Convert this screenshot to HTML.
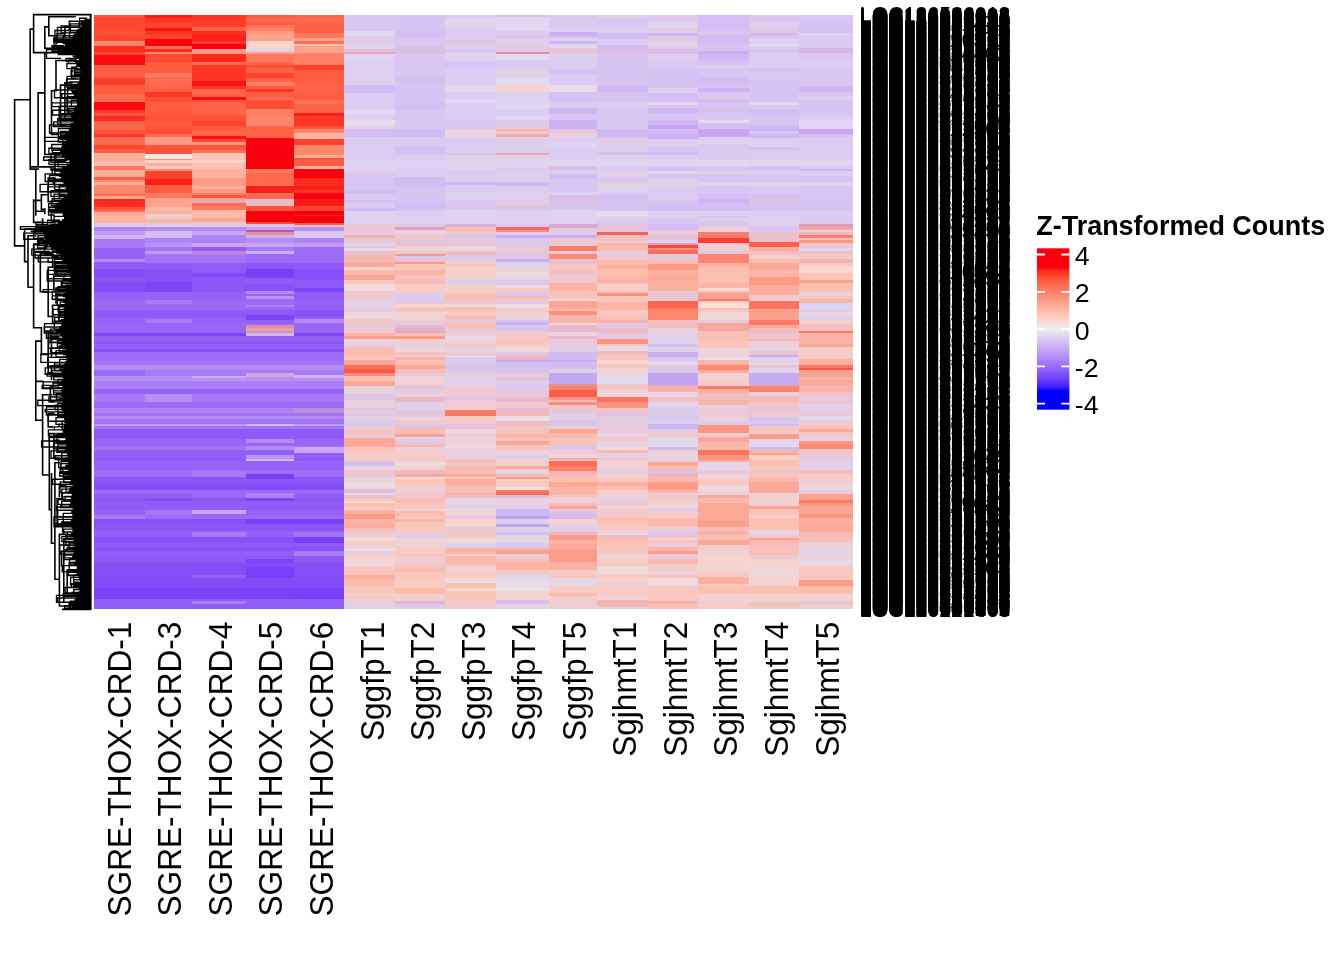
<!DOCTYPE html><html><head><meta charset="utf-8"><title>Heatmap</title><style>
html,body{margin:0;padding:0;background:#fff}
body{width:1344px;height:960px;position:relative;overflow:hidden;font-family:"Liberation Sans",sans-serif;color:#000}
svg{position:absolute;left:0;top:0;will-change:transform}
.rn{font-size:21.33px}
.cn{font-size:33px}
.lt{font-size:26.95px;font-weight:bold}
.ll{font-size:26.67px}

</style></head><body>
<svg width="1344" height="960" viewBox="0 0 1344 960">
<g shape-rendering="crispEdges">
<rect x="94.2" y="14.70" width="50.9" height="3.05" fill="#FF543B"/>
<rect x="94.2" y="17.45" width="50.9" height="13.55" fill="#FF4730"/>
<rect x="94.2" y="30.70" width="50.9" height="5.05" fill="#FF5037"/>
<rect x="94.2" y="35.45" width="50.9" height="5.80" fill="#FF4730"/>
<rect x="94.2" y="40.95" width="50.9" height="5.05" fill="#FF876C"/>
<rect x="94.2" y="45.70" width="50.9" height="7.05" fill="#FC2B1D"/>
<rect x="94.2" y="52.45" width="50.9" height="2.55" fill="#FF422C"/>
<rect x="94.2" y="54.70" width="50.9" height="10.30" fill="#FA0910"/>
<rect x="94.2" y="64.70" width="50.9" height="13.30" fill="#FF5C42"/>
<rect x="94.2" y="77.70" width="50.9" height="7.80" fill="#FE3D29"/>
<rect x="94.2" y="85.20" width="50.9" height="8.80" fill="#FF5C42"/>
<rect x="94.2" y="93.70" width="50.9" height="8.55" fill="#FF6B50"/>
<rect x="94.2" y="101.95" width="50.9" height="8.05" fill="#FA0910"/>
<rect x="94.2" y="109.70" width="50.9" height="3.80" fill="#FE3725"/>
<rect x="94.2" y="113.20" width="50.9" height="3.55" fill="#FF543B"/>
<rect x="94.2" y="116.45" width="50.9" height="4.80" fill="#FC2B1D"/>
<rect x="94.2" y="120.95" width="50.9" height="9.80" fill="#FF6449"/>
<rect x="94.2" y="130.45" width="50.9" height="4.05" fill="#FF543B"/>
<rect x="94.2" y="134.20" width="50.9" height="3.05" fill="#FE3725"/>
<rect x="94.2" y="136.95" width="50.9" height="8.05" fill="#FF6B50"/>
<rect x="94.2" y="144.70" width="50.9" height="4.80" fill="#FF422C"/>
<rect x="94.2" y="149.20" width="50.9" height="4.05" fill="#FF5C42"/>
<rect x="94.2" y="152.95" width="50.9" height="7.30" fill="#FFAE9A"/>
<rect x="94.2" y="159.95" width="50.9" height="2.30" fill="#FFB4A1"/>
<rect x="94.2" y="161.95" width="50.9" height="4.05" fill="#FFBFB0"/>
<rect x="94.2" y="165.70" width="50.9" height="5.05" fill="#FF795E"/>
<rect x="94.2" y="170.45" width="50.9" height="6.80" fill="#FFAE9A"/>
<rect x="94.2" y="176.95" width="50.9" height="3.05" fill="#FF5C42"/>
<rect x="94.2" y="179.70" width="50.9" height="2.30" fill="#FF8D73"/>
<rect x="94.2" y="181.70" width="50.9" height="4.05" fill="#FFAE9A"/>
<rect x="94.2" y="185.45" width="50.9" height="8.80" fill="#FF876C"/>
<rect x="94.2" y="193.95" width="50.9" height="2.05" fill="#FF6B50"/>
<rect x="94.2" y="195.70" width="50.9" height="3.30" fill="#FFA892"/>
<rect x="94.2" y="198.70" width="50.9" height="8.55" fill="#FC2B1D"/>
<rect x="94.2" y="206.95" width="50.9" height="3.30" fill="#FF543B"/>
<rect x="94.2" y="209.95" width="50.9" height="2.05" fill="#FF7257"/>
<rect x="94.2" y="211.70" width="50.9" height="5.05" fill="#FFA892"/>
<rect x="94.2" y="216.45" width="50.9" height="6.80" fill="#FFB4A1"/>
<rect x="94.2" y="222.95" width="50.9" height="4.05" fill="#DCC8E8"/>
<rect x="94.2" y="226.70" width="50.9" height="5.05" fill="#AE83F6"/>
<rect x="94.2" y="231.45" width="50.9" height="4.05" fill="#C09CF5"/>
<rect x="94.2" y="235.20" width="50.9" height="4.05" fill="#CFB6F3"/>
<rect x="94.2" y="238.95" width="50.9" height="9.80" fill="#A87BF6"/>
<rect x="94.2" y="248.45" width="50.9" height="10.55" fill="#9462F7"/>
<rect x="94.2" y="258.70" width="50.9" height="3.30" fill="#B48CF6"/>
<rect x="94.2" y="261.70" width="50.9" height="7.80" fill="#8F5CF7"/>
<rect x="94.2" y="269.20" width="50.9" height="7.80" fill="#804CF8"/>
<rect x="94.2" y="276.70" width="50.9" height="6.05" fill="#8A57F7"/>
<rect x="94.2" y="282.45" width="50.9" height="9.55" fill="#834EF8"/>
<rect x="94.2" y="291.70" width="50.9" height="8.80" fill="#9462F7"/>
<rect x="94.2" y="300.20" width="50.9" height="10.05" fill="#9B6AF7"/>
<rect x="94.2" y="309.95" width="50.9" height="7.05" fill="#8D5AF7"/>
<rect x="94.2" y="316.70" width="50.9" height="6.80" fill="#9462F7"/>
<rect x="94.2" y="323.20" width="50.9" height="9.80" fill="#9766F7"/>
<rect x="94.2" y="332.70" width="50.9" height="3.55" fill="#7B46F8"/>
<rect x="94.2" y="335.95" width="50.9" height="5.30" fill="#9462F7"/>
<rect x="94.2" y="340.95" width="50.9" height="3.30" fill="#8A57F7"/>
<rect x="94.2" y="343.95" width="50.9" height="5.05" fill="#9462F7"/>
<rect x="94.2" y="348.70" width="50.9" height="3.30" fill="#8551F8"/>
<rect x="94.2" y="351.70" width="50.9" height="9.30" fill="#9B6AF7"/>
<rect x="94.2" y="360.70" width="50.9" height="4.30" fill="#A577F7"/>
<rect x="94.2" y="364.70" width="50.9" height="5.80" fill="#B48CF6"/>
<rect x="94.2" y="370.20" width="50.9" height="6.05" fill="#9B6AF7"/>
<rect x="94.2" y="375.95" width="50.9" height="5.05" fill="#B790F5"/>
<rect x="94.2" y="380.70" width="50.9" height="8.55" fill="#AB7FF6"/>
<rect x="94.2" y="388.95" width="50.9" height="5.05" fill="#9462F7"/>
<rect x="94.2" y="393.70" width="50.9" height="8.80" fill="#A87BF6"/>
<rect x="94.2" y="402.20" width="50.9" height="6.05" fill="#9B6AF7"/>
<rect x="94.2" y="407.95" width="50.9" height="5.05" fill="#AE83F6"/>
<rect x="94.2" y="412.70" width="50.9" height="4.05" fill="#A173F7"/>
<rect x="94.2" y="416.45" width="50.9" height="3.05" fill="#B188F6"/>
<rect x="94.2" y="419.20" width="50.9" height="5.05" fill="#A173F7"/>
<rect x="94.2" y="423.95" width="50.9" height="2.55" fill="#C09CF5"/>
<rect x="94.2" y="426.20" width="50.9" height="3.55" fill="#A173F7"/>
<rect x="94.2" y="429.45" width="50.9" height="9.80" fill="#8D5AF7"/>
<rect x="94.2" y="438.95" width="50.9" height="7.80" fill="#9766F7"/>
<rect x="94.2" y="446.45" width="50.9" height="4.05" fill="#A173F7"/>
<rect x="94.2" y="450.20" width="50.9" height="8.80" fill="#915FF7"/>
<rect x="94.2" y="458.70" width="50.9" height="1.55" fill="#8551F8"/>
<rect x="94.2" y="459.95" width="50.9" height="10.80" fill="#9462F7"/>
<rect x="94.2" y="470.45" width="50.9" height="6.80" fill="#9E6EF7"/>
<rect x="94.2" y="476.95" width="50.9" height="7.80" fill="#8A57F7"/>
<rect x="94.2" y="484.45" width="50.9" height="5.55" fill="#834EF8"/>
<rect x="94.2" y="489.70" width="50.9" height="4.05" fill="#9B6AF7"/>
<rect x="94.2" y="493.45" width="50.9" height="4.55" fill="#915FF7"/>
<rect x="94.2" y="497.70" width="50.9" height="3.55" fill="#8A57F7"/>
<rect x="94.2" y="500.95" width="50.9" height="9.30" fill="#8F5CF7"/>
<rect x="94.2" y="509.95" width="50.9" height="5.05" fill="#9462F7"/>
<rect x="94.2" y="514.70" width="50.9" height="4.30" fill="#A87BF6"/>
<rect x="94.2" y="518.70" width="50.9" height="5.55" fill="#8551F8"/>
<rect x="94.2" y="523.95" width="50.9" height="7.80" fill="#8A57F7"/>
<rect x="94.2" y="531.45" width="50.9" height="6.30" fill="#9462F7"/>
<rect x="94.2" y="537.45" width="50.9" height="5.55" fill="#8551F8"/>
<rect x="94.2" y="542.70" width="50.9" height="5.05" fill="#8F5CF7"/>
<rect x="94.2" y="547.45" width="50.9" height="4.05" fill="#8551F8"/>
<rect x="94.2" y="551.20" width="50.9" height="5.05" fill="#915FF7"/>
<rect x="94.2" y="555.95" width="50.9" height="7.80" fill="#8D5AF7"/>
<rect x="94.2" y="563.45" width="50.9" height="17.30" fill="#834EF8"/>
<rect x="94.2" y="580.45" width="50.9" height="7.80" fill="#804CF8"/>
<rect x="94.2" y="587.95" width="50.9" height="11.55" fill="#7843F8"/>
<rect x="94.2" y="599.20" width="50.9" height="9.80" fill="#8F5CF7"/>
<rect x="94.2" y="608.70" width="50.9" height="0.40" fill="#8A57F7"/>
<rect x="144.8" y="14.70" width="47.4" height="4.05" fill="#FB1915"/>
<rect x="144.8" y="18.45" width="47.4" height="5.05" fill="#FE3725"/>
<rect x="144.8" y="23.20" width="47.4" height="5.05" fill="#FF422C"/>
<rect x="144.8" y="27.95" width="47.4" height="3.55" fill="#FB1313"/>
<rect x="144.8" y="31.20" width="47.4" height="4.55" fill="#FE3725"/>
<rect x="144.8" y="35.45" width="47.4" height="4.05" fill="#FF422C"/>
<rect x="144.8" y="39.20" width="47.4" height="6.80" fill="#FA000E"/>
<rect x="144.8" y="45.70" width="47.4" height="3.55" fill="#FF7257"/>
<rect x="144.8" y="48.95" width="47.4" height="3.05" fill="#FC2B1D"/>
<rect x="144.8" y="51.70" width="47.4" height="2.80" fill="#FF876C"/>
<rect x="144.8" y="54.20" width="47.4" height="7.80" fill="#FF4C33"/>
<rect x="144.8" y="61.70" width="47.4" height="11.55" fill="#FF5C42"/>
<rect x="144.8" y="72.95" width="47.4" height="4.05" fill="#FF795E"/>
<rect x="144.8" y="76.70" width="47.4" height="8.80" fill="#FF6B50"/>
<rect x="144.8" y="85.20" width="47.4" height="7.05" fill="#FF6449"/>
<rect x="144.8" y="91.95" width="47.4" height="5.30" fill="#FE3725"/>
<rect x="144.8" y="96.95" width="47.4" height="5.30" fill="#FF4C33"/>
<rect x="144.8" y="101.95" width="47.4" height="13.80" fill="#FF5C42"/>
<rect x="144.8" y="115.45" width="47.4" height="5.80" fill="#FF543B"/>
<rect x="144.8" y="120.95" width="47.4" height="5.05" fill="#FF5C42"/>
<rect x="144.8" y="125.70" width="47.4" height="4.05" fill="#FF543B"/>
<rect x="144.8" y="129.45" width="47.4" height="5.05" fill="#FF4C33"/>
<rect x="144.8" y="134.20" width="47.4" height="3.05" fill="#FF6B50"/>
<rect x="144.8" y="136.95" width="47.4" height="8.80" fill="#FF9B84"/>
<rect x="144.8" y="145.45" width="47.4" height="8.80" fill="#FF543B"/>
<rect x="144.8" y="153.95" width="47.4" height="5.05" fill="#F1E8E6"/>
<rect x="144.8" y="158.70" width="47.4" height="1.55" fill="#FF8D73"/>
<rect x="144.8" y="159.95" width="47.4" height="3.05" fill="#FBD1C7"/>
<rect x="144.8" y="162.70" width="47.4" height="3.30" fill="#FFAE9A"/>
<rect x="144.8" y="165.70" width="47.4" height="3.55" fill="#FDCBBF"/>
<rect x="144.8" y="168.95" width="47.4" height="2.30" fill="#FF8D73"/>
<rect x="144.8" y="170.95" width="47.4" height="8.05" fill="#FF422C"/>
<rect x="144.8" y="178.70" width="47.4" height="6.55" fill="#FB1F17"/>
<rect x="144.8" y="184.95" width="47.4" height="8.30" fill="#FF5C42"/>
<rect x="144.8" y="192.95" width="47.4" height="5.05" fill="#FF795E"/>
<rect x="144.8" y="197.70" width="47.4" height="9.55" fill="#FFA28B"/>
<rect x="144.8" y="206.95" width="47.4" height="4.05" fill="#FFBAA9"/>
<rect x="144.8" y="210.70" width="47.4" height="3.30" fill="#FFAE9A"/>
<rect x="144.8" y="213.70" width="47.4" height="5.30" fill="#ECD0D0"/>
<rect x="144.8" y="218.70" width="47.4" height="4.55" fill="#FFB4A1"/>
<rect x="144.8" y="222.95" width="47.4" height="4.05" fill="#E0CCE4"/>
<rect x="144.8" y="226.70" width="47.4" height="5.05" fill="#B48CF6"/>
<rect x="144.8" y="231.45" width="47.4" height="7.05" fill="#D3BBF3"/>
<rect x="144.8" y="238.20" width="47.4" height="4.80" fill="#AE83F6"/>
<rect x="144.8" y="242.70" width="47.4" height="5.05" fill="#BA94F5"/>
<rect x="144.8" y="247.45" width="47.4" height="4.05" fill="#A173F7"/>
<rect x="144.8" y="251.20" width="47.4" height="3.30" fill="#C09CF5"/>
<rect x="144.8" y="254.20" width="47.4" height="8.80" fill="#A173F7"/>
<rect x="144.8" y="262.70" width="47.4" height="6.80" fill="#8F5CF7"/>
<rect x="144.8" y="269.20" width="47.4" height="13.55" fill="#8551F8"/>
<rect x="144.8" y="282.45" width="47.4" height="9.55" fill="#7B46F8"/>
<rect x="144.8" y="291.70" width="47.4" height="8.80" fill="#9462F7"/>
<rect x="144.8" y="300.20" width="47.4" height="4.05" fill="#A87BF6"/>
<rect x="144.8" y="303.95" width="47.4" height="6.30" fill="#9B6AF7"/>
<rect x="144.8" y="309.95" width="47.4" height="7.05" fill="#8D5AF7"/>
<rect x="144.8" y="316.70" width="47.4" height="3.05" fill="#9462F7"/>
<rect x="144.8" y="319.45" width="47.4" height="3.55" fill="#A87BF6"/>
<rect x="144.8" y="322.70" width="47.4" height="0.80" fill="#9462F7"/>
<rect x="144.8" y="323.20" width="47.4" height="9.80" fill="#9766F7"/>
<rect x="144.8" y="332.70" width="47.4" height="3.55" fill="#7B46F8"/>
<rect x="144.8" y="335.95" width="47.4" height="5.30" fill="#9462F7"/>
<rect x="144.8" y="340.95" width="47.4" height="3.30" fill="#8A57F7"/>
<rect x="144.8" y="343.95" width="47.4" height="5.05" fill="#9462F7"/>
<rect x="144.8" y="348.70" width="47.4" height="3.30" fill="#8551F8"/>
<rect x="144.8" y="351.70" width="47.4" height="9.30" fill="#9B6AF7"/>
<rect x="144.8" y="360.70" width="47.4" height="4.30" fill="#A577F7"/>
<rect x="144.8" y="364.70" width="47.4" height="5.80" fill="#B48CF6"/>
<rect x="144.8" y="370.20" width="47.4" height="6.05" fill="#A87BF6"/>
<rect x="144.8" y="375.95" width="47.4" height="5.05" fill="#B790F5"/>
<rect x="144.8" y="380.70" width="47.4" height="8.55" fill="#AB7FF6"/>
<rect x="144.8" y="388.95" width="47.4" height="5.05" fill="#9462F7"/>
<rect x="144.8" y="393.70" width="47.4" height="8.80" fill="#B790F5"/>
<rect x="144.8" y="402.20" width="47.4" height="6.05" fill="#9B6AF7"/>
<rect x="144.8" y="407.95" width="47.4" height="5.05" fill="#AE83F6"/>
<rect x="144.8" y="412.70" width="47.4" height="4.05" fill="#A173F7"/>
<rect x="144.8" y="416.45" width="47.4" height="3.05" fill="#B188F6"/>
<rect x="144.8" y="419.20" width="47.4" height="5.05" fill="#A173F7"/>
<rect x="144.8" y="423.95" width="47.4" height="2.55" fill="#C09CF5"/>
<rect x="144.8" y="426.20" width="47.4" height="3.55" fill="#A173F7"/>
<rect x="144.8" y="429.45" width="47.4" height="9.80" fill="#8D5AF7"/>
<rect x="144.8" y="438.95" width="47.4" height="7.80" fill="#9766F7"/>
<rect x="144.8" y="446.45" width="47.4" height="4.05" fill="#A173F7"/>
<rect x="144.8" y="450.20" width="47.4" height="8.80" fill="#915FF7"/>
<rect x="144.8" y="458.70" width="47.4" height="1.55" fill="#8551F8"/>
<rect x="144.8" y="459.95" width="47.4" height="10.80" fill="#9462F7"/>
<rect x="144.8" y="470.45" width="47.4" height="6.80" fill="#9E6EF7"/>
<rect x="144.8" y="476.95" width="47.4" height="7.80" fill="#8A57F7"/>
<rect x="144.8" y="484.45" width="47.4" height="5.55" fill="#834EF8"/>
<rect x="144.8" y="489.70" width="47.4" height="4.05" fill="#9B6AF7"/>
<rect x="144.8" y="493.45" width="47.4" height="4.55" fill="#915FF7"/>
<rect x="144.8" y="497.70" width="47.4" height="3.55" fill="#804CF8"/>
<rect x="144.8" y="500.95" width="47.4" height="9.30" fill="#8F5CF7"/>
<rect x="144.8" y="509.95" width="47.4" height="5.05" fill="#A577F7"/>
<rect x="144.8" y="514.70" width="47.4" height="4.30" fill="#9B6AF7"/>
<rect x="144.8" y="518.70" width="47.4" height="5.55" fill="#8551F8"/>
<rect x="144.8" y="523.95" width="47.4" height="7.80" fill="#8A57F7"/>
<rect x="144.8" y="531.45" width="47.4" height="6.30" fill="#9462F7"/>
<rect x="144.8" y="537.45" width="47.4" height="5.55" fill="#8551F8"/>
<rect x="144.8" y="542.70" width="47.4" height="5.05" fill="#8F5CF7"/>
<rect x="144.8" y="547.45" width="47.4" height="4.05" fill="#8551F8"/>
<rect x="144.8" y="551.20" width="47.4" height="5.05" fill="#915FF7"/>
<rect x="144.8" y="555.95" width="47.4" height="7.80" fill="#8D5AF7"/>
<rect x="144.8" y="563.45" width="47.4" height="17.30" fill="#834EF8"/>
<rect x="144.8" y="580.45" width="47.4" height="7.80" fill="#804CF8"/>
<rect x="144.8" y="587.95" width="47.4" height="11.55" fill="#7843F8"/>
<rect x="144.8" y="599.20" width="47.4" height="9.80" fill="#8F5CF7"/>
<rect x="144.8" y="608.70" width="47.4" height="0.40" fill="#8A57F7"/>
<rect x="191.9" y="14.70" width="54.4" height="4.05" fill="#FE3725"/>
<rect x="191.9" y="18.45" width="54.4" height="8.80" fill="#FE3D29"/>
<rect x="191.9" y="26.95" width="54.4" height="4.55" fill="#FF6449"/>
<rect x="191.9" y="31.20" width="54.4" height="4.55" fill="#FC2B1D"/>
<rect x="191.9" y="35.45" width="54.4" height="5.80" fill="#FB1F17"/>
<rect x="191.9" y="40.95" width="54.4" height="3.30" fill="#FE3725"/>
<rect x="191.9" y="43.95" width="54.4" height="5.30" fill="#FA000E"/>
<rect x="191.9" y="48.95" width="54.4" height="5.55" fill="#FF9E87"/>
<rect x="191.9" y="54.20" width="54.4" height="7.80" fill="#FC2B1D"/>
<rect x="191.9" y="61.70" width="54.4" height="3.55" fill="#FF6B50"/>
<rect x="191.9" y="64.95" width="54.4" height="16.05" fill="#FE3725"/>
<rect x="191.9" y="80.70" width="54.4" height="5.80" fill="#FB1313"/>
<rect x="191.9" y="86.20" width="54.4" height="3.05" fill="#FE3725"/>
<rect x="191.9" y="88.95" width="54.4" height="8.30" fill="#FF6449"/>
<rect x="191.9" y="96.95" width="54.4" height="3.30" fill="#FA0910"/>
<rect x="191.9" y="99.95" width="54.4" height="2.55" fill="#FF543B"/>
<rect x="191.9" y="102.20" width="54.4" height="13.55" fill="#FF6449"/>
<rect x="191.9" y="115.45" width="54.4" height="5.80" fill="#FF543B"/>
<rect x="191.9" y="120.95" width="54.4" height="5.05" fill="#FF422C"/>
<rect x="191.9" y="125.70" width="54.4" height="5.05" fill="#FF5C42"/>
<rect x="191.9" y="130.45" width="54.4" height="6.30" fill="#FF6449"/>
<rect x="191.9" y="136.45" width="54.4" height="2.80" fill="#FB1313"/>
<rect x="191.9" y="138.95" width="54.4" height="3.05" fill="#FF4C33"/>
<rect x="191.9" y="141.70" width="54.4" height="3.80" fill="#FF9B84"/>
<rect x="191.9" y="145.20" width="54.4" height="5.30" fill="#FF543B"/>
<rect x="191.9" y="150.20" width="54.4" height="3.05" fill="#FF7257"/>
<rect x="191.9" y="152.95" width="54.4" height="7.30" fill="#FEC5B8"/>
<rect x="191.9" y="159.95" width="54.4" height="3.05" fill="#FBD1C7"/>
<rect x="191.9" y="162.70" width="54.4" height="6.55" fill="#FFBFB0"/>
<rect x="191.9" y="168.95" width="54.4" height="9.30" fill="#FFB4A1"/>
<rect x="191.9" y="177.95" width="54.4" height="8.80" fill="#FF9B84"/>
<rect x="191.9" y="186.45" width="54.4" height="3.05" fill="#FFAE9A"/>
<rect x="191.9" y="189.20" width="54.4" height="4.05" fill="#FF9B84"/>
<rect x="191.9" y="192.95" width="54.4" height="2.05" fill="#FF8065"/>
<rect x="191.9" y="194.70" width="54.4" height="3.30" fill="#FF543B"/>
<rect x="191.9" y="197.70" width="54.4" height="1.80" fill="#FF9B84"/>
<rect x="191.9" y="199.20" width="54.4" height="4.05" fill="#E8A8B8"/>
<rect x="191.9" y="202.95" width="54.4" height="3.55" fill="#FF6B50"/>
<rect x="191.9" y="206.20" width="54.4" height="4.55" fill="#FF795E"/>
<rect x="191.9" y="210.45" width="54.4" height="8.30" fill="#FFBAA9"/>
<rect x="191.9" y="218.45" width="54.4" height="4.05" fill="#FFA892"/>
<rect x="191.9" y="222.20" width="54.4" height="4.80" fill="#E4C8DC"/>
<rect x="191.9" y="226.70" width="54.4" height="5.05" fill="#B48CF6"/>
<rect x="191.9" y="231.45" width="54.4" height="4.05" fill="#C5A5F4"/>
<rect x="191.9" y="235.20" width="54.4" height="7.80" fill="#AE83F6"/>
<rect x="191.9" y="242.70" width="54.4" height="5.05" fill="#C5A5F4"/>
<rect x="191.9" y="247.45" width="54.4" height="3.55" fill="#8F5CF7"/>
<rect x="191.9" y="250.70" width="54.4" height="4.55" fill="#BE85D8"/>
<rect x="191.9" y="254.95" width="54.4" height="8.80" fill="#A173F7"/>
<rect x="191.9" y="263.45" width="54.4" height="9.80" fill="#8F5CF7"/>
<rect x="191.9" y="272.95" width="54.4" height="4.05" fill="#804CF8"/>
<rect x="191.9" y="276.70" width="54.4" height="15.30" fill="#8A57F7"/>
<rect x="191.9" y="291.70" width="54.4" height="8.80" fill="#9462F7"/>
<rect x="191.9" y="300.20" width="54.4" height="10.05" fill="#9B6AF7"/>
<rect x="191.9" y="309.95" width="54.4" height="7.05" fill="#8D5AF7"/>
<rect x="191.9" y="316.70" width="54.4" height="6.80" fill="#9462F7"/>
<rect x="191.9" y="323.20" width="54.4" height="9.80" fill="#9766F7"/>
<rect x="191.9" y="332.70" width="54.4" height="3.55" fill="#7B46F8"/>
<rect x="191.9" y="335.95" width="54.4" height="5.30" fill="#9462F7"/>
<rect x="191.9" y="340.95" width="54.4" height="3.30" fill="#8A57F7"/>
<rect x="191.9" y="343.95" width="54.4" height="5.05" fill="#9462F7"/>
<rect x="191.9" y="348.70" width="54.4" height="3.30" fill="#8551F8"/>
<rect x="191.9" y="351.70" width="54.4" height="9.30" fill="#9B6AF7"/>
<rect x="191.9" y="360.70" width="54.4" height="4.30" fill="#A577F7"/>
<rect x="191.9" y="364.70" width="54.4" height="5.80" fill="#B48CF6"/>
<rect x="191.9" y="370.20" width="54.4" height="6.05" fill="#A87BF6"/>
<rect x="191.9" y="375.95" width="54.4" height="2.55" fill="#CAADF4"/>
<rect x="191.9" y="378.20" width="54.4" height="2.80" fill="#B790F5"/>
<rect x="191.9" y="380.70" width="54.4" height="8.55" fill="#AB7FF6"/>
<rect x="191.9" y="388.95" width="54.4" height="5.05" fill="#9462F7"/>
<rect x="191.9" y="393.70" width="54.4" height="8.80" fill="#A87BF6"/>
<rect x="191.9" y="402.20" width="54.4" height="6.05" fill="#9B6AF7"/>
<rect x="191.9" y="407.95" width="54.4" height="5.05" fill="#AE83F6"/>
<rect x="191.9" y="412.70" width="54.4" height="4.05" fill="#A173F7"/>
<rect x="191.9" y="416.45" width="54.4" height="3.05" fill="#B188F6"/>
<rect x="191.9" y="419.20" width="54.4" height="5.05" fill="#A173F7"/>
<rect x="191.9" y="423.95" width="54.4" height="2.55" fill="#C09CF5"/>
<rect x="191.9" y="426.20" width="54.4" height="3.55" fill="#A173F7"/>
<rect x="191.9" y="429.45" width="54.4" height="9.80" fill="#8D5AF7"/>
<rect x="191.9" y="438.95" width="54.4" height="7.80" fill="#9766F7"/>
<rect x="191.9" y="446.45" width="54.4" height="4.05" fill="#A173F7"/>
<rect x="191.9" y="450.20" width="54.4" height="8.80" fill="#915FF7"/>
<rect x="191.9" y="458.70" width="54.4" height="1.55" fill="#8551F8"/>
<rect x="191.9" y="459.95" width="54.4" height="10.80" fill="#9462F7"/>
<rect x="191.9" y="470.45" width="54.4" height="1.05" fill="#9E6EF7"/>
<rect x="191.9" y="471.20" width="54.4" height="6.05" fill="#A87BF6"/>
<rect x="191.9" y="476.95" width="54.4" height="7.80" fill="#8A57F7"/>
<rect x="191.9" y="484.45" width="54.4" height="5.55" fill="#834EF8"/>
<rect x="191.9" y="489.70" width="54.4" height="8.30" fill="#9B6AF7"/>
<rect x="191.9" y="497.70" width="54.4" height="3.55" fill="#8A57F7"/>
<rect x="191.9" y="500.95" width="54.4" height="9.30" fill="#8F5CF7"/>
<rect x="191.9" y="509.95" width="54.4" height="0.80" fill="#9462F7"/>
<rect x="191.9" y="510.45" width="54.4" height="4.05" fill="#C5A5F4"/>
<rect x="191.9" y="514.20" width="54.4" height="0.80" fill="#9462F7"/>
<rect x="191.9" y="514.70" width="54.4" height="4.30" fill="#9B6AF7"/>
<rect x="191.9" y="518.70" width="54.4" height="5.55" fill="#8551F8"/>
<rect x="191.9" y="523.95" width="54.4" height="7.80" fill="#8A57F7"/>
<rect x="191.9" y="531.45" width="54.4" height="1.30" fill="#9462F7"/>
<rect x="191.9" y="532.45" width="54.4" height="5.05" fill="#A87BF6"/>
<rect x="191.9" y="537.20" width="54.4" height="0.55" fill="#9462F7"/>
<rect x="191.9" y="537.45" width="54.4" height="5.55" fill="#8551F8"/>
<rect x="191.9" y="542.70" width="54.4" height="5.05" fill="#8F5CF7"/>
<rect x="191.9" y="547.45" width="54.4" height="4.05" fill="#8551F8"/>
<rect x="191.9" y="551.20" width="54.4" height="5.05" fill="#915FF7"/>
<rect x="191.9" y="555.95" width="54.4" height="7.80" fill="#8D5AF7"/>
<rect x="191.9" y="563.45" width="54.4" height="11.55" fill="#834EF8"/>
<rect x="191.9" y="574.70" width="54.4" height="3.30" fill="#9462F7"/>
<rect x="191.9" y="577.70" width="54.4" height="3.05" fill="#834EF8"/>
<rect x="191.9" y="580.45" width="54.4" height="7.80" fill="#804CF8"/>
<rect x="191.9" y="587.95" width="54.4" height="11.55" fill="#7843F8"/>
<rect x="191.9" y="599.20" width="54.4" height="1.80" fill="#8F5CF7"/>
<rect x="191.9" y="600.70" width="54.4" height="3.55" fill="#A87BF6"/>
<rect x="191.9" y="603.95" width="54.4" height="5.05" fill="#8F5CF7"/>
<rect x="191.9" y="608.70" width="54.4" height="0.40" fill="#8A57F7"/>
<rect x="246.0" y="14.70" width="48.3" height="4.05" fill="#FF5C42"/>
<rect x="246.0" y="18.45" width="48.3" height="3.55" fill="#FF6B50"/>
<rect x="246.0" y="21.70" width="48.3" height="3.55" fill="#FF5C42"/>
<rect x="246.0" y="24.95" width="48.3" height="3.30" fill="#FF7257"/>
<rect x="246.0" y="27.95" width="48.3" height="3.55" fill="#FF8065"/>
<rect x="246.0" y="31.20" width="48.3" height="3.55" fill="#FF9B84"/>
<rect x="246.0" y="34.45" width="48.3" height="6.80" fill="#FFA28B"/>
<rect x="246.0" y="40.95" width="48.3" height="8.05" fill="#FAD4CB"/>
<rect x="246.0" y="48.70" width="48.3" height="3.30" fill="#DFD2F1"/>
<rect x="246.0" y="51.70" width="48.3" height="2.80" fill="#FFA28B"/>
<rect x="246.0" y="54.20" width="48.3" height="7.80" fill="#FF795E"/>
<rect x="246.0" y="61.70" width="48.3" height="3.30" fill="#FF6449"/>
<rect x="246.0" y="64.70" width="48.3" height="4.05" fill="#FF4C33"/>
<rect x="246.0" y="68.45" width="48.3" height="4.80" fill="#FF6449"/>
<rect x="246.0" y="72.95" width="48.3" height="5.05" fill="#FF422C"/>
<rect x="246.0" y="77.70" width="48.3" height="5.05" fill="#FF6449"/>
<rect x="246.0" y="82.45" width="48.3" height="4.05" fill="#FF8065"/>
<rect x="246.0" y="86.20" width="48.3" height="3.05" fill="#FF5C42"/>
<rect x="246.0" y="88.95" width="48.3" height="3.30" fill="#FE3725"/>
<rect x="246.0" y="91.95" width="48.3" height="5.30" fill="#FF5C42"/>
<rect x="246.0" y="96.95" width="48.3" height="3.30" fill="#FF6B50"/>
<rect x="246.0" y="99.95" width="48.3" height="9.05" fill="#FF4C33"/>
<rect x="246.0" y="108.70" width="48.3" height="8.80" fill="#FF8065"/>
<rect x="246.0" y="117.20" width="48.3" height="8.80" fill="#FF876C"/>
<rect x="246.0" y="125.70" width="48.3" height="12.55" fill="#FF6449"/>
<rect x="246.0" y="137.95" width="48.3" height="31.30" fill="#FA000E"/>
<rect x="246.0" y="168.95" width="48.3" height="4.55" fill="#FF795E"/>
<rect x="246.0" y="173.20" width="48.3" height="13.55" fill="#FF6B50"/>
<rect x="246.0" y="186.45" width="48.3" height="6.80" fill="#FB1F17"/>
<rect x="246.0" y="192.95" width="48.3" height="6.80" fill="#FF6B50"/>
<rect x="246.0" y="199.45" width="48.3" height="7.05" fill="#ECBCC8"/>
<rect x="246.0" y="206.20" width="48.3" height="4.80" fill="#FF543B"/>
<rect x="246.0" y="210.70" width="48.3" height="11.80" fill="#FA000E"/>
<rect x="246.0" y="222.20" width="48.3" height="2.05" fill="#FF4C33"/>
<rect x="246.0" y="223.95" width="48.3" height="3.05" fill="#E0C0E0"/>
<rect x="246.0" y="226.70" width="48.3" height="3.55" fill="#C5A5F4"/>
<rect x="246.0" y="229.95" width="48.3" height="2.30" fill="#B45AA8"/>
<rect x="246.0" y="231.95" width="48.3" height="3.30" fill="#E890A0"/>
<rect x="246.0" y="234.95" width="48.3" height="3.55" fill="#CFB6F3"/>
<rect x="246.0" y="238.20" width="48.3" height="4.80" fill="#B48CF6"/>
<rect x="246.0" y="242.70" width="48.3" height="5.05" fill="#C5A5F4"/>
<rect x="246.0" y="247.45" width="48.3" height="3.55" fill="#A87BF6"/>
<rect x="246.0" y="250.70" width="48.3" height="3.80" fill="#CAADF4"/>
<rect x="246.0" y="254.20" width="48.3" height="9.55" fill="#9B6AF7"/>
<rect x="246.0" y="263.45" width="48.3" height="6.05" fill="#8A57F7"/>
<rect x="246.0" y="269.20" width="48.3" height="8.80" fill="#7540F8"/>
<rect x="246.0" y="277.70" width="48.3" height="6.80" fill="#8F5CF7"/>
<rect x="246.0" y="284.20" width="48.3" height="6.80" fill="#8551F8"/>
<rect x="246.0" y="290.70" width="48.3" height="3.30" fill="#B48CF6"/>
<rect x="246.0" y="293.70" width="48.3" height="2.55" fill="#9462F7"/>
<rect x="246.0" y="295.95" width="48.3" height="3.55" fill="#BA94F5"/>
<rect x="246.0" y="299.20" width="48.3" height="6.05" fill="#9B6AF7"/>
<rect x="246.0" y="304.95" width="48.3" height="2.05" fill="#AE83F6"/>
<rect x="246.0" y="306.70" width="48.3" height="3.55" fill="#9B6AF7"/>
<rect x="246.0" y="309.95" width="48.3" height="5.05" fill="#8D5AF7"/>
<rect x="246.0" y="314.70" width="48.3" height="6.05" fill="#7B46F8"/>
<rect x="246.0" y="320.45" width="48.3" height="3.05" fill="#9462F7"/>
<rect x="246.0" y="323.20" width="48.3" height="2.05" fill="#9766F7"/>
<rect x="246.0" y="324.95" width="48.3" height="3.30" fill="#D890B0"/>
<rect x="246.0" y="327.95" width="48.3" height="3.55" fill="#F4A090"/>
<rect x="246.0" y="331.20" width="48.3" height="2.05" fill="#BA94F5"/>
<rect x="246.0" y="332.95" width="48.3" height="3.30" fill="#DCB8D8"/>
<rect x="246.0" y="335.95" width="48.3" height="5.30" fill="#9462F7"/>
<rect x="246.0" y="340.95" width="48.3" height="3.30" fill="#8A57F7"/>
<rect x="246.0" y="343.95" width="48.3" height="5.05" fill="#9462F7"/>
<rect x="246.0" y="348.70" width="48.3" height="3.30" fill="#8551F8"/>
<rect x="246.0" y="351.70" width="48.3" height="9.30" fill="#9B6AF7"/>
<rect x="246.0" y="360.70" width="48.3" height="4.30" fill="#A577F7"/>
<rect x="246.0" y="364.70" width="48.3" height="5.80" fill="#B48CF6"/>
<rect x="246.0" y="370.20" width="48.3" height="3.05" fill="#A87BF6"/>
<rect x="246.0" y="372.95" width="48.3" height="4.05" fill="#D0A8D8"/>
<rect x="246.0" y="376.70" width="48.3" height="4.30" fill="#B790F5"/>
<rect x="246.0" y="380.70" width="48.3" height="8.55" fill="#AB7FF6"/>
<rect x="246.0" y="388.95" width="48.3" height="5.05" fill="#9462F7"/>
<rect x="246.0" y="393.70" width="48.3" height="8.80" fill="#A87BF6"/>
<rect x="246.0" y="402.20" width="48.3" height="6.05" fill="#9B6AF7"/>
<rect x="246.0" y="407.95" width="48.3" height="5.05" fill="#AE83F6"/>
<rect x="246.0" y="412.70" width="48.3" height="4.05" fill="#A173F7"/>
<rect x="246.0" y="416.45" width="48.3" height="3.05" fill="#B188F6"/>
<rect x="246.0" y="419.20" width="48.3" height="5.05" fill="#A173F7"/>
<rect x="246.0" y="423.95" width="48.3" height="2.55" fill="#D3BBF3"/>
<rect x="246.0" y="426.20" width="48.3" height="3.55" fill="#A173F7"/>
<rect x="246.0" y="429.45" width="48.3" height="9.80" fill="#8D5AF7"/>
<rect x="246.0" y="438.95" width="48.3" height="4.05" fill="#B48CF6"/>
<rect x="246.0" y="442.70" width="48.3" height="4.05" fill="#9766F7"/>
<rect x="246.0" y="446.45" width="48.3" height="4.05" fill="#B48CF6"/>
<rect x="246.0" y="450.20" width="48.3" height="5.05" fill="#915FF7"/>
<rect x="246.0" y="454.95" width="48.3" height="4.05" fill="#BA94F5"/>
<rect x="246.0" y="458.70" width="48.3" height="1.55" fill="#CFB6F3"/>
<rect x="246.0" y="459.95" width="48.3" height="1.30" fill="#D3BBF3"/>
<rect x="246.0" y="460.95" width="48.3" height="9.80" fill="#9462F7"/>
<rect x="246.0" y="470.45" width="48.3" height="4.05" fill="#9E6EF7"/>
<rect x="246.0" y="474.20" width="48.3" height="4.80" fill="#7540F8"/>
<rect x="246.0" y="478.70" width="48.3" height="6.05" fill="#8A57F7"/>
<rect x="246.0" y="484.45" width="48.3" height="5.55" fill="#834EF8"/>
<rect x="246.0" y="489.70" width="48.3" height="4.05" fill="#9B6AF7"/>
<rect x="246.0" y="493.45" width="48.3" height="4.55" fill="#AE83F6"/>
<rect x="246.0" y="497.70" width="48.3" height="3.55" fill="#7B46F8"/>
<rect x="246.0" y="500.95" width="48.3" height="9.30" fill="#8F5CF7"/>
<rect x="246.0" y="509.95" width="48.3" height="5.05" fill="#9462F7"/>
<rect x="246.0" y="514.70" width="48.3" height="4.30" fill="#9B6AF7"/>
<rect x="246.0" y="518.70" width="48.3" height="5.55" fill="#7540F8"/>
<rect x="246.0" y="523.95" width="48.3" height="7.80" fill="#8A57F7"/>
<rect x="246.0" y="531.45" width="48.3" height="6.30" fill="#9462F7"/>
<rect x="246.0" y="537.45" width="48.3" height="5.55" fill="#8551F8"/>
<rect x="246.0" y="542.70" width="48.3" height="5.05" fill="#8F5CF7"/>
<rect x="246.0" y="547.45" width="48.3" height="4.05" fill="#8551F8"/>
<rect x="246.0" y="551.20" width="48.3" height="5.05" fill="#915FF7"/>
<rect x="246.0" y="555.95" width="48.3" height="3.05" fill="#8D5AF7"/>
<rect x="246.0" y="558.70" width="48.3" height="5.05" fill="#7B46F8"/>
<rect x="246.0" y="563.45" width="48.3" height="3.80" fill="#834EF8"/>
<rect x="246.0" y="566.95" width="48.3" height="11.05" fill="#7540F8"/>
<rect x="246.0" y="577.70" width="48.3" height="3.05" fill="#834EF8"/>
<rect x="246.0" y="580.45" width="48.3" height="7.80" fill="#804CF8"/>
<rect x="246.0" y="587.95" width="48.3" height="11.55" fill="#7843F8"/>
<rect x="246.0" y="599.20" width="48.3" height="9.80" fill="#8F5CF7"/>
<rect x="246.0" y="608.70" width="48.3" height="0.40" fill="#8A57F7"/>
<rect x="294.0" y="14.70" width="50.3" height="4.05" fill="#FF6449"/>
<rect x="294.0" y="18.45" width="50.3" height="5.05" fill="#FF6B50"/>
<rect x="294.0" y="23.20" width="50.3" height="9.80" fill="#FF6045"/>
<rect x="294.0" y="32.70" width="50.3" height="5.80" fill="#FF795E"/>
<rect x="294.0" y="38.20" width="50.3" height="3.05" fill="#FFA28B"/>
<rect x="294.0" y="40.95" width="50.3" height="3.30" fill="#FF7257"/>
<rect x="294.0" y="43.95" width="50.3" height="2.55" fill="#FFBFB0"/>
<rect x="294.0" y="46.20" width="50.3" height="7.30" fill="#FFA28B"/>
<rect x="294.0" y="53.20" width="50.3" height="11.80" fill="#FF8065"/>
<rect x="294.0" y="64.70" width="50.3" height="5.80" fill="#FF422C"/>
<rect x="294.0" y="70.20" width="50.3" height="13.55" fill="#FF5C42"/>
<rect x="294.0" y="83.45" width="50.3" height="9.55" fill="#FF6449"/>
<rect x="294.0" y="92.70" width="50.3" height="8.05" fill="#FF5C42"/>
<rect x="294.0" y="100.45" width="50.3" height="4.05" fill="#FF7257"/>
<rect x="294.0" y="104.20" width="50.3" height="8.80" fill="#FF6449"/>
<rect x="294.0" y="112.70" width="50.3" height="4.05" fill="#FB1F17"/>
<rect x="294.0" y="116.45" width="50.3" height="9.55" fill="#FE3725"/>
<rect x="294.0" y="125.70" width="50.3" height="4.05" fill="#FF543B"/>
<rect x="294.0" y="129.45" width="50.3" height="4.05" fill="#FF876C"/>
<rect x="294.0" y="133.20" width="50.3" height="6.05" fill="#FFB4A1"/>
<rect x="294.0" y="138.95" width="50.3" height="6.05" fill="#FF422C"/>
<rect x="294.0" y="144.70" width="50.3" height="10.55" fill="#FF876C"/>
<rect x="294.0" y="154.95" width="50.3" height="3.05" fill="#FFAE9A"/>
<rect x="294.0" y="157.70" width="50.3" height="2.55" fill="#FF543B"/>
<rect x="294.0" y="159.95" width="50.3" height="6.05" fill="#FF5C42"/>
<rect x="294.0" y="165.70" width="50.3" height="3.55" fill="#FFB4A1"/>
<rect x="294.0" y="168.95" width="50.3" height="9.30" fill="#FA000E"/>
<rect x="294.0" y="177.95" width="50.3" height="8.80" fill="#FC2B1D"/>
<rect x="294.0" y="186.45" width="50.3" height="4.05" fill="#FB1F17"/>
<rect x="294.0" y="190.20" width="50.3" height="3.05" fill="#FE3725"/>
<rect x="294.0" y="192.95" width="50.3" height="6.05" fill="#FA000E"/>
<rect x="294.0" y="198.70" width="50.3" height="7.80" fill="#FB1915"/>
<rect x="294.0" y="206.20" width="50.3" height="4.80" fill="#FF422C"/>
<rect x="294.0" y="210.70" width="50.3" height="4.30" fill="#FA000E"/>
<rect x="294.0" y="214.70" width="50.3" height="2.05" fill="#FC2B1D"/>
<rect x="294.0" y="216.45" width="50.3" height="6.80" fill="#FA000E"/>
<rect x="294.0" y="222.95" width="50.3" height="2.30" fill="#FF5C42"/>
<rect x="294.0" y="224.95" width="50.3" height="2.55" fill="#E8C0C8"/>
<rect x="294.0" y="227.20" width="50.3" height="4.55" fill="#B48CF6"/>
<rect x="294.0" y="231.45" width="50.3" height="7.05" fill="#D9C6F2"/>
<rect x="294.0" y="238.20" width="50.3" height="4.80" fill="#AE83F6"/>
<rect x="294.0" y="242.70" width="50.3" height="5.05" fill="#C09CF5"/>
<rect x="294.0" y="247.45" width="50.3" height="16.30" fill="#9B6AF7"/>
<rect x="294.0" y="263.45" width="50.3" height="6.05" fill="#8F5CF7"/>
<rect x="294.0" y="269.20" width="50.3" height="11.55" fill="#8551F8"/>
<rect x="294.0" y="280.45" width="50.3" height="7.80" fill="#8D5AF7"/>
<rect x="294.0" y="287.95" width="50.3" height="4.05" fill="#7B46F8"/>
<rect x="294.0" y="291.70" width="50.3" height="8.80" fill="#8F5CF7"/>
<rect x="294.0" y="300.20" width="50.3" height="10.05" fill="#9462F7"/>
<rect x="294.0" y="309.95" width="50.3" height="7.05" fill="#8551F8"/>
<rect x="294.0" y="316.70" width="50.3" height="3.05" fill="#9462F7"/>
<rect x="294.0" y="319.45" width="50.3" height="3.55" fill="#B48CF6"/>
<rect x="294.0" y="322.70" width="50.3" height="0.80" fill="#9462F7"/>
<rect x="294.0" y="323.20" width="50.3" height="9.80" fill="#9766F7"/>
<rect x="294.0" y="332.70" width="50.3" height="3.55" fill="#7B46F8"/>
<rect x="294.0" y="335.95" width="50.3" height="5.30" fill="#9462F7"/>
<rect x="294.0" y="340.95" width="50.3" height="3.30" fill="#8A57F7"/>
<rect x="294.0" y="343.95" width="50.3" height="5.05" fill="#9462F7"/>
<rect x="294.0" y="348.70" width="50.3" height="3.30" fill="#8551F8"/>
<rect x="294.0" y="351.70" width="50.3" height="9.30" fill="#9B6AF7"/>
<rect x="294.0" y="360.70" width="50.3" height="4.30" fill="#A577F7"/>
<rect x="294.0" y="364.70" width="50.3" height="5.80" fill="#B48CF6"/>
<rect x="294.0" y="370.20" width="50.3" height="5.05" fill="#A87BF6"/>
<rect x="294.0" y="374.95" width="50.3" height="3.05" fill="#CFB6F3"/>
<rect x="294.0" y="377.70" width="50.3" height="3.30" fill="#B790F5"/>
<rect x="294.0" y="380.70" width="50.3" height="8.55" fill="#AB7FF6"/>
<rect x="294.0" y="388.95" width="50.3" height="5.05" fill="#9462F7"/>
<rect x="294.0" y="393.70" width="50.3" height="8.80" fill="#A87BF6"/>
<rect x="294.0" y="402.20" width="50.3" height="6.05" fill="#9B6AF7"/>
<rect x="294.0" y="407.95" width="50.3" height="5.05" fill="#B890E0"/>
<rect x="294.0" y="412.70" width="50.3" height="4.05" fill="#A173F7"/>
<rect x="294.0" y="416.45" width="50.3" height="3.05" fill="#B188F6"/>
<rect x="294.0" y="419.20" width="50.3" height="5.05" fill="#A173F7"/>
<rect x="294.0" y="423.95" width="50.3" height="2.55" fill="#C09CF5"/>
<rect x="294.0" y="426.20" width="50.3" height="3.55" fill="#A173F7"/>
<rect x="294.0" y="429.45" width="50.3" height="9.80" fill="#8D5AF7"/>
<rect x="294.0" y="438.95" width="50.3" height="7.80" fill="#9766F7"/>
<rect x="294.0" y="446.45" width="50.3" height="1.30" fill="#A173F7"/>
<rect x="294.0" y="447.45" width="50.3" height="5.80" fill="#C5A5F4"/>
<rect x="294.0" y="452.95" width="50.3" height="6.05" fill="#915FF7"/>
<rect x="294.0" y="458.70" width="50.3" height="1.55" fill="#8551F8"/>
<rect x="294.0" y="459.95" width="50.3" height="10.80" fill="#9462F7"/>
<rect x="294.0" y="470.45" width="50.3" height="6.80" fill="#9E6EF7"/>
<rect x="294.0" y="476.95" width="50.3" height="7.80" fill="#8A57F7"/>
<rect x="294.0" y="484.45" width="50.3" height="5.55" fill="#834EF8"/>
<rect x="294.0" y="489.70" width="50.3" height="4.05" fill="#9B6AF7"/>
<rect x="294.0" y="493.45" width="50.3" height="4.55" fill="#915FF7"/>
<rect x="294.0" y="497.70" width="50.3" height="3.55" fill="#8A57F7"/>
<rect x="294.0" y="500.95" width="50.3" height="9.30" fill="#8F5CF7"/>
<rect x="294.0" y="509.95" width="50.3" height="5.05" fill="#9462F7"/>
<rect x="294.0" y="514.70" width="50.3" height="4.30" fill="#9B6AF7"/>
<rect x="294.0" y="518.70" width="50.3" height="5.55" fill="#7540F8"/>
<rect x="294.0" y="523.95" width="50.3" height="7.80" fill="#8A57F7"/>
<rect x="294.0" y="531.45" width="50.3" height="1.30" fill="#9462F7"/>
<rect x="294.0" y="532.45" width="50.3" height="5.30" fill="#A173F7"/>
<rect x="294.0" y="537.45" width="50.3" height="5.55" fill="#7540F8"/>
<rect x="294.0" y="542.70" width="50.3" height="5.05" fill="#8F5CF7"/>
<rect x="294.0" y="547.45" width="50.3" height="3.55" fill="#8551F8"/>
<rect x="294.0" y="550.70" width="50.3" height="5.30" fill="#A87BF6"/>
<rect x="294.0" y="555.70" width="50.3" height="0.55" fill="#915FF7"/>
<rect x="294.0" y="555.95" width="50.3" height="7.80" fill="#8D5AF7"/>
<rect x="294.0" y="563.45" width="50.3" height="17.30" fill="#834EF8"/>
<rect x="294.0" y="580.45" width="50.3" height="7.80" fill="#804CF8"/>
<rect x="294.0" y="587.95" width="50.3" height="11.55" fill="#7540F8"/>
<rect x="294.0" y="599.20" width="50.3" height="9.80" fill="#8F5CF7"/>
<rect x="294.0" y="608.70" width="50.3" height="0.40" fill="#8A57F7"/>
<rect x="344.0" y="14.70" width="51.3" height="16.55" fill="#D9C6F2"/>
<rect x="344.0" y="30.95" width="51.3" height="5.05" fill="#E3D9F0"/>
<rect x="344.0" y="35.70" width="51.3" height="5.05" fill="#DCCCF1"/>
<rect x="344.0" y="40.45" width="51.3" height="4.05" fill="#E4CCE0"/>
<rect x="344.0" y="44.20" width="51.3" height="5.05" fill="#DFD2F1"/>
<rect x="344.0" y="48.95" width="51.3" height="3.55" fill="#E4C0D8"/>
<rect x="344.0" y="52.20" width="51.3" height="2.30" fill="#E8A8B8"/>
<rect x="344.0" y="54.20" width="51.3" height="6.55" fill="#E1D4F1"/>
<rect x="344.0" y="60.45" width="51.3" height="25.05" fill="#DECFF1"/>
<rect x="344.0" y="85.20" width="51.3" height="8.05" fill="#D3BBF3"/>
<rect x="344.0" y="92.95" width="51.3" height="16.30" fill="#DCCCF1"/>
<rect x="344.0" y="108.95" width="51.3" height="5.05" fill="#E3D9F0"/>
<rect x="344.0" y="113.70" width="51.3" height="7.05" fill="#DECFF1"/>
<rect x="344.0" y="120.45" width="51.3" height="6.05" fill="#E5DCF0"/>
<rect x="344.0" y="126.20" width="51.3" height="3.05" fill="#E8D0DC"/>
<rect x="344.0" y="128.95" width="51.3" height="8.05" fill="#D3BBF3"/>
<rect x="344.0" y="136.70" width="51.3" height="23.80" fill="#DCCCF1"/>
<rect x="344.0" y="160.20" width="51.3" height="11.55" fill="#DFD2F1"/>
<rect x="344.0" y="171.45" width="51.3" height="3.05" fill="#DBC9F2"/>
<rect x="344.0" y="174.20" width="51.3" height="2.30" fill="#E0C8E0"/>
<rect x="344.0" y="176.20" width="51.3" height="1.30" fill="#DBC9F2"/>
<rect x="344.0" y="177.20" width="51.3" height="13.55" fill="#D7C4F2"/>
<rect x="344.0" y="190.45" width="51.3" height="4.05" fill="#D3BBF3"/>
<rect x="344.0" y="194.20" width="51.3" height="6.05" fill="#DBC9F2"/>
<rect x="344.0" y="199.95" width="51.3" height="3.30" fill="#D4BEF3"/>
<rect x="344.0" y="202.95" width="51.3" height="5.05" fill="#DCCCF1"/>
<rect x="344.0" y="207.70" width="51.3" height="3.55" fill="#D1B8F3"/>
<rect x="344.0" y="210.95" width="51.3" height="13.05" fill="#DFD2F1"/>
<rect x="344.0" y="223.70" width="51.3" height="3.30" fill="#E8C8DC"/>
<rect x="344.0" y="226.70" width="51.3" height="4.05" fill="#F0C8D0"/>
<rect x="344.0" y="230.45" width="51.3" height="5.05" fill="#E8C8E0"/>
<rect x="344.0" y="235.20" width="51.3" height="3.55" fill="#F8B4A8"/>
<rect x="344.0" y="238.45" width="51.3" height="4.80" fill="#ECC8D4"/>
<rect x="344.0" y="242.95" width="51.3" height="3.55" fill="#E4D4E8"/>
<rect x="344.0" y="246.20" width="51.3" height="2.05" fill="#D8C8F0"/>
<rect x="344.0" y="247.95" width="51.3" height="3.30" fill="#F4D4D0"/>
<rect x="344.0" y="250.95" width="51.3" height="3.55" fill="#E0C0E0"/>
<rect x="344.0" y="254.20" width="51.3" height="9.05" fill="#F4B8B0"/>
<rect x="344.0" y="262.95" width="51.3" height="4.05" fill="#FCA898"/>
<rect x="344.0" y="266.70" width="51.3" height="3.80" fill="#F8D4CC"/>
<rect x="344.0" y="270.20" width="51.3" height="5.30" fill="#FCB8A8"/>
<rect x="344.0" y="275.20" width="51.3" height="5.05" fill="#FCA898"/>
<rect x="344.0" y="279.95" width="51.3" height="4.05" fill="#F8C8C0"/>
<rect x="344.0" y="283.70" width="51.3" height="8.05" fill="#F4DCD8"/>
<rect x="344.0" y="291.45" width="51.3" height="4.05" fill="#ECC8D4"/>
<rect x="344.0" y="295.20" width="51.3" height="4.05" fill="#F4C8C8"/>
<rect x="344.0" y="298.95" width="51.3" height="6.05" fill="#E4D0E4"/>
<rect x="344.0" y="304.70" width="51.3" height="4.05" fill="#E0D4EC"/>
<rect x="344.0" y="308.45" width="51.3" height="4.05" fill="#ECC8D8"/>
<rect x="344.0" y="312.20" width="51.3" height="7.55" fill="#ECD8DC"/>
<rect x="344.0" y="319.45" width="51.3" height="4.30" fill="#F4C8C4"/>
<rect x="344.0" y="323.45" width="51.3" height="5.05" fill="#E8C8D8"/>
<rect x="344.0" y="328.20" width="51.3" height="5.05" fill="#F0CCD0"/>
<rect x="344.0" y="332.95" width="51.3" height="3.55" fill="#FCB4A4"/>
<rect x="344.0" y="336.20" width="51.3" height="3.05" fill="#FC9C88"/>
<rect x="344.0" y="338.95" width="51.3" height="5.55" fill="#ECD4DC"/>
<rect x="344.0" y="344.20" width="51.3" height="3.30" fill="#E0CCE4"/>
<rect x="344.0" y="347.20" width="51.3" height="8.80" fill="#FCBCB0"/>
<rect x="344.0" y="355.70" width="51.3" height="4.55" fill="#F8C8C0"/>
<rect x="344.0" y="359.95" width="51.3" height="5.30" fill="#FCA898"/>
<rect x="344.0" y="364.95" width="51.3" height="4.80" fill="#FC7060"/>
<rect x="344.0" y="369.45" width="51.3" height="3.80" fill="#FC5848"/>
<rect x="344.0" y="372.95" width="51.3" height="3.55" fill="#FC8878"/>
<rect x="344.0" y="376.20" width="51.3" height="5.05" fill="#FCC0B4"/>
<rect x="344.0" y="380.95" width="51.3" height="5.05" fill="#FCA898"/>
<rect x="344.0" y="385.70" width="51.3" height="8.30" fill="#E8D4DC"/>
<rect x="344.0" y="393.70" width="51.3" height="7.05" fill="#DCC4E4"/>
<rect x="344.0" y="400.45" width="51.3" height="8.05" fill="#E8D0DC"/>
<rect x="344.0" y="408.20" width="51.3" height="2.05" fill="#D8C4F0"/>
<rect x="344.0" y="409.95" width="51.3" height="3.30" fill="#F0C8D0"/>
<rect x="344.0" y="412.95" width="51.3" height="3.55" fill="#DCC8E8"/>
<rect x="344.0" y="416.20" width="51.3" height="4.55" fill="#E4D0E4"/>
<rect x="344.0" y="420.45" width="51.3" height="6.05" fill="#DCC8E8"/>
<rect x="344.0" y="426.20" width="51.3" height="3.05" fill="#E4CCE0"/>
<rect x="344.0" y="428.95" width="51.3" height="5.05" fill="#F4C4C4"/>
<rect x="344.0" y="433.70" width="51.3" height="4.55" fill="#ECC8D4"/>
<rect x="344.0" y="437.95" width="51.3" height="9.55" fill="#FCA898"/>
<rect x="344.0" y="447.20" width="51.3" height="6.05" fill="#F8C4BC"/>
<rect x="344.0" y="452.95" width="51.3" height="7.55" fill="#F4CCCC"/>
<rect x="344.0" y="460.20" width="51.3" height="2.30" fill="#F0C8CC"/>
<rect x="344.0" y="462.20" width="51.3" height="4.30" fill="#D4C0F0"/>
<rect x="344.0" y="466.20" width="51.3" height="4.55" fill="#E4D4E4"/>
<rect x="344.0" y="470.45" width="51.3" height="3.55" fill="#F4C4C4"/>
<rect x="344.0" y="473.70" width="51.3" height="3.80" fill="#E4C8E0"/>
<rect x="344.0" y="477.20" width="51.3" height="5.05" fill="#ECD4DC"/>
<rect x="344.0" y="481.95" width="51.3" height="7.80" fill="#ECDCE0"/>
<rect x="344.0" y="489.45" width="51.3" height="4.30" fill="#DCC0E4"/>
<rect x="344.0" y="493.45" width="51.3" height="2.05" fill="#E8D8E8"/>
<rect x="344.0" y="495.20" width="51.3" height="3.30" fill="#ECBCCC"/>
<rect x="344.0" y="498.20" width="51.3" height="3.05" fill="#F8C4BC"/>
<rect x="344.0" y="500.95" width="51.3" height="2.30" fill="#F8DCD4"/>
<rect x="344.0" y="502.95" width="51.3" height="4.05" fill="#FCC0B0"/>
<rect x="344.0" y="506.70" width="51.3" height="4.05" fill="#F8CCC4"/>
<rect x="344.0" y="510.45" width="51.3" height="3.80" fill="#FCB0A0"/>
<rect x="344.0" y="513.95" width="51.3" height="5.30" fill="#FC9884"/>
<rect x="344.0" y="518.95" width="51.3" height="5.05" fill="#FCB4A4"/>
<rect x="344.0" y="523.70" width="51.3" height="5.05" fill="#FCAC9C"/>
<rect x="344.0" y="528.45" width="51.3" height="3.80" fill="#F8C0B8"/>
<rect x="344.0" y="531.95" width="51.3" height="3.55" fill="#ECC8D4"/>
<rect x="344.0" y="535.20" width="51.3" height="3.30" fill="#F0D0D4"/>
<rect x="344.0" y="538.20" width="51.3" height="3.05" fill="#F4DCD8"/>
<rect x="344.0" y="540.95" width="51.3" height="4.05" fill="#F4CCC8"/>
<rect x="344.0" y="544.70" width="51.3" height="3.30" fill="#ECD0DC"/>
<rect x="344.0" y="547.70" width="51.3" height="3.55" fill="#F8D8D0"/>
<rect x="344.0" y="550.95" width="51.3" height="3.55" fill="#DCD0F0"/>
<rect x="344.0" y="554.20" width="51.3" height="5.05" fill="#F8D0C8"/>
<rect x="344.0" y="558.95" width="51.3" height="8.05" fill="#F0D4D8"/>
<rect x="344.0" y="566.70" width="51.3" height="4.05" fill="#F8C8C0"/>
<rect x="344.0" y="570.45" width="51.3" height="4.55" fill="#F8C0B8"/>
<rect x="344.0" y="574.70" width="51.3" height="4.55" fill="#FCAC9C"/>
<rect x="344.0" y="578.95" width="51.3" height="7.05" fill="#FCBCAC"/>
<rect x="344.0" y="585.70" width="51.3" height="8.05" fill="#F8C8C0"/>
<rect x="344.0" y="593.45" width="51.3" height="3.05" fill="#F8D0C8"/>
<rect x="344.0" y="596.20" width="51.3" height="5.05" fill="#F4CCCC"/>
<rect x="344.0" y="600.95" width="51.3" height="8.05" fill="#E4D0E4"/>
<rect x="344.0" y="608.70" width="51.3" height="0.40" fill="#FFBFB0"/>
<rect x="395.0" y="14.70" width="50.3" height="16.55" fill="#D7C4F2"/>
<rect x="395.0" y="30.95" width="50.3" height="7.80" fill="#D4BEF3"/>
<rect x="395.0" y="38.45" width="50.3" height="8.05" fill="#D9C6F2"/>
<rect x="395.0" y="46.20" width="50.3" height="7.80" fill="#D8C0E4"/>
<rect x="395.0" y="53.70" width="50.3" height="23.30" fill="#D9C6F2"/>
<rect x="395.0" y="76.70" width="50.3" height="6.05" fill="#D4BEF3"/>
<rect x="395.0" y="82.45" width="50.3" height="21.30" fill="#D7C4F2"/>
<rect x="395.0" y="103.45" width="50.3" height="6.80" fill="#D4BEF3"/>
<rect x="395.0" y="109.95" width="50.3" height="19.30" fill="#D9C6F2"/>
<rect x="395.0" y="128.95" width="50.3" height="8.05" fill="#D3BBF3"/>
<rect x="395.0" y="136.70" width="50.3" height="9.80" fill="#DCCCF1"/>
<rect x="395.0" y="146.20" width="50.3" height="8.80" fill="#D6C1F2"/>
<rect x="395.0" y="154.70" width="50.3" height="5.80" fill="#DECFF1"/>
<rect x="395.0" y="160.20" width="50.3" height="8.55" fill="#DFD2F1"/>
<rect x="395.0" y="168.45" width="50.3" height="9.05" fill="#DCCCF1"/>
<rect x="395.0" y="177.20" width="50.3" height="9.80" fill="#D3BBF3"/>
<rect x="395.0" y="186.70" width="50.3" height="16.55" fill="#D7C4F2"/>
<rect x="395.0" y="202.95" width="50.3" height="5.05" fill="#D3BBF3"/>
<rect x="395.0" y="207.70" width="50.3" height="3.55" fill="#D7C4F2"/>
<rect x="395.0" y="210.95" width="50.3" height="13.05" fill="#DECFF1"/>
<rect x="395.0" y="223.70" width="50.3" height="3.30" fill="#DCC8EC"/>
<rect x="395.0" y="226.70" width="50.3" height="3.30" fill="#E8A0B0"/>
<rect x="395.0" y="229.70" width="50.3" height="4.80" fill="#E4D4EC"/>
<rect x="395.0" y="234.20" width="50.3" height="6.05" fill="#F0C8CC"/>
<rect x="395.0" y="239.95" width="50.3" height="6.05" fill="#E4C4DC"/>
<rect x="395.0" y="245.70" width="50.3" height="5.55" fill="#F4D4CC"/>
<rect x="395.0" y="250.95" width="50.3" height="3.05" fill="#E8C8D8"/>
<rect x="395.0" y="253.70" width="50.3" height="2.30" fill="#F89888"/>
<rect x="395.0" y="255.70" width="50.3" height="3.55" fill="#DCC8EC"/>
<rect x="395.0" y="258.95" width="50.3" height="3.30" fill="#F0C0CC"/>
<rect x="395.0" y="261.95" width="50.3" height="2.55" fill="#F89888"/>
<rect x="395.0" y="264.20" width="50.3" height="6.30" fill="#F8C8BC"/>
<rect x="395.0" y="270.20" width="50.3" height="4.80" fill="#FCB4A4"/>
<rect x="395.0" y="274.70" width="50.3" height="4.55" fill="#F4C4C4"/>
<rect x="395.0" y="278.95" width="50.3" height="5.05" fill="#F8BCB0"/>
<rect x="395.0" y="283.70" width="50.3" height="10.05" fill="#F8CCC4"/>
<rect x="395.0" y="293.45" width="50.3" height="7.80" fill="#DCCCF1"/>
<rect x="395.0" y="300.95" width="50.3" height="3.05" fill="#E4C8E0"/>
<rect x="395.0" y="303.70" width="50.3" height="4.30" fill="#F8D4C8"/>
<rect x="395.0" y="307.70" width="50.3" height="2.80" fill="#F8C0B0"/>
<rect x="395.0" y="310.20" width="50.3" height="2.30" fill="#F0C8CC"/>
<rect x="395.0" y="312.20" width="50.3" height="8.55" fill="#F0D4D4"/>
<rect x="395.0" y="320.45" width="50.3" height="4.80" fill="#ECC8D4"/>
<rect x="395.0" y="324.95" width="50.3" height="3.55" fill="#E0B8D8"/>
<rect x="395.0" y="328.20" width="50.3" height="3.05" fill="#E4B0C8"/>
<rect x="395.0" y="330.95" width="50.3" height="2.55" fill="#F4A8A4"/>
<rect x="395.0" y="333.20" width="50.3" height="3.30" fill="#F0C0C8"/>
<rect x="395.0" y="336.20" width="50.3" height="3.05" fill="#FC9C88"/>
<rect x="395.0" y="338.95" width="50.3" height="5.30" fill="#F4D0CC"/>
<rect x="395.0" y="343.95" width="50.3" height="3.55" fill="#E0D0EC"/>
<rect x="395.0" y="347.20" width="50.3" height="5.30" fill="#F0D4D4"/>
<rect x="395.0" y="352.20" width="50.3" height="3.30" fill="#F4C0C0"/>
<rect x="395.0" y="355.20" width="50.3" height="2.30" fill="#F0D0D4"/>
<rect x="395.0" y="357.20" width="50.3" height="3.55" fill="#F8B0A8"/>
<rect x="395.0" y="360.45" width="50.3" height="5.05" fill="#FCC0B0"/>
<rect x="395.0" y="365.20" width="50.3" height="4.05" fill="#FCA898"/>
<rect x="395.0" y="368.95" width="50.3" height="4.30" fill="#F4BCBC"/>
<rect x="395.0" y="372.95" width="50.3" height="3.55" fill="#ECC8D4"/>
<rect x="395.0" y="376.20" width="50.3" height="5.05" fill="#ECD4DC"/>
<rect x="395.0" y="380.95" width="50.3" height="4.55" fill="#F4D0D0"/>
<rect x="395.0" y="385.20" width="50.3" height="4.05" fill="#E4C4DC"/>
<rect x="395.0" y="388.95" width="50.3" height="4.30" fill="#E0CCE4"/>
<rect x="395.0" y="392.95" width="50.3" height="4.05" fill="#ECD0DC"/>
<rect x="395.0" y="396.70" width="50.3" height="5.30" fill="#ECB8C8"/>
<rect x="395.0" y="401.70" width="50.3" height="8.55" fill="#E0D0E8"/>
<rect x="395.0" y="409.95" width="50.3" height="7.05" fill="#E4C8E0"/>
<rect x="395.0" y="416.70" width="50.3" height="3.80" fill="#ECD0DC"/>
<rect x="395.0" y="420.20" width="50.3" height="4.05" fill="#F4C8C8"/>
<rect x="395.0" y="423.95" width="50.3" height="2.55" fill="#D8C8F0"/>
<rect x="395.0" y="426.20" width="50.3" height="3.05" fill="#ECBCCC"/>
<rect x="395.0" y="428.95" width="50.3" height="5.05" fill="#FCBCAC"/>
<rect x="395.0" y="433.70" width="50.3" height="3.80" fill="#F8A098"/>
<rect x="395.0" y="437.20" width="50.3" height="2.30" fill="#ECD0DC"/>
<rect x="395.0" y="439.20" width="50.3" height="3.55" fill="#D8CCF4"/>
<rect x="395.0" y="442.45" width="50.3" height="3.05" fill="#ECC0D0"/>
<rect x="395.0" y="445.20" width="50.3" height="2.55" fill="#FCB8A8"/>
<rect x="395.0" y="447.45" width="50.3" height="7.55" fill="#F0CCD4"/>
<rect x="395.0" y="454.70" width="50.3" height="5.80" fill="#F8C8C0"/>
<rect x="395.0" y="460.20" width="50.3" height="2.30" fill="#F0CCD0"/>
<rect x="395.0" y="462.20" width="50.3" height="4.30" fill="#ECDCE0"/>
<rect x="395.0" y="466.20" width="50.3" height="4.55" fill="#F4D0CC"/>
<rect x="395.0" y="470.45" width="50.3" height="3.55" fill="#ECB8C8"/>
<rect x="395.0" y="473.70" width="50.3" height="3.80" fill="#FCA898"/>
<rect x="395.0" y="477.20" width="50.3" height="2.05" fill="#F8D8D0"/>
<rect x="395.0" y="478.95" width="50.3" height="7.05" fill="#F8C8BC"/>
<rect x="395.0" y="485.70" width="50.3" height="4.05" fill="#F4CCCC"/>
<rect x="395.0" y="489.45" width="50.3" height="3.55" fill="#E8D0E0"/>
<rect x="395.0" y="492.70" width="50.3" height="5.80" fill="#F4C8C8"/>
<rect x="395.0" y="498.20" width="50.3" height="5.05" fill="#F8BCB4"/>
<rect x="395.0" y="502.95" width="50.3" height="6.55" fill="#F8C8C0"/>
<rect x="395.0" y="509.20" width="50.3" height="2.05" fill="#ECD4E0"/>
<rect x="395.0" y="510.95" width="50.3" height="5.05" fill="#FCBCAC"/>
<rect x="395.0" y="515.70" width="50.3" height="3.55" fill="#F8C8C0"/>
<rect x="395.0" y="518.95" width="50.3" height="3.30" fill="#FCB4A4"/>
<rect x="395.0" y="521.95" width="50.3" height="10.30" fill="#F8C8BC"/>
<rect x="395.0" y="531.95" width="50.3" height="3.05" fill="#ECCCD8"/>
<rect x="395.0" y="534.70" width="50.3" height="3.80" fill="#E0CCE8"/>
<rect x="395.0" y="538.20" width="50.3" height="4.05" fill="#F0D4D4"/>
<rect x="395.0" y="541.95" width="50.3" height="4.55" fill="#ECD4DC"/>
<rect x="395.0" y="546.20" width="50.3" height="7.80" fill="#F8CCC0"/>
<rect x="395.0" y="553.70" width="50.3" height="2.80" fill="#F0C4CC"/>
<rect x="395.0" y="556.20" width="50.3" height="7.05" fill="#F4CCCC"/>
<rect x="395.0" y="562.95" width="50.3" height="4.30" fill="#F0C8D0"/>
<rect x="395.0" y="566.95" width="50.3" height="5.80" fill="#FCBCAC"/>
<rect x="395.0" y="572.45" width="50.3" height="6.05" fill="#F8C8C0"/>
<rect x="395.0" y="578.20" width="50.3" height="10.05" fill="#F8CCC0"/>
<rect x="395.0" y="587.95" width="50.3" height="6.55" fill="#FCBCA8"/>
<rect x="395.0" y="594.20" width="50.3" height="5.05" fill="#F4D0CC"/>
<rect x="395.0" y="598.95" width="50.3" height="2.80" fill="#F0D0D4"/>
<rect x="395.0" y="601.45" width="50.3" height="3.05" fill="#E8B4C8"/>
<rect x="395.0" y="604.20" width="50.3" height="3.80" fill="#DCC8EC"/>
<rect x="395.0" y="607.70" width="50.3" height="1.30" fill="#F0D0D4"/>
<rect x="395.0" y="608.70" width="50.3" height="0.40" fill="#FFBFB0"/>
<rect x="445.0" y="14.70" width="51.1" height="4.05" fill="#DBC9F2"/>
<rect x="445.0" y="18.45" width="51.1" height="10.05" fill="#E1D4F1"/>
<rect x="445.0" y="28.20" width="51.1" height="12.55" fill="#DCCCF1"/>
<rect x="445.0" y="40.45" width="51.1" height="3.80" fill="#E0C4E0"/>
<rect x="445.0" y="43.95" width="51.1" height="5.30" fill="#DECFF1"/>
<rect x="445.0" y="48.95" width="51.1" height="3.30" fill="#D7C4F2"/>
<rect x="445.0" y="51.95" width="51.1" height="2.55" fill="#EAD0DC"/>
<rect x="445.0" y="54.20" width="51.1" height="7.55" fill="#DFD2F1"/>
<rect x="445.0" y="61.45" width="51.1" height="7.05" fill="#D7C4F2"/>
<rect x="445.0" y="68.20" width="51.1" height="17.30" fill="#DCCCF1"/>
<rect x="445.0" y="85.20" width="51.1" height="7.05" fill="#E2D6F0"/>
<rect x="445.0" y="91.95" width="51.1" height="7.80" fill="#DCCCF1"/>
<rect x="445.0" y="99.45" width="51.1" height="4.30" fill="#E2D6F0"/>
<rect x="445.0" y="103.45" width="51.1" height="17.30" fill="#DCCCF1"/>
<rect x="445.0" y="120.45" width="51.1" height="8.80" fill="#D9C6F2"/>
<rect x="445.0" y="128.95" width="51.1" height="8.55" fill="#EAD4E0"/>
<rect x="445.0" y="137.20" width="51.1" height="16.05" fill="#DCCCF1"/>
<rect x="445.0" y="152.95" width="51.1" height="2.55" fill="#E4C4DC"/>
<rect x="445.0" y="155.20" width="51.1" height="5.30" fill="#DFD2F1"/>
<rect x="445.0" y="160.20" width="51.1" height="10.55" fill="#E1D4F1"/>
<rect x="445.0" y="170.45" width="51.1" height="11.80" fill="#DCCCF1"/>
<rect x="445.0" y="181.95" width="51.1" height="3.80" fill="#D1B8F3"/>
<rect x="445.0" y="185.45" width="51.1" height="8.30" fill="#DCCCF1"/>
<rect x="445.0" y="193.45" width="51.1" height="6.80" fill="#DFD2F1"/>
<rect x="445.0" y="199.95" width="51.1" height="6.05" fill="#D9C6F2"/>
<rect x="445.0" y="205.70" width="51.1" height="5.05" fill="#DCC4E4"/>
<rect x="445.0" y="210.45" width="51.1" height="13.55" fill="#DFD2F1"/>
<rect x="445.0" y="223.70" width="51.1" height="3.30" fill="#D8B0D8"/>
<rect x="445.0" y="226.70" width="51.1" height="5.55" fill="#F8C0B4"/>
<rect x="445.0" y="231.95" width="51.1" height="3.55" fill="#ECC8D4"/>
<rect x="445.0" y="235.20" width="51.1" height="3.55" fill="#DCC4E8"/>
<rect x="445.0" y="238.45" width="51.1" height="4.80" fill="#E4C8E0"/>
<rect x="445.0" y="242.95" width="51.1" height="3.55" fill="#ECC4D0"/>
<rect x="445.0" y="246.20" width="51.1" height="5.05" fill="#ECD8E0"/>
<rect x="445.0" y="250.95" width="51.1" height="4.05" fill="#F4BCB8"/>
<rect x="445.0" y="254.70" width="51.1" height="5.55" fill="#DCCCEC"/>
<rect x="445.0" y="259.95" width="51.1" height="4.05" fill="#F0CCD0"/>
<rect x="445.0" y="263.70" width="51.1" height="3.30" fill="#F8C4BC"/>
<rect x="445.0" y="266.70" width="51.1" height="12.55" fill="#F4D0C8"/>
<rect x="445.0" y="278.95" width="51.1" height="5.05" fill="#DCD0EC"/>
<rect x="445.0" y="283.70" width="51.1" height="9.30" fill="#F4D0C8"/>
<rect x="445.0" y="292.70" width="51.1" height="7.55" fill="#F8C0B4"/>
<rect x="445.0" y="299.95" width="51.1" height="4.05" fill="#F0C8CC"/>
<rect x="445.0" y="303.70" width="51.1" height="3.55" fill="#F0D8D8"/>
<rect x="445.0" y="306.95" width="51.1" height="3.55" fill="#F8BCB0"/>
<rect x="445.0" y="310.20" width="51.1" height="2.05" fill="#F4C8C8"/>
<rect x="445.0" y="311.95" width="51.1" height="3.05" fill="#F8D0C4"/>
<rect x="445.0" y="314.70" width="51.1" height="5.05" fill="#F8BCB4"/>
<rect x="445.0" y="319.45" width="51.1" height="4.30" fill="#E8C8D8"/>
<rect x="445.0" y="323.45" width="51.1" height="5.05" fill="#F8BCB0"/>
<rect x="445.0" y="328.20" width="51.1" height="5.05" fill="#ECC8D4"/>
<rect x="445.0" y="332.95" width="51.1" height="3.05" fill="#F0D0D4"/>
<rect x="445.0" y="335.70" width="51.1" height="5.05" fill="#E8D8E4"/>
<rect x="445.0" y="340.45" width="51.1" height="3.80" fill="#F0D0D4"/>
<rect x="445.0" y="343.95" width="51.1" height="3.55" fill="#F4C8C8"/>
<rect x="445.0" y="347.20" width="51.1" height="5.05" fill="#E8D0E0"/>
<rect x="445.0" y="351.95" width="51.1" height="4.05" fill="#F0C8D0"/>
<rect x="445.0" y="355.70" width="51.1" height="1.80" fill="#ECE0E8"/>
<rect x="445.0" y="357.20" width="51.1" height="6.55" fill="#D8CCF0"/>
<rect x="445.0" y="363.45" width="51.1" height="2.05" fill="#E0C8E4"/>
<rect x="445.0" y="365.20" width="51.1" height="5.05" fill="#D8C4EC"/>
<rect x="445.0" y="369.95" width="51.1" height="3.30" fill="#DCC8E8"/>
<rect x="445.0" y="372.95" width="51.1" height="8.30" fill="#E4D0E4"/>
<rect x="445.0" y="380.95" width="51.1" height="4.05" fill="#DCD4F0"/>
<rect x="445.0" y="384.70" width="51.1" height="4.05" fill="#E8D0DC"/>
<rect x="445.0" y="388.45" width="51.1" height="3.80" fill="#F4C8C8"/>
<rect x="445.0" y="391.95" width="51.1" height="5.05" fill="#ECC8D8"/>
<rect x="445.0" y="396.70" width="51.1" height="3.55" fill="#DCC4E8"/>
<rect x="445.0" y="399.95" width="51.1" height="3.80" fill="#ECC8D8"/>
<rect x="445.0" y="403.45" width="51.1" height="6.80" fill="#F0CCD0"/>
<rect x="445.0" y="409.95" width="51.1" height="3.30" fill="#FC7C68"/>
<rect x="445.0" y="412.95" width="51.1" height="3.30" fill="#F87464"/>
<rect x="445.0" y="415.95" width="51.1" height="8.55" fill="#F4CCC8"/>
<rect x="445.0" y="424.20" width="51.1" height="2.30" fill="#DCC4EC"/>
<rect x="445.0" y="426.20" width="51.1" height="3.05" fill="#ECC4D4"/>
<rect x="445.0" y="428.95" width="51.1" height="4.30" fill="#F0D8DC"/>
<rect x="445.0" y="432.95" width="51.1" height="4.05" fill="#ECCCD8"/>
<rect x="445.0" y="436.70" width="51.1" height="9.80" fill="#ECD4DC"/>
<rect x="445.0" y="446.20" width="51.1" height="2.30" fill="#F4D8D8"/>
<rect x="445.0" y="448.20" width="51.1" height="12.30" fill="#E8D0E0"/>
<rect x="445.0" y="460.20" width="51.1" height="3.05" fill="#F8BCB4"/>
<rect x="445.0" y="462.95" width="51.1" height="3.55" fill="#F4C8C4"/>
<rect x="445.0" y="466.20" width="51.1" height="7.80" fill="#F8BCB0"/>
<rect x="445.0" y="473.70" width="51.1" height="3.80" fill="#FCAC9C"/>
<rect x="445.0" y="477.20" width="51.1" height="2.05" fill="#F8C8C0"/>
<rect x="445.0" y="478.95" width="51.1" height="6.05" fill="#FCAC9C"/>
<rect x="445.0" y="484.70" width="51.1" height="9.05" fill="#F8BCB0"/>
<rect x="445.0" y="493.45" width="51.1" height="1.80" fill="#FCB0A0"/>
<rect x="445.0" y="494.95" width="51.1" height="3.05" fill="#ECBCCC"/>
<rect x="445.0" y="497.70" width="51.1" height="7.30" fill="#E8D4E0"/>
<rect x="445.0" y="504.70" width="51.1" height="4.80" fill="#E0D0EC"/>
<rect x="445.0" y="509.20" width="51.1" height="2.05" fill="#ECD8E0"/>
<rect x="445.0" y="510.95" width="51.1" height="3.55" fill="#F8D0C8"/>
<rect x="445.0" y="514.20" width="51.1" height="2.55" fill="#E4D4EC"/>
<rect x="445.0" y="516.45" width="51.1" height="2.80" fill="#ECC8D8"/>
<rect x="445.0" y="518.95" width="51.1" height="5.05" fill="#F8D4CC"/>
<rect x="445.0" y="523.70" width="51.1" height="3.55" fill="#F0D8D8"/>
<rect x="445.0" y="526.95" width="51.1" height="3.55" fill="#E8C8DC"/>
<rect x="445.0" y="530.20" width="51.1" height="8.30" fill="#F0C8C8"/>
<rect x="445.0" y="538.20" width="51.1" height="5.05" fill="#F4D8D4"/>
<rect x="445.0" y="542.95" width="51.1" height="5.30" fill="#E0D0EC"/>
<rect x="445.0" y="547.95" width="51.1" height="6.05" fill="#FCB4A4"/>
<rect x="445.0" y="553.70" width="51.1" height="2.80" fill="#F4D0D0"/>
<rect x="445.0" y="556.20" width="51.1" height="7.80" fill="#FCB8A8"/>
<rect x="445.0" y="563.70" width="51.1" height="3.55" fill="#F0C8CC"/>
<rect x="445.0" y="566.95" width="51.1" height="4.80" fill="#F4D4D0"/>
<rect x="445.0" y="571.45" width="51.1" height="7.05" fill="#F8CCC4"/>
<rect x="445.0" y="578.20" width="51.1" height="5.05" fill="#ECDCE0"/>
<rect x="445.0" y="582.95" width="51.1" height="5.30" fill="#FCC0B0"/>
<rect x="445.0" y="587.95" width="51.1" height="3.80" fill="#F4D8D4"/>
<rect x="445.0" y="591.45" width="51.1" height="4.55" fill="#FCC4B4"/>
<rect x="445.0" y="595.70" width="51.1" height="5.55" fill="#F8C8C0"/>
<rect x="445.0" y="600.95" width="51.1" height="3.55" fill="#ECCCD8"/>
<rect x="445.0" y="604.20" width="51.1" height="4.80" fill="#F4C8C8"/>
<rect x="445.0" y="608.70" width="51.1" height="0.40" fill="#FFBFB0"/>
<rect x="495.8" y="14.70" width="53.6" height="2.80" fill="#D6C1F2"/>
<rect x="495.8" y="17.20" width="53.6" height="14.05" fill="#E2D6F0"/>
<rect x="495.8" y="30.95" width="53.6" height="5.05" fill="#DBC9F2"/>
<rect x="495.8" y="35.70" width="53.6" height="4.05" fill="#E0C8E0"/>
<rect x="495.8" y="39.45" width="53.6" height="6.05" fill="#DFD2F1"/>
<rect x="495.8" y="45.20" width="53.6" height="5.05" fill="#E4C8DC"/>
<rect x="495.8" y="49.95" width="53.6" height="2.30" fill="#DCCCF1"/>
<rect x="495.8" y="51.95" width="53.6" height="2.55" fill="#E09098"/>
<rect x="495.8" y="54.20" width="53.6" height="6.05" fill="#E4DBF0"/>
<rect x="495.8" y="59.95" width="53.6" height="8.55" fill="#DBC9F2"/>
<rect x="495.8" y="68.20" width="53.6" height="9.80" fill="#E2D0E4"/>
<rect x="495.8" y="77.70" width="53.6" height="7.80" fill="#E4DBF0"/>
<rect x="495.8" y="85.20" width="53.6" height="7.05" fill="#F4D4CC"/>
<rect x="495.8" y="91.95" width="53.6" height="12.55" fill="#DFD2F1"/>
<rect x="495.8" y="104.20" width="53.6" height="5.05" fill="#E3D9F0"/>
<rect x="495.8" y="108.95" width="53.6" height="7.05" fill="#DCCCF1"/>
<rect x="495.8" y="115.70" width="53.6" height="5.05" fill="#E2D6F0"/>
<rect x="495.8" y="120.45" width="53.6" height="5.05" fill="#DBC9F2"/>
<rect x="495.8" y="125.20" width="53.6" height="4.05" fill="#E8C8DC"/>
<rect x="495.8" y="128.95" width="53.6" height="2.80" fill="#F8B4A0"/>
<rect x="495.8" y="131.45" width="53.6" height="2.55" fill="#E8C8DC"/>
<rect x="495.8" y="133.70" width="53.6" height="3.80" fill="#F8A898"/>
<rect x="495.8" y="137.20" width="53.6" height="6.55" fill="#DECFF1"/>
<rect x="495.8" y="143.45" width="53.6" height="6.80" fill="#DCD0E8"/>
<rect x="495.8" y="149.95" width="53.6" height="3.30" fill="#DCCCF1"/>
<rect x="495.8" y="152.95" width="53.6" height="2.55" fill="#E4A8C0"/>
<rect x="495.8" y="155.20" width="53.6" height="3.30" fill="#EAD0DC"/>
<rect x="495.8" y="158.20" width="53.6" height="2.30" fill="#DFD2F1"/>
<rect x="495.8" y="160.20" width="53.6" height="7.80" fill="#E1D4F1"/>
<rect x="495.8" y="167.70" width="53.6" height="3.05" fill="#E4C8E0"/>
<rect x="495.8" y="170.45" width="53.6" height="11.80" fill="#DECFF1"/>
<rect x="495.8" y="181.95" width="53.6" height="4.05" fill="#D1B8F3"/>
<rect x="495.8" y="185.70" width="53.6" height="5.05" fill="#DCCCF1"/>
<rect x="495.8" y="190.45" width="53.6" height="4.05" fill="#E0CCE4"/>
<rect x="495.8" y="194.20" width="53.6" height="6.05" fill="#DECFF1"/>
<rect x="495.8" y="199.95" width="53.6" height="6.05" fill="#E4CCE0"/>
<rect x="495.8" y="205.70" width="53.6" height="5.05" fill="#DCC4E4"/>
<rect x="495.8" y="210.45" width="53.6" height="13.55" fill="#DECFF1"/>
<rect x="495.8" y="223.70" width="53.6" height="3.30" fill="#D9C6F2"/>
<rect x="495.8" y="226.70" width="53.6" height="3.30" fill="#F06860"/>
<rect x="495.8" y="229.70" width="53.6" height="2.55" fill="#FC8878"/>
<rect x="495.8" y="231.95" width="53.6" height="3.55" fill="#E0CCE8"/>
<rect x="495.8" y="235.20" width="53.6" height="3.55" fill="#CAADF4"/>
<rect x="495.8" y="238.45" width="53.6" height="9.55" fill="#DCC8E8"/>
<rect x="495.8" y="247.70" width="53.6" height="3.55" fill="#F4C8C8"/>
<rect x="495.8" y="250.95" width="53.6" height="8.30" fill="#E0C8E4"/>
<rect x="495.8" y="258.95" width="53.6" height="3.55" fill="#CAADF4"/>
<rect x="495.8" y="262.20" width="53.6" height="8.55" fill="#E4D4E8"/>
<rect x="495.8" y="270.45" width="53.6" height="2.30" fill="#F4D0D0"/>
<rect x="495.8" y="272.45" width="53.6" height="4.30" fill="#ECDCE0"/>
<rect x="495.8" y="276.45" width="53.6" height="3.55" fill="#E8D4E4"/>
<rect x="495.8" y="279.70" width="53.6" height="5.30" fill="#DCC8E8"/>
<rect x="495.8" y="284.70" width="53.6" height="3.55" fill="#F0D8E0"/>
<rect x="495.8" y="287.95" width="53.6" height="3.80" fill="#FCC8B8"/>
<rect x="495.8" y="291.45" width="53.6" height="4.55" fill="#DCC8EC"/>
<rect x="495.8" y="295.70" width="53.6" height="3.55" fill="#FCB8A8"/>
<rect x="495.8" y="298.95" width="53.6" height="5.05" fill="#E4C8E0"/>
<rect x="495.8" y="303.70" width="53.6" height="4.30" fill="#ECDCE4"/>
<rect x="495.8" y="307.70" width="53.6" height="2.80" fill="#F8CCC4"/>
<rect x="495.8" y="310.20" width="53.6" height="2.05" fill="#E8C8DC"/>
<rect x="495.8" y="311.95" width="53.6" height="3.80" fill="#F8D0C8"/>
<rect x="495.8" y="315.45" width="53.6" height="4.80" fill="#E8D4DC"/>
<rect x="495.8" y="319.95" width="53.6" height="2.80" fill="#DCC4EC"/>
<rect x="495.8" y="322.45" width="53.6" height="2.80" fill="#C8B4F4"/>
<rect x="495.8" y="324.95" width="53.6" height="6.30" fill="#D8C4EC"/>
<rect x="495.8" y="330.95" width="53.6" height="7.80" fill="#F0CCD0"/>
<rect x="495.8" y="338.45" width="53.6" height="6.05" fill="#F8C4BC"/>
<rect x="495.8" y="344.20" width="53.6" height="3.30" fill="#F4CCC8"/>
<rect x="495.8" y="347.20" width="53.6" height="5.30" fill="#F0D8D8"/>
<rect x="495.8" y="352.20" width="53.6" height="3.55" fill="#DCC8EC"/>
<rect x="495.8" y="355.45" width="53.6" height="2.05" fill="#F4B8B0"/>
<rect x="495.8" y="357.20" width="53.6" height="3.05" fill="#E8B4C8"/>
<rect x="495.8" y="359.95" width="53.6" height="2.80" fill="#C0A8F4"/>
<rect x="495.8" y="362.45" width="53.6" height="5.05" fill="#D4C0EC"/>
<rect x="495.8" y="367.20" width="53.6" height="6.05" fill="#D8C0E8"/>
<rect x="495.8" y="372.95" width="53.6" height="5.05" fill="#E0CCE4"/>
<rect x="495.8" y="377.70" width="53.6" height="3.05" fill="#F0BCC8"/>
<rect x="495.8" y="380.45" width="53.6" height="5.05" fill="#DCD0F0"/>
<rect x="495.8" y="385.20" width="53.6" height="7.05" fill="#DCC8E8"/>
<rect x="495.8" y="391.95" width="53.6" height="5.05" fill="#ECC8D4"/>
<rect x="495.8" y="396.70" width="53.6" height="5.30" fill="#E8B8CC"/>
<rect x="495.8" y="401.70" width="53.6" height="3.80" fill="#F8CCC4"/>
<rect x="495.8" y="405.20" width="53.6" height="3.30" fill="#ECC8D8"/>
<rect x="495.8" y="408.20" width="53.6" height="5.05" fill="#E8B8CC"/>
<rect x="495.8" y="412.95" width="53.6" height="3.55" fill="#F8B8B0"/>
<rect x="495.8" y="416.20" width="53.6" height="5.05" fill="#ECDCE4"/>
<rect x="495.8" y="420.95" width="53.6" height="5.55" fill="#ECBCC8"/>
<rect x="495.8" y="426.20" width="53.6" height="7.80" fill="#F4C4C0"/>
<rect x="495.8" y="433.70" width="53.6" height="4.30" fill="#FCB4A4"/>
<rect x="495.8" y="437.70" width="53.6" height="4.05" fill="#F8C8C0"/>
<rect x="495.8" y="441.45" width="53.6" height="3.80" fill="#F8A498"/>
<rect x="495.8" y="444.95" width="53.6" height="5.30" fill="#F8C4B8"/>
<rect x="495.8" y="449.95" width="53.6" height="5.05" fill="#ECD0DC"/>
<rect x="495.8" y="454.70" width="53.6" height="4.05" fill="#D8C8F0"/>
<rect x="495.8" y="458.45" width="53.6" height="2.05" fill="#E8D0E0"/>
<rect x="495.8" y="460.20" width="53.6" height="5.80" fill="#F4CCCC"/>
<rect x="495.8" y="465.70" width="53.6" height="3.80" fill="#FCA898"/>
<rect x="495.8" y="469.20" width="53.6" height="2.05" fill="#F8D0C8"/>
<rect x="495.8" y="470.95" width="53.6" height="3.55" fill="#E0D4EC"/>
<rect x="495.8" y="474.20" width="53.6" height="2.80" fill="#F8C0B4"/>
<rect x="495.8" y="476.70" width="53.6" height="2.55" fill="#FC9C88"/>
<rect x="495.8" y="478.95" width="53.6" height="8.05" fill="#F8CCC0"/>
<rect x="495.8" y="486.70" width="53.6" height="3.55" fill="#F4E0DC"/>
<rect x="495.8" y="489.95" width="53.6" height="2.80" fill="#FC7C64"/>
<rect x="495.8" y="492.45" width="53.6" height="2.80" fill="#F86C58"/>
<rect x="495.8" y="494.95" width="53.6" height="3.05" fill="#E0B8D8"/>
<rect x="495.8" y="497.70" width="53.6" height="7.30" fill="#E8D4E4"/>
<rect x="495.8" y="504.70" width="53.6" height="5.05" fill="#E4D0E4"/>
<rect x="495.8" y="509.45" width="53.6" height="6.55" fill="#CCB8F4"/>
<rect x="495.8" y="515.70" width="53.6" height="3.55" fill="#BCA4F0"/>
<rect x="495.8" y="518.95" width="53.6" height="5.05" fill="#DCD0F0"/>
<rect x="495.8" y="523.70" width="53.6" height="3.55" fill="#BCA4F0"/>
<rect x="495.8" y="526.95" width="53.6" height="5.30" fill="#E0D0E8"/>
<rect x="495.8" y="531.95" width="53.6" height="3.05" fill="#CCC0F4"/>
<rect x="495.8" y="534.70" width="53.6" height="3.80" fill="#E8D4E4"/>
<rect x="495.8" y="538.20" width="53.6" height="5.05" fill="#E4D4E8"/>
<rect x="495.8" y="542.95" width="53.6" height="5.05" fill="#DCC8E8"/>
<rect x="495.8" y="547.70" width="53.6" height="3.05" fill="#F0B4B8"/>
<rect x="495.8" y="550.45" width="53.6" height="4.05" fill="#FCA08C"/>
<rect x="495.8" y="554.20" width="53.6" height="5.05" fill="#F0CCD0"/>
<rect x="495.8" y="558.95" width="53.6" height="3.30" fill="#F8BCB4"/>
<rect x="495.8" y="561.95" width="53.6" height="8.80" fill="#FCB4A4"/>
<rect x="495.8" y="570.45" width="53.6" height="4.05" fill="#F4C8C4"/>
<rect x="495.8" y="574.20" width="53.6" height="5.05" fill="#E4D4E8"/>
<rect x="495.8" y="578.95" width="53.6" height="4.30" fill="#E4D8EC"/>
<rect x="495.8" y="582.95" width="53.6" height="5.05" fill="#ECDCE4"/>
<rect x="495.8" y="587.70" width="53.6" height="4.05" fill="#E8E4E8"/>
<rect x="495.8" y="591.45" width="53.6" height="8.80" fill="#F4D4D0"/>
<rect x="495.8" y="599.95" width="53.6" height="4.05" fill="#D8C0E8"/>
<rect x="495.8" y="603.70" width="53.6" height="5.30" fill="#E4D4E8"/>
<rect x="495.8" y="608.70" width="53.6" height="0.40" fill="#FFBFB0"/>
<rect x="549.1" y="14.70" width="48.5" height="2.80" fill="#E0C8E4"/>
<rect x="549.1" y="17.20" width="48.5" height="11.30" fill="#DBC9F2"/>
<rect x="549.1" y="28.20" width="48.5" height="4.55" fill="#DFD2F1"/>
<rect x="549.1" y="32.45" width="48.5" height="4.05" fill="#CAADF4"/>
<rect x="549.1" y="36.20" width="48.5" height="2.55" fill="#DCC0E4"/>
<rect x="549.1" y="38.45" width="48.5" height="2.80" fill="#DFD2F1"/>
<rect x="549.1" y="40.95" width="48.5" height="3.30" fill="#CFB6F3"/>
<rect x="549.1" y="43.95" width="48.5" height="4.55" fill="#E2D6F0"/>
<rect x="549.1" y="48.20" width="48.5" height="5.80" fill="#E8C4D8"/>
<rect x="549.1" y="53.70" width="48.5" height="7.05" fill="#DECFF1"/>
<rect x="549.1" y="60.45" width="48.5" height="8.80" fill="#DCCCF1"/>
<rect x="549.1" y="68.95" width="48.5" height="5.05" fill="#D6C1F2"/>
<rect x="549.1" y="73.70" width="48.5" height="11.80" fill="#DCCCF1"/>
<rect x="549.1" y="85.20" width="48.5" height="7.05" fill="#EADCE8"/>
<rect x="549.1" y="91.95" width="48.5" height="10.80" fill="#D6C1F2"/>
<rect x="549.1" y="102.45" width="48.5" height="6.05" fill="#DCCCF1"/>
<rect x="549.1" y="108.20" width="48.5" height="5.80" fill="#CFB6F3"/>
<rect x="549.1" y="113.70" width="48.5" height="7.05" fill="#D9C6F2"/>
<rect x="549.1" y="120.45" width="48.5" height="8.80" fill="#CDB1F3"/>
<rect x="549.1" y="128.95" width="48.5" height="4.30" fill="#E4C8E0"/>
<rect x="549.1" y="132.95" width="48.5" height="4.55" fill="#ECD0DC"/>
<rect x="549.1" y="137.20" width="48.5" height="6.55" fill="#DCCCF1"/>
<rect x="549.1" y="143.45" width="48.5" height="4.05" fill="#E1D4F1"/>
<rect x="549.1" y="147.20" width="48.5" height="13.30" fill="#DCCCF1"/>
<rect x="549.1" y="160.20" width="48.5" height="5.80" fill="#E1D4F1"/>
<rect x="549.1" y="165.70" width="48.5" height="5.05" fill="#D8BCE4"/>
<rect x="549.1" y="170.45" width="48.5" height="3.55" fill="#DCD0F0"/>
<rect x="549.1" y="173.70" width="48.5" height="5.30" fill="#D3BBF3"/>
<rect x="549.1" y="178.70" width="48.5" height="14.05" fill="#D9C6F2"/>
<rect x="549.1" y="192.45" width="48.5" height="3.05" fill="#DFD2F1"/>
<rect x="549.1" y="195.20" width="48.5" height="4.05" fill="#D4BEF3"/>
<rect x="549.1" y="198.95" width="48.5" height="4.30" fill="#E0C0DC"/>
<rect x="549.1" y="202.95" width="48.5" height="7.80" fill="#D8C4E8"/>
<rect x="549.1" y="210.45" width="48.5" height="13.55" fill="#DFD2F1"/>
<rect x="549.1" y="223.70" width="48.5" height="4.30" fill="#D8A8D0"/>
<rect x="549.1" y="227.70" width="48.5" height="4.55" fill="#E4C8E0"/>
<rect x="549.1" y="231.95" width="48.5" height="3.05" fill="#E4C8E4"/>
<rect x="549.1" y="234.70" width="48.5" height="3.80" fill="#CAADF4"/>
<rect x="549.1" y="238.20" width="48.5" height="7.80" fill="#ECC8D4"/>
<rect x="549.1" y="245.70" width="48.5" height="5.55" fill="#FC7C68"/>
<rect x="549.1" y="250.95" width="48.5" height="3.30" fill="#ECC8D8"/>
<rect x="549.1" y="253.95" width="48.5" height="5.30" fill="#FC8C70"/>
<rect x="549.1" y="258.95" width="48.5" height="5.05" fill="#E8C0D4"/>
<rect x="549.1" y="263.70" width="48.5" height="7.05" fill="#F8C8C0"/>
<rect x="549.1" y="270.45" width="48.5" height="4.05" fill="#F4C0C4"/>
<rect x="549.1" y="274.20" width="48.5" height="4.30" fill="#ECC8D8"/>
<rect x="549.1" y="278.20" width="48.5" height="5.05" fill="#F4C8C8"/>
<rect x="549.1" y="282.95" width="48.5" height="8.80" fill="#FCB4A4"/>
<rect x="549.1" y="291.45" width="48.5" height="7.80" fill="#F8C4BC"/>
<rect x="549.1" y="298.95" width="48.5" height="2.80" fill="#F8D8D0"/>
<rect x="549.1" y="301.45" width="48.5" height="6.55" fill="#FCA490"/>
<rect x="549.1" y="307.70" width="48.5" height="2.80" fill="#FCB8A8"/>
<rect x="549.1" y="310.20" width="48.5" height="1.55" fill="#F8C0B8"/>
<rect x="549.1" y="311.45" width="48.5" height="3.55" fill="#FC9078"/>
<rect x="549.1" y="314.70" width="48.5" height="8.55" fill="#F8B4AC"/>
<rect x="549.1" y="322.95" width="48.5" height="2.30" fill="#F8D8D0"/>
<rect x="549.1" y="324.95" width="48.5" height="7.30" fill="#E8B8CC"/>
<rect x="549.1" y="331.95" width="48.5" height="4.05" fill="#ECD4E0"/>
<rect x="549.1" y="335.70" width="48.5" height="3.55" fill="#E8B8CC"/>
<rect x="549.1" y="338.95" width="48.5" height="5.55" fill="#ECC8D8"/>
<rect x="549.1" y="344.20" width="48.5" height="8.05" fill="#E0CCE4"/>
<rect x="549.1" y="351.95" width="48.5" height="8.30" fill="#D0BCF0"/>
<rect x="549.1" y="359.95" width="48.5" height="2.80" fill="#C4ACF4"/>
<rect x="549.1" y="362.45" width="48.5" height="7.30" fill="#D4BCEC"/>
<rect x="549.1" y="369.45" width="48.5" height="3.80" fill="#E0CCE8"/>
<rect x="549.1" y="372.95" width="48.5" height="11.55" fill="#C0A8F0"/>
<rect x="549.1" y="384.20" width="48.5" height="2.30" fill="#E89098"/>
<rect x="549.1" y="386.20" width="48.5" height="4.05" fill="#FC8470"/>
<rect x="549.1" y="389.95" width="48.5" height="7.05" fill="#FC5C48"/>
<rect x="549.1" y="396.70" width="48.5" height="3.55" fill="#FC9488"/>
<rect x="549.1" y="399.95" width="48.5" height="2.05" fill="#F8C0BC"/>
<rect x="549.1" y="401.70" width="48.5" height="3.55" fill="#FC8C7C"/>
<rect x="549.1" y="404.95" width="48.5" height="4.30" fill="#F8C4BC"/>
<rect x="549.1" y="408.95" width="48.5" height="5.05" fill="#E4C8E0"/>
<rect x="549.1" y="413.70" width="48.5" height="7.05" fill="#E0D0E8"/>
<rect x="549.1" y="420.45" width="48.5" height="6.05" fill="#DCC4E4"/>
<rect x="549.1" y="426.20" width="48.5" height="3.05" fill="#E8D0E0"/>
<rect x="549.1" y="428.95" width="48.5" height="4.80" fill="#FCA490"/>
<rect x="549.1" y="433.45" width="48.5" height="4.55" fill="#FCBCAC"/>
<rect x="549.1" y="437.70" width="48.5" height="4.05" fill="#F4C8C8"/>
<rect x="549.1" y="441.45" width="48.5" height="3.80" fill="#FCC0B0"/>
<rect x="549.1" y="444.95" width="48.5" height="5.30" fill="#D8C8F0"/>
<rect x="549.1" y="449.95" width="48.5" height="4.05" fill="#F4C8CC"/>
<rect x="549.1" y="453.70" width="48.5" height="4.30" fill="#ECD4DC"/>
<rect x="549.1" y="457.70" width="48.5" height="2.80" fill="#F8A8A0"/>
<rect x="549.1" y="460.20" width="48.5" height="1.55" fill="#F4C8C8"/>
<rect x="549.1" y="461.45" width="48.5" height="4.55" fill="#FC6C54"/>
<rect x="549.1" y="465.70" width="48.5" height="5.55" fill="#FC8068"/>
<rect x="549.1" y="470.95" width="48.5" height="3.05" fill="#F8B4AC"/>
<rect x="549.1" y="473.70" width="48.5" height="3.80" fill="#F4BCC0"/>
<rect x="549.1" y="477.20" width="48.5" height="5.05" fill="#FCC0B0"/>
<rect x="549.1" y="481.95" width="48.5" height="5.05" fill="#FCA898"/>
<rect x="549.1" y="486.70" width="48.5" height="8.80" fill="#FCB4A4"/>
<rect x="549.1" y="495.20" width="48.5" height="3.30" fill="#F4C4C4"/>
<rect x="549.1" y="498.20" width="48.5" height="5.05" fill="#F0D0D4"/>
<rect x="549.1" y="502.95" width="48.5" height="3.05" fill="#F4BCBC"/>
<rect x="549.1" y="505.70" width="48.5" height="3.80" fill="#FCA498"/>
<rect x="549.1" y="509.20" width="48.5" height="2.05" fill="#ECC4D4"/>
<rect x="549.1" y="510.95" width="48.5" height="3.55" fill="#DCC4E8"/>
<rect x="549.1" y="514.20" width="48.5" height="4.80" fill="#D4BCEC"/>
<rect x="549.1" y="518.70" width="48.5" height="5.30" fill="#F8D0C8"/>
<rect x="549.1" y="523.70" width="48.5" height="3.55" fill="#E0D0EC"/>
<rect x="549.1" y="526.95" width="48.5" height="5.30" fill="#E4CCE4"/>
<rect x="549.1" y="531.95" width="48.5" height="3.05" fill="#ECB4C4"/>
<rect x="549.1" y="534.70" width="48.5" height="5.55" fill="#FC9C88"/>
<rect x="549.1" y="539.95" width="48.5" height="4.05" fill="#FCB0A0"/>
<rect x="549.1" y="543.70" width="48.5" height="7.05" fill="#FCA898"/>
<rect x="549.1" y="550.45" width="48.5" height="11.80" fill="#FC9C88"/>
<rect x="549.1" y="561.95" width="48.5" height="8.80" fill="#FCB0A0"/>
<rect x="549.1" y="570.45" width="48.5" height="4.55" fill="#F4CCCC"/>
<rect x="549.1" y="574.70" width="48.5" height="3.80" fill="#F8C4BC"/>
<rect x="549.1" y="578.20" width="48.5" height="7.80" fill="#E4D8E8"/>
<rect x="549.1" y="585.70" width="48.5" height="8.05" fill="#F8CCC4"/>
<rect x="549.1" y="593.45" width="48.5" height="2.55" fill="#FCBCAC"/>
<rect x="549.1" y="595.70" width="48.5" height="5.55" fill="#F4CCCC"/>
<rect x="549.1" y="600.95" width="48.5" height="8.05" fill="#F0CCD0"/>
<rect x="549.1" y="608.70" width="48.5" height="0.40" fill="#FFBFB0"/>
<rect x="597.3" y="14.70" width="50.9" height="3.30" fill="#DFD2F1"/>
<rect x="597.3" y="17.70" width="50.9" height="9.80" fill="#D9C6F2"/>
<rect x="597.3" y="27.20" width="50.9" height="5.80" fill="#DECFF1"/>
<rect x="597.3" y="32.70" width="50.9" height="6.30" fill="#D3BBF3"/>
<rect x="597.3" y="38.70" width="50.9" height="7.05" fill="#DCCCF1"/>
<rect x="597.3" y="45.45" width="50.9" height="4.30" fill="#D3BBF3"/>
<rect x="597.3" y="49.45" width="50.9" height="3.55" fill="#D8BCE4"/>
<rect x="597.3" y="52.70" width="50.9" height="33.55" fill="#D7C4F2"/>
<rect x="597.3" y="85.95" width="50.9" height="6.05" fill="#D1B8F3"/>
<rect x="597.3" y="91.70" width="50.9" height="10.80" fill="#D7C4F2"/>
<rect x="597.3" y="102.20" width="50.9" height="7.05" fill="#DCCCF1"/>
<rect x="597.3" y="108.95" width="50.9" height="20.30" fill="#D9C6F2"/>
<rect x="597.3" y="128.95" width="50.9" height="8.05" fill="#D1B8F3"/>
<rect x="597.3" y="136.70" width="50.9" height="2.55" fill="#D9C6F2"/>
<rect x="597.3" y="138.95" width="50.9" height="8.05" fill="#E0CCE4"/>
<rect x="597.3" y="146.70" width="50.9" height="5.55" fill="#DCCCF1"/>
<rect x="597.3" y="151.95" width="50.9" height="3.30" fill="#D8C0E4"/>
<rect x="597.3" y="154.95" width="50.9" height="5.30" fill="#DFD2F1"/>
<rect x="597.3" y="159.95" width="50.9" height="6.05" fill="#E1D4F1"/>
<rect x="597.3" y="165.70" width="50.9" height="5.80" fill="#DCCCF1"/>
<rect x="597.3" y="171.20" width="50.9" height="6.05" fill="#E4D0E4"/>
<rect x="597.3" y="176.95" width="50.9" height="5.55" fill="#D9C6F2"/>
<rect x="597.3" y="182.20" width="50.9" height="2.55" fill="#ECCCD8"/>
<rect x="597.3" y="184.45" width="50.9" height="6.55" fill="#E0D4E8"/>
<rect x="597.3" y="190.70" width="50.9" height="5.05" fill="#DCCCF1"/>
<rect x="597.3" y="195.45" width="50.9" height="5.05" fill="#D4BEF3"/>
<rect x="597.3" y="200.20" width="50.9" height="11.05" fill="#D7C4F2"/>
<rect x="597.3" y="210.95" width="50.9" height="5.05" fill="#E4DCEC"/>
<rect x="597.3" y="215.70" width="50.9" height="6.05" fill="#DFD2F1"/>
<rect x="597.3" y="221.45" width="50.9" height="3.05" fill="#DBC9F2"/>
<rect x="597.3" y="224.20" width="50.9" height="8.05" fill="#E4C4DC"/>
<rect x="597.3" y="231.95" width="50.9" height="3.30" fill="#F06060"/>
<rect x="597.3" y="234.95" width="50.9" height="4.05" fill="#F8C0B8"/>
<rect x="597.3" y="238.70" width="50.9" height="2.30" fill="#ECC0CC"/>
<rect x="597.3" y="240.70" width="50.9" height="3.05" fill="#F8CCC4"/>
<rect x="597.3" y="243.45" width="50.9" height="3.30" fill="#F4B4B0"/>
<rect x="597.3" y="246.45" width="50.9" height="5.05" fill="#FCBCAC"/>
<rect x="597.3" y="251.20" width="50.9" height="5.05" fill="#E4CCE0"/>
<rect x="597.3" y="255.95" width="50.9" height="4.30" fill="#F0C8D0"/>
<rect x="597.3" y="259.95" width="50.9" height="5.05" fill="#FCB8A8"/>
<rect x="597.3" y="264.70" width="50.9" height="5.05" fill="#FCB0A0"/>
<rect x="597.3" y="269.45" width="50.9" height="6.05" fill="#FCC0B0"/>
<rect x="597.3" y="275.20" width="50.9" height="5.05" fill="#FCB8A8"/>
<rect x="597.3" y="279.95" width="50.9" height="3.30" fill="#F8B0A8"/>
<rect x="597.3" y="282.95" width="50.9" height="2.05" fill="#F4C8C8"/>
<rect x="597.3" y="284.70" width="50.9" height="7.05" fill="#F8D0C8"/>
<rect x="597.3" y="291.45" width="50.9" height="2.30" fill="#F8C0B8"/>
<rect x="597.3" y="293.45" width="50.9" height="3.05" fill="#FC9080"/>
<rect x="597.3" y="296.20" width="50.9" height="6.05" fill="#F8C4BC"/>
<rect x="597.3" y="301.95" width="50.9" height="8.30" fill="#FCB4A4"/>
<rect x="597.3" y="309.95" width="50.9" height="7.05" fill="#F8C8C0"/>
<rect x="597.3" y="316.70" width="50.9" height="3.55" fill="#FCC0B0"/>
<rect x="597.3" y="319.95" width="50.9" height="3.30" fill="#F8B0A8"/>
<rect x="597.3" y="322.95" width="50.9" height="5.55" fill="#E0C8E4"/>
<rect x="597.3" y="328.20" width="50.9" height="5.05" fill="#ECBCC8"/>
<rect x="597.3" y="332.95" width="50.9" height="6.05" fill="#E4C8E0"/>
<rect x="597.3" y="338.70" width="50.9" height="5.30" fill="#FC9480"/>
<rect x="597.3" y="343.70" width="50.9" height="3.05" fill="#F8C8C0"/>
<rect x="597.3" y="346.45" width="50.9" height="5.05" fill="#ECD8E0"/>
<rect x="597.3" y="351.20" width="50.9" height="4.30" fill="#F0BCC4"/>
<rect x="597.3" y="355.20" width="50.9" height="5.05" fill="#FCC4B4"/>
<rect x="597.3" y="359.95" width="50.9" height="4.05" fill="#F8D8D0"/>
<rect x="597.3" y="363.70" width="50.9" height="4.30" fill="#F8C8C0"/>
<rect x="597.3" y="367.70" width="50.9" height="8.80" fill="#F0D4D8"/>
<rect x="597.3" y="376.20" width="50.9" height="8.05" fill="#E4D8EC"/>
<rect x="597.3" y="383.95" width="50.9" height="5.05" fill="#F4C4C4"/>
<rect x="597.3" y="388.70" width="50.9" height="8.30" fill="#F0D4D8"/>
<rect x="597.3" y="396.70" width="50.9" height="5.30" fill="#FC7460"/>
<rect x="597.3" y="401.70" width="50.9" height="6.55" fill="#FC9480"/>
<rect x="597.3" y="407.95" width="50.9" height="2.30" fill="#F8C4BC"/>
<rect x="597.3" y="409.95" width="50.9" height="6.05" fill="#E4C4DC"/>
<rect x="597.3" y="415.70" width="50.9" height="13.55" fill="#E4CCE0"/>
<rect x="597.3" y="428.95" width="50.9" height="4.30" fill="#ECC8D8"/>
<rect x="597.3" y="432.95" width="50.9" height="4.05" fill="#E8D4E0"/>
<rect x="597.3" y="436.70" width="50.9" height="5.05" fill="#F4C8C8"/>
<rect x="597.3" y="441.45" width="50.9" height="5.55" fill="#E4D4E8"/>
<rect x="597.3" y="446.70" width="50.9" height="3.80" fill="#F4DCD8"/>
<rect x="597.3" y="450.20" width="50.9" height="3.05" fill="#FCB8A8"/>
<rect x="597.3" y="452.95" width="50.9" height="5.05" fill="#E0D0EC"/>
<rect x="597.3" y="457.70" width="50.9" height="2.55" fill="#F8C0B8"/>
<rect x="597.3" y="459.95" width="50.9" height="9.05" fill="#F0D0D4"/>
<rect x="597.3" y="468.70" width="50.9" height="2.80" fill="#E0D0EC"/>
<rect x="597.3" y="471.20" width="50.9" height="3.55" fill="#ECC8D8"/>
<rect x="597.3" y="474.45" width="50.9" height="5.05" fill="#F4D0D0"/>
<rect x="597.3" y="479.20" width="50.9" height="3.30" fill="#F8C4BC"/>
<rect x="597.3" y="482.20" width="50.9" height="4.05" fill="#FCB0A0"/>
<rect x="597.3" y="485.95" width="50.9" height="4.05" fill="#FCC0B0"/>
<rect x="597.3" y="489.70" width="50.9" height="4.30" fill="#F8CCC4"/>
<rect x="597.3" y="493.70" width="50.9" height="6.80" fill="#ECD0DC"/>
<rect x="597.3" y="500.20" width="50.9" height="2.80" fill="#E0D0EC"/>
<rect x="597.3" y="502.70" width="50.9" height="3.55" fill="#F8C8C0"/>
<rect x="597.3" y="505.95" width="50.9" height="3.30" fill="#ECD4DC"/>
<rect x="597.3" y="508.95" width="50.9" height="9.80" fill="#F4C8C8"/>
<rect x="597.3" y="518.45" width="50.9" height="5.30" fill="#FCC0B0"/>
<rect x="597.3" y="523.45" width="50.9" height="6.80" fill="#F8C8C0"/>
<rect x="597.3" y="529.95" width="50.9" height="5.30" fill="#ECD4DC"/>
<rect x="597.3" y="534.95" width="50.9" height="3.05" fill="#F0BCC4"/>
<rect x="597.3" y="537.70" width="50.9" height="8.05" fill="#FCC0B0"/>
<rect x="597.3" y="545.45" width="50.9" height="8.80" fill="#F8C8C0"/>
<rect x="597.3" y="553.95" width="50.9" height="5.30" fill="#F0D4D8"/>
<rect x="597.3" y="558.95" width="50.9" height="5.05" fill="#F8D0C8"/>
<rect x="597.3" y="563.70" width="50.9" height="3.05" fill="#F8C4BC"/>
<rect x="597.3" y="566.45" width="50.9" height="8.05" fill="#F0DCDC"/>
<rect x="597.3" y="574.20" width="50.9" height="4.05" fill="#F4CCCC"/>
<rect x="597.3" y="577.95" width="50.9" height="5.30" fill="#F8D0C8"/>
<rect x="597.3" y="582.95" width="50.9" height="3.05" fill="#ECCCD8"/>
<rect x="597.3" y="585.70" width="50.9" height="9.05" fill="#F8CCC4"/>
<rect x="597.3" y="594.45" width="50.9" height="6.05" fill="#F4D0D0"/>
<rect x="597.3" y="600.20" width="50.9" height="7.05" fill="#F4B4B0"/>
<rect x="597.3" y="606.95" width="50.9" height="2.05" fill="#E4D0E8"/>
<rect x="597.3" y="608.70" width="50.9" height="0.40" fill="#FFBFB0"/>
<rect x="647.9" y="14.70" width="50.6" height="2.80" fill="#E4C8E0"/>
<rect x="647.9" y="17.20" width="50.6" height="5.55" fill="#DBC9F2"/>
<rect x="647.9" y="22.45" width="50.6" height="6.05" fill="#E1D4F1"/>
<rect x="647.9" y="28.20" width="50.6" height="2.80" fill="#E0CCE4"/>
<rect x="647.9" y="30.70" width="50.6" height="2.55" fill="#ECCCD8"/>
<rect x="647.9" y="32.95" width="50.6" height="3.80" fill="#CFB6F3"/>
<rect x="647.9" y="36.45" width="50.6" height="2.55" fill="#DCCCF1"/>
<rect x="647.9" y="38.70" width="50.6" height="3.30" fill="#E4CCE0"/>
<rect x="647.9" y="41.70" width="50.6" height="2.80" fill="#DFD2F1"/>
<rect x="647.9" y="44.20" width="50.6" height="2.55" fill="#E8D0DC"/>
<rect x="647.9" y="46.45" width="50.6" height="2.80" fill="#DCCCF1"/>
<rect x="647.9" y="48.95" width="50.6" height="5.05" fill="#DCBCE0"/>
<rect x="647.9" y="53.70" width="50.6" height="6.80" fill="#DECFF1"/>
<rect x="647.9" y="60.20" width="50.6" height="7.80" fill="#DBC9F2"/>
<rect x="647.9" y="67.70" width="50.6" height="21.05" fill="#D6C1F2"/>
<rect x="647.9" y="88.45" width="50.6" height="5.30" fill="#DFD2F1"/>
<rect x="647.9" y="93.45" width="50.6" height="8.55" fill="#D4BEF3"/>
<rect x="647.9" y="101.70" width="50.6" height="3.55" fill="#E3D9F0"/>
<rect x="647.9" y="104.95" width="50.6" height="3.30" fill="#D9C6F2"/>
<rect x="647.9" y="107.95" width="50.6" height="5.05" fill="#D1B8F3"/>
<rect x="647.9" y="112.70" width="50.6" height="8.05" fill="#D7C4F2"/>
<rect x="647.9" y="120.45" width="50.6" height="5.05" fill="#CFB6F3"/>
<rect x="647.9" y="125.20" width="50.6" height="4.05" fill="#C5A5F4"/>
<rect x="647.9" y="128.95" width="50.6" height="5.05" fill="#D3BBF3"/>
<rect x="647.9" y="133.70" width="50.6" height="5.30" fill="#CDB1F3"/>
<rect x="647.9" y="138.70" width="50.6" height="8.30" fill="#DECFF1"/>
<rect x="647.9" y="146.70" width="50.6" height="5.55" fill="#D7C4F2"/>
<rect x="647.9" y="151.95" width="50.6" height="3.30" fill="#D3BBF3"/>
<rect x="647.9" y="154.95" width="50.6" height="5.30" fill="#DECFF1"/>
<rect x="647.9" y="159.95" width="50.6" height="6.05" fill="#E1D4F1"/>
<rect x="647.9" y="165.70" width="50.6" height="5.80" fill="#D6C1F2"/>
<rect x="647.9" y="171.20" width="50.6" height="2.80" fill="#E4D4E8"/>
<rect x="647.9" y="173.70" width="50.6" height="5.80" fill="#D7C4F2"/>
<rect x="647.9" y="179.20" width="50.6" height="7.05" fill="#E0D0E8"/>
<rect x="647.9" y="185.95" width="50.6" height="14.55" fill="#DCCCF1"/>
<rect x="647.9" y="200.20" width="50.6" height="3.30" fill="#DCC4E4"/>
<rect x="647.9" y="203.20" width="50.6" height="8.05" fill="#D4BEF3"/>
<rect x="647.9" y="210.95" width="50.6" height="7.05" fill="#DFD2F1"/>
<rect x="647.9" y="217.70" width="50.6" height="6.80" fill="#D9C6F2"/>
<rect x="647.9" y="224.20" width="50.6" height="6.55" fill="#D3BBF3"/>
<rect x="647.9" y="230.45" width="50.6" height="5.05" fill="#E8CCDC"/>
<rect x="647.9" y="235.20" width="50.6" height="4.80" fill="#E4C0D8"/>
<rect x="647.9" y="239.70" width="50.6" height="3.55" fill="#DCD0F4"/>
<rect x="647.9" y="242.95" width="50.6" height="2.80" fill="#E8A0B0"/>
<rect x="647.9" y="245.45" width="50.6" height="2.80" fill="#FC4838"/>
<rect x="647.9" y="247.95" width="50.6" height="2.55" fill="#FC9080"/>
<rect x="647.9" y="250.20" width="50.6" height="4.05" fill="#FC6C5C"/>
<rect x="647.9" y="253.95" width="50.6" height="5.30" fill="#E4C8E0"/>
<rect x="647.9" y="258.95" width="50.6" height="5.05" fill="#F8C0B8"/>
<rect x="647.9" y="263.70" width="50.6" height="6.30" fill="#FC9884"/>
<rect x="647.9" y="269.70" width="50.6" height="5.80" fill="#FCB0A0"/>
<rect x="647.9" y="275.20" width="50.6" height="5.05" fill="#FCA898"/>
<rect x="647.9" y="279.95" width="50.6" height="11.80" fill="#FCB0A0"/>
<rect x="647.9" y="291.45" width="50.6" height="8.05" fill="#E8C4D4"/>
<rect x="647.9" y="299.20" width="50.6" height="2.30" fill="#F0C8D0"/>
<rect x="647.9" y="301.20" width="50.6" height="6.80" fill="#FC6450"/>
<rect x="647.9" y="307.70" width="50.6" height="2.55" fill="#FC7C68"/>
<rect x="647.9" y="309.95" width="50.6" height="10.05" fill="#FC8870"/>
<rect x="647.9" y="319.70" width="50.6" height="4.05" fill="#F8C0B8"/>
<rect x="647.9" y="323.45" width="50.6" height="5.05" fill="#F0BCC4"/>
<rect x="647.9" y="328.20" width="50.6" height="4.30" fill="#F0D0D8"/>
<rect x="647.9" y="332.20" width="50.6" height="4.05" fill="#E4D0E4"/>
<rect x="647.9" y="335.95" width="50.6" height="8.55" fill="#E0D0EC"/>
<rect x="647.9" y="344.20" width="50.6" height="3.55" fill="#D4C0EC"/>
<rect x="647.9" y="347.45" width="50.6" height="5.05" fill="#E0D4EC"/>
<rect x="647.9" y="352.20" width="50.6" height="5.05" fill="#C8B0F0"/>
<rect x="647.9" y="356.95" width="50.6" height="4.30" fill="#D8C4EC"/>
<rect x="647.9" y="360.95" width="50.6" height="4.05" fill="#E4D4EC"/>
<rect x="647.9" y="364.70" width="50.6" height="4.05" fill="#E4C8E0"/>
<rect x="647.9" y="368.45" width="50.6" height="4.80" fill="#DCC8E8"/>
<rect x="647.9" y="372.95" width="50.6" height="11.80" fill="#C0A4F0"/>
<rect x="647.9" y="384.45" width="50.6" height="2.30" fill="#CCA8E4"/>
<rect x="647.9" y="386.45" width="50.6" height="5.55" fill="#F8B4AC"/>
<rect x="647.9" y="391.70" width="50.6" height="6.05" fill="#E8D4E4"/>
<rect x="647.9" y="397.45" width="50.6" height="4.55" fill="#F4C0C0"/>
<rect x="647.9" y="401.70" width="50.6" height="4.30" fill="#E0D4F0"/>
<rect x="647.9" y="405.70" width="50.6" height="10.30" fill="#DCCCE8"/>
<rect x="647.9" y="415.70" width="50.6" height="6.05" fill="#D8C8F0"/>
<rect x="647.9" y="421.45" width="50.6" height="3.05" fill="#DCD0EC"/>
<rect x="647.9" y="424.20" width="50.6" height="4.80" fill="#CCB8F0"/>
<rect x="647.9" y="428.70" width="50.6" height="4.55" fill="#E0CCE8"/>
<rect x="647.9" y="432.95" width="50.6" height="4.05" fill="#F4C8C8"/>
<rect x="647.9" y="436.70" width="50.6" height="10.30" fill="#E4D8EC"/>
<rect x="647.9" y="446.70" width="50.6" height="3.30" fill="#D0BCEC"/>
<rect x="647.9" y="449.70" width="50.6" height="3.55" fill="#F0CCD4"/>
<rect x="647.9" y="452.95" width="50.6" height="7.30" fill="#E8D4E0"/>
<rect x="647.9" y="459.95" width="50.6" height="2.55" fill="#E4D0E4"/>
<rect x="647.9" y="462.20" width="50.6" height="4.30" fill="#FCA898"/>
<rect x="647.9" y="466.20" width="50.6" height="4.55" fill="#FCC0B0"/>
<rect x="647.9" y="470.45" width="50.6" height="3.55" fill="#DCC0E4"/>
<rect x="647.9" y="473.70" width="50.6" height="3.80" fill="#F0B0B8"/>
<rect x="647.9" y="477.20" width="50.6" height="5.30" fill="#FCB8A8"/>
<rect x="647.9" y="482.20" width="50.6" height="7.80" fill="#FC9C88"/>
<rect x="647.9" y="489.70" width="50.6" height="3.55" fill="#F8B4AC"/>
<rect x="647.9" y="492.95" width="50.6" height="5.80" fill="#ECCCD8"/>
<rect x="647.9" y="498.45" width="50.6" height="4.55" fill="#F8CCC4"/>
<rect x="647.9" y="502.70" width="50.6" height="4.55" fill="#E8D8E0"/>
<rect x="647.9" y="506.95" width="50.6" height="2.30" fill="#F0D0D4"/>
<rect x="647.9" y="508.95" width="50.6" height="2.80" fill="#DCC8EC"/>
<rect x="647.9" y="511.45" width="50.6" height="7.30" fill="#F4CCCC"/>
<rect x="647.9" y="518.45" width="50.6" height="8.05" fill="#FCB8A8"/>
<rect x="647.9" y="526.20" width="50.6" height="4.05" fill="#F4C8CC"/>
<rect x="647.9" y="529.95" width="50.6" height="5.55" fill="#D8C8F0"/>
<rect x="647.9" y="535.20" width="50.6" height="2.80" fill="#F4C0C0"/>
<rect x="647.9" y="537.70" width="50.6" height="2.80" fill="#ECD8E0"/>
<rect x="647.9" y="540.20" width="50.6" height="3.55" fill="#F8C0B8"/>
<rect x="647.9" y="543.45" width="50.6" height="4.30" fill="#ECCCD8"/>
<rect x="647.9" y="547.45" width="50.6" height="3.55" fill="#FCB4A4"/>
<rect x="647.9" y="550.70" width="50.6" height="3.55" fill="#FC9C88"/>
<rect x="647.9" y="553.95" width="50.6" height="5.30" fill="#E8C8DC"/>
<rect x="647.9" y="558.95" width="50.6" height="5.05" fill="#F8B8B0"/>
<rect x="647.9" y="563.70" width="50.6" height="8.05" fill="#F4CCCC"/>
<rect x="647.9" y="571.45" width="50.6" height="3.55" fill="#ECD0DC"/>
<rect x="647.9" y="574.70" width="50.6" height="3.55" fill="#F8C0B8"/>
<rect x="647.9" y="577.95" width="50.6" height="8.05" fill="#F0DCDC"/>
<rect x="647.9" y="585.70" width="50.6" height="15.80" fill="#F8C8C0"/>
<rect x="647.9" y="601.20" width="50.6" height="3.05" fill="#F4B4B0"/>
<rect x="647.9" y="603.95" width="50.6" height="5.05" fill="#FCC0B0"/>
<rect x="647.9" y="608.70" width="50.6" height="0.40" fill="#FFBFB0"/>
<rect x="698.2" y="14.70" width="51.1" height="16.80" fill="#D4BEF3"/>
<rect x="698.2" y="31.20" width="51.1" height="4.05" fill="#D9C6F2"/>
<rect x="698.2" y="34.95" width="51.1" height="10.80" fill="#D3BBF3"/>
<rect x="698.2" y="45.45" width="51.1" height="6.05" fill="#D7C4F2"/>
<rect x="698.2" y="51.20" width="51.1" height="3.30" fill="#CAADF4"/>
<rect x="698.2" y="54.20" width="51.1" height="6.30" fill="#D1B8F3"/>
<rect x="698.2" y="60.20" width="51.1" height="4.80" fill="#D6C1F2"/>
<rect x="698.2" y="64.70" width="51.1" height="3.30" fill="#DECFF1"/>
<rect x="698.2" y="67.70" width="51.1" height="9.80" fill="#D9C6F2"/>
<rect x="698.2" y="77.20" width="51.1" height="7.05" fill="#D3BBF3"/>
<rect x="698.2" y="83.95" width="51.1" height="4.80" fill="#D6C1F2"/>
<rect x="698.2" y="88.45" width="51.1" height="4.05" fill="#CDB1F3"/>
<rect x="698.2" y="92.20" width="51.1" height="7.30" fill="#DBC9F2"/>
<rect x="698.2" y="99.20" width="51.1" height="2.80" fill="#D3BBF3"/>
<rect x="698.2" y="101.70" width="51.1" height="6.55" fill="#D7C4F2"/>
<rect x="698.2" y="107.95" width="51.1" height="5.05" fill="#D8C0E8"/>
<rect x="698.2" y="112.70" width="51.1" height="8.05" fill="#D9C6F2"/>
<rect x="698.2" y="120.45" width="51.1" height="2.55" fill="#E4DBF0"/>
<rect x="698.2" y="122.70" width="51.1" height="6.30" fill="#D6C1F2"/>
<rect x="698.2" y="128.70" width="51.1" height="8.80" fill="#C5A5F4"/>
<rect x="698.2" y="137.20" width="51.1" height="7.55" fill="#DFD2F1"/>
<rect x="698.2" y="144.45" width="51.1" height="15.80" fill="#DBC9F2"/>
<rect x="698.2" y="159.95" width="51.1" height="6.05" fill="#E2D6F0"/>
<rect x="698.2" y="165.70" width="51.1" height="5.80" fill="#D9C6F2"/>
<rect x="698.2" y="171.20" width="51.1" height="2.80" fill="#E4D4E8"/>
<rect x="698.2" y="173.70" width="51.1" height="8.80" fill="#D7C4F2"/>
<rect x="698.2" y="182.20" width="51.1" height="4.05" fill="#E1D4F1"/>
<rect x="698.2" y="185.95" width="51.1" height="8.05" fill="#D9C6F2"/>
<rect x="698.2" y="193.70" width="51.1" height="6.05" fill="#D4BEF3"/>
<rect x="698.2" y="199.45" width="51.1" height="4.05" fill="#CFB6F3"/>
<rect x="698.2" y="203.20" width="51.1" height="8.05" fill="#D4BEF3"/>
<rect x="698.2" y="210.95" width="51.1" height="5.05" fill="#DFD2F1"/>
<rect x="698.2" y="215.70" width="51.1" height="3.05" fill="#D9C6F2"/>
<rect x="698.2" y="218.45" width="51.1" height="3.30" fill="#DFD2F1"/>
<rect x="698.2" y="221.45" width="51.1" height="5.55" fill="#DCC8E8"/>
<rect x="698.2" y="226.70" width="51.1" height="5.55" fill="#F0D0D4"/>
<rect x="698.2" y="231.95" width="51.1" height="3.30" fill="#F08080"/>
<rect x="698.2" y="234.95" width="51.1" height="3.80" fill="#FC7868"/>
<rect x="698.2" y="238.45" width="51.1" height="4.80" fill="#FC3C2C"/>
<rect x="698.2" y="242.95" width="51.1" height="2.80" fill="#ECC4D4"/>
<rect x="698.2" y="245.45" width="51.1" height="6.05" fill="#F0CCD4"/>
<rect x="698.2" y="251.20" width="51.1" height="3.05" fill="#E4C4DC"/>
<rect x="698.2" y="253.95" width="51.1" height="9.05" fill="#FC8470"/>
<rect x="698.2" y="262.70" width="51.1" height="5.05" fill="#FCB0A0"/>
<rect x="698.2" y="267.45" width="51.1" height="15.80" fill="#FCC0B0"/>
<rect x="698.2" y="282.95" width="51.1" height="5.05" fill="#FCB4A4"/>
<rect x="698.2" y="287.70" width="51.1" height="3.55" fill="#F8DCD4"/>
<rect x="698.2" y="290.95" width="51.1" height="2.80" fill="#FCB8A8"/>
<rect x="698.2" y="293.45" width="51.1" height="5.55" fill="#FCA090"/>
<rect x="698.2" y="298.70" width="51.1" height="2.80" fill="#FC7C68"/>
<rect x="698.2" y="301.20" width="51.1" height="2.05" fill="#FCC8BC"/>
<rect x="698.2" y="302.95" width="51.1" height="5.05" fill="#F8E0DC"/>
<rect x="698.2" y="307.70" width="51.1" height="2.55" fill="#FCC0B0"/>
<rect x="698.2" y="309.95" width="51.1" height="2.30" fill="#F4C8C8"/>
<rect x="698.2" y="311.95" width="51.1" height="8.05" fill="#F0D8D8"/>
<rect x="698.2" y="319.70" width="51.1" height="4.05" fill="#ECC8D4"/>
<rect x="698.2" y="323.45" width="51.1" height="8.05" fill="#F4A89C"/>
<rect x="698.2" y="331.20" width="51.1" height="3.05" fill="#F4C0C0"/>
<rect x="698.2" y="333.95" width="51.1" height="7.05" fill="#FCC0B0"/>
<rect x="698.2" y="340.70" width="51.1" height="8.05" fill="#F8C4BC"/>
<rect x="698.2" y="348.45" width="51.1" height="8.80" fill="#ECD4DC"/>
<rect x="698.2" y="356.95" width="51.1" height="3.30" fill="#E8E0EC"/>
<rect x="698.2" y="359.95" width="51.1" height="5.05" fill="#FCB4A4"/>
<rect x="698.2" y="364.70" width="51.1" height="5.55" fill="#FC8C78"/>
<rect x="698.2" y="369.95" width="51.1" height="3.30" fill="#FCAC9C"/>
<rect x="698.2" y="372.95" width="51.1" height="7.30" fill="#F4D0D0"/>
<rect x="698.2" y="379.95" width="51.1" height="6.30" fill="#F8CCC4"/>
<rect x="698.2" y="385.95" width="51.1" height="3.55" fill="#FC7C68"/>
<rect x="698.2" y="389.20" width="51.1" height="4.55" fill="#FCB0A0"/>
<rect x="698.2" y="393.45" width="51.1" height="7.05" fill="#F4BCBC"/>
<rect x="698.2" y="400.20" width="51.1" height="5.05" fill="#F8B4AC"/>
<rect x="698.2" y="404.95" width="51.1" height="5.30" fill="#ECCCD8"/>
<rect x="698.2" y="409.95" width="51.1" height="5.05" fill="#ECC8D8"/>
<rect x="698.2" y="414.70" width="51.1" height="3.05" fill="#F0C8D0"/>
<rect x="698.2" y="417.45" width="51.1" height="4.30" fill="#E4D0E8"/>
<rect x="698.2" y="421.45" width="51.1" height="4.05" fill="#DCCCEC"/>
<rect x="698.2" y="425.20" width="51.1" height="8.05" fill="#FC9480"/>
<rect x="698.2" y="432.95" width="51.1" height="4.05" fill="#F4C8C8"/>
<rect x="698.2" y="436.70" width="51.1" height="5.80" fill="#F8A89C"/>
<rect x="698.2" y="442.20" width="51.1" height="8.30" fill="#FCB8A8"/>
<rect x="698.2" y="450.20" width="51.1" height="5.05" fill="#FC7460"/>
<rect x="698.2" y="454.95" width="51.1" height="5.30" fill="#FC9480"/>
<rect x="698.2" y="459.95" width="51.1" height="2.30" fill="#FCB0A0"/>
<rect x="698.2" y="461.95" width="51.1" height="6.05" fill="#E4D4E8"/>
<rect x="698.2" y="467.70" width="51.1" height="3.05" fill="#ECD8E0"/>
<rect x="698.2" y="470.45" width="51.1" height="4.30" fill="#E8C8DC"/>
<rect x="698.2" y="474.45" width="51.1" height="4.55" fill="#F0D4D8"/>
<rect x="698.2" y="478.70" width="51.1" height="6.55" fill="#F8C8C0"/>
<rect x="698.2" y="484.95" width="51.1" height="6.05" fill="#F0D8D8"/>
<rect x="698.2" y="490.70" width="51.1" height="4.55" fill="#ECD0DC"/>
<rect x="698.2" y="494.95" width="51.1" height="3.80" fill="#F4A8A0"/>
<rect x="698.2" y="498.45" width="51.1" height="5.05" fill="#FCB8A8"/>
<rect x="698.2" y="503.20" width="51.1" height="18.55" fill="#FCA898"/>
<rect x="698.2" y="521.45" width="51.1" height="5.55" fill="#FCA08C"/>
<rect x="698.2" y="526.70" width="51.1" height="5.05" fill="#F8C0B8"/>
<rect x="698.2" y="531.45" width="51.1" height="3.80" fill="#FCB0A0"/>
<rect x="698.2" y="534.95" width="51.1" height="5.05" fill="#F8C0B8"/>
<rect x="698.2" y="539.70" width="51.1" height="6.05" fill="#FCA898"/>
<rect x="698.2" y="545.45" width="51.1" height="6.05" fill="#F4CCCC"/>
<rect x="698.2" y="551.20" width="51.1" height="3.55" fill="#E8D4E0"/>
<rect x="698.2" y="554.45" width="51.1" height="9.55" fill="#F8D4CC"/>
<rect x="698.2" y="563.70" width="51.1" height="8.05" fill="#F4D4D0"/>
<rect x="698.2" y="571.45" width="51.1" height="6.30" fill="#F8CCC4"/>
<rect x="698.2" y="577.45" width="51.1" height="6.55" fill="#FCB0A0"/>
<rect x="698.2" y="583.70" width="51.1" height="3.30" fill="#F8C8C0"/>
<rect x="698.2" y="586.70" width="51.1" height="8.05" fill="#FCC0B0"/>
<rect x="698.2" y="594.45" width="51.1" height="7.05" fill="#F4D0D0"/>
<rect x="698.2" y="601.20" width="51.1" height="3.05" fill="#ECCCD8"/>
<rect x="698.2" y="603.95" width="51.1" height="5.05" fill="#F8CCC4"/>
<rect x="698.2" y="608.70" width="51.1" height="0.40" fill="#FFBFB0"/>
<rect x="749.0" y="14.70" width="50.3" height="2.80" fill="#E4C8E0"/>
<rect x="749.0" y="17.20" width="50.3" height="5.55" fill="#D9C6F2"/>
<rect x="749.0" y="22.45" width="50.3" height="5.55" fill="#DECFF1"/>
<rect x="749.0" y="27.70" width="50.3" height="5.30" fill="#E0C8E4"/>
<rect x="749.0" y="32.70" width="50.3" height="3.55" fill="#D1B8F3"/>
<rect x="749.0" y="35.95" width="50.3" height="3.05" fill="#D9C6F2"/>
<rect x="749.0" y="38.70" width="50.3" height="2.80" fill="#E3D8F0"/>
<rect x="749.0" y="41.20" width="50.3" height="3.30" fill="#DCCCF1"/>
<rect x="749.0" y="44.20" width="50.3" height="2.30" fill="#E5DCF0"/>
<rect x="749.0" y="46.20" width="50.3" height="3.05" fill="#DCCCF1"/>
<rect x="749.0" y="48.95" width="50.3" height="4.55" fill="#DCC4E4"/>
<rect x="749.0" y="53.20" width="50.3" height="14.80" fill="#DCCCF1"/>
<rect x="749.0" y="67.70" width="50.3" height="5.05" fill="#D6C1F2"/>
<rect x="749.0" y="72.45" width="50.3" height="7.05" fill="#DBC9F2"/>
<rect x="749.0" y="79.20" width="50.3" height="22.80" fill="#D7C4F2"/>
<rect x="749.0" y="101.70" width="50.3" height="3.55" fill="#E3D8F0"/>
<rect x="749.0" y="104.95" width="50.3" height="4.80" fill="#D9C6F2"/>
<rect x="749.0" y="109.45" width="50.3" height="3.55" fill="#D3BBF3"/>
<rect x="749.0" y="112.70" width="50.3" height="12.80" fill="#D7C4F2"/>
<rect x="749.0" y="125.20" width="50.3" height="6.05" fill="#CFB6F3"/>
<rect x="749.0" y="130.95" width="50.3" height="3.05" fill="#D9C6F2"/>
<rect x="749.0" y="133.70" width="50.3" height="4.80" fill="#CFB6F3"/>
<rect x="749.0" y="138.20" width="50.3" height="8.80" fill="#DFD2F1"/>
<rect x="749.0" y="146.70" width="50.3" height="3.80" fill="#D6C1F2"/>
<rect x="749.0" y="150.20" width="50.3" height="3.05" fill="#E0CCE4"/>
<rect x="749.0" y="152.95" width="50.3" height="7.30" fill="#DCCCF1"/>
<rect x="749.0" y="159.95" width="50.3" height="6.05" fill="#E1D4F1"/>
<rect x="749.0" y="165.70" width="50.3" height="5.05" fill="#D4BEF3"/>
<rect x="749.0" y="170.45" width="50.3" height="3.55" fill="#DECFF1"/>
<rect x="749.0" y="173.70" width="50.3" height="8.80" fill="#D9C6F2"/>
<rect x="749.0" y="182.20" width="50.3" height="4.05" fill="#E1D4F1"/>
<rect x="749.0" y="185.95" width="50.3" height="8.05" fill="#DBC9F2"/>
<rect x="749.0" y="193.70" width="50.3" height="6.05" fill="#D6C1F2"/>
<rect x="749.0" y="199.45" width="50.3" height="4.05" fill="#DCC4E4"/>
<rect x="749.0" y="203.20" width="50.3" height="8.05" fill="#D6C1F2"/>
<rect x="749.0" y="210.95" width="50.3" height="15.55" fill="#DECFF1"/>
<rect x="749.0" y="226.20" width="50.3" height="6.05" fill="#D9C6F2"/>
<rect x="749.0" y="231.95" width="50.3" height="10.80" fill="#ECC0CC"/>
<rect x="749.0" y="242.45" width="50.3" height="4.55" fill="#FC6050"/>
<rect x="749.0" y="246.70" width="50.3" height="4.80" fill="#FCAC9C"/>
<rect x="749.0" y="251.20" width="50.3" height="4.05" fill="#F4C0C4"/>
<rect x="749.0" y="254.95" width="50.3" height="4.30" fill="#F8D0C8"/>
<rect x="749.0" y="258.95" width="50.3" height="4.05" fill="#F8BCB4"/>
<rect x="749.0" y="262.70" width="50.3" height="8.05" fill="#FCA898"/>
<rect x="749.0" y="270.45" width="50.3" height="7.30" fill="#FCB4A4"/>
<rect x="749.0" y="277.45" width="50.3" height="7.55" fill="#FC9C88"/>
<rect x="749.0" y="284.70" width="50.3" height="11.05" fill="#FCAC9C"/>
<rect x="749.0" y="295.45" width="50.3" height="6.05" fill="#F4C8CC"/>
<rect x="749.0" y="301.20" width="50.3" height="7.80" fill="#FC7460"/>
<rect x="749.0" y="308.70" width="50.3" height="1.55" fill="#FCA898"/>
<rect x="749.0" y="309.95" width="50.3" height="10.05" fill="#FCA08C"/>
<rect x="749.0" y="319.70" width="50.3" height="5.55" fill="#FC7C68"/>
<rect x="749.0" y="324.95" width="50.3" height="3.55" fill="#FCA898"/>
<rect x="749.0" y="328.20" width="50.3" height="6.05" fill="#F0BCC4"/>
<rect x="749.0" y="333.95" width="50.3" height="5.05" fill="#ECC4D4"/>
<rect x="749.0" y="338.70" width="50.3" height="2.30" fill="#F8B4AC"/>
<rect x="749.0" y="340.70" width="50.3" height="7.05" fill="#ECD0D8"/>
<rect x="749.0" y="347.45" width="50.3" height="4.05" fill="#E4D4E4"/>
<rect x="749.0" y="351.20" width="50.3" height="4.30" fill="#ECC0CC"/>
<rect x="749.0" y="355.20" width="50.3" height="2.05" fill="#C4B0F8"/>
<rect x="749.0" y="356.95" width="50.3" height="5.30" fill="#E0D4EC"/>
<rect x="749.0" y="361.95" width="50.3" height="3.05" fill="#ECD4DC"/>
<rect x="749.0" y="364.70" width="50.3" height="3.30" fill="#E4C4DC"/>
<rect x="749.0" y="367.70" width="50.3" height="5.55" fill="#E4D4E8"/>
<rect x="749.0" y="372.95" width="50.3" height="11.80" fill="#C4ACF4"/>
<rect x="749.0" y="384.45" width="50.3" height="1.80" fill="#D8A8D0"/>
<rect x="749.0" y="385.95" width="50.3" height="6.05" fill="#FC8470"/>
<rect x="749.0" y="391.70" width="50.3" height="5.05" fill="#ECD0DC"/>
<rect x="749.0" y="396.45" width="50.3" height="5.55" fill="#F8B8B0"/>
<rect x="749.0" y="401.70" width="50.3" height="12.30" fill="#ECC4D0"/>
<rect x="749.0" y="413.70" width="50.3" height="4.05" fill="#F0C8D0"/>
<rect x="749.0" y="417.45" width="50.3" height="4.30" fill="#D4C4F4"/>
<rect x="749.0" y="421.45" width="50.3" height="3.05" fill="#E4C8E0"/>
<rect x="749.0" y="424.20" width="50.3" height="2.30" fill="#D0BCF0"/>
<rect x="749.0" y="426.20" width="50.3" height="2.80" fill="#ECC8D8"/>
<rect x="749.0" y="428.70" width="50.3" height="4.55" fill="#FCC4B4"/>
<rect x="749.0" y="432.95" width="50.3" height="1.80" fill="#E4D4EC"/>
<rect x="749.0" y="434.45" width="50.3" height="4.55" fill="#F89C8C"/>
<rect x="749.0" y="438.70" width="50.3" height="8.30" fill="#E4D4EC"/>
<rect x="749.0" y="446.70" width="50.3" height="3.30" fill="#CCBCF4"/>
<rect x="749.0" y="449.70" width="50.3" height="3.55" fill="#FCB4A4"/>
<rect x="749.0" y="452.95" width="50.3" height="2.30" fill="#FCA490"/>
<rect x="749.0" y="454.95" width="50.3" height="5.30" fill="#F8D0C8"/>
<rect x="749.0" y="459.95" width="50.3" height="6.05" fill="#FCC0B0"/>
<rect x="749.0" y="465.70" width="50.3" height="5.05" fill="#F8C8C0"/>
<rect x="749.0" y="470.45" width="50.3" height="6.80" fill="#F4C4C4"/>
<rect x="749.0" y="476.95" width="50.3" height="5.55" fill="#FCB8A8"/>
<rect x="749.0" y="482.20" width="50.3" height="10.80" fill="#FCA898"/>
<rect x="749.0" y="492.70" width="50.3" height="13.55" fill="#F0D0D4"/>
<rect x="749.0" y="505.95" width="50.3" height="3.30" fill="#FCA090"/>
<rect x="749.0" y="508.95" width="50.3" height="6.05" fill="#FCC4B4"/>
<rect x="749.0" y="514.70" width="50.3" height="4.05" fill="#F4D0D0"/>
<rect x="749.0" y="518.45" width="50.3" height="11.80" fill="#FCC0B0"/>
<rect x="749.0" y="529.95" width="50.3" height="5.30" fill="#E4D4EC"/>
<rect x="749.0" y="534.95" width="50.3" height="3.05" fill="#F8C4BC"/>
<rect x="749.0" y="537.70" width="50.3" height="2.80" fill="#FCA090"/>
<rect x="749.0" y="540.20" width="50.3" height="5.55" fill="#F8B8B0"/>
<rect x="749.0" y="545.45" width="50.3" height="9.80" fill="#F8C0B8"/>
<rect x="749.0" y="554.95" width="50.3" height="4.30" fill="#ECC8D4"/>
<rect x="749.0" y="558.95" width="50.3" height="12.80" fill="#F4D4D0"/>
<rect x="749.0" y="571.45" width="50.3" height="3.55" fill="#ECD8E0"/>
<rect x="749.0" y="574.70" width="50.3" height="11.30" fill="#F4D4D0"/>
<rect x="749.0" y="585.70" width="50.3" height="9.05" fill="#FCC0B0"/>
<rect x="749.0" y="594.45" width="50.3" height="5.05" fill="#F8D0C8"/>
<rect x="749.0" y="599.20" width="50.3" height="3.05" fill="#E8D4E4"/>
<rect x="749.0" y="601.95" width="50.3" height="5.30" fill="#FCC0B0"/>
<rect x="749.0" y="606.95" width="50.3" height="2.05" fill="#E8D0E0"/>
<rect x="749.0" y="608.70" width="50.3" height="0.40" fill="#FFBFB0"/>
<rect x="799.0" y="14.70" width="53.8" height="8.05" fill="#D9C6F2"/>
<rect x="799.0" y="22.45" width="53.8" height="10.55" fill="#D6C1F2"/>
<rect x="799.0" y="32.70" width="53.8" height="3.55" fill="#DFD2F1"/>
<rect x="799.0" y="35.95" width="53.8" height="12.80" fill="#DBC9F2"/>
<rect x="799.0" y="48.45" width="53.8" height="4.55" fill="#D4B8E4"/>
<rect x="799.0" y="52.70" width="53.8" height="7.55" fill="#D9C6F2"/>
<rect x="799.0" y="59.95" width="53.8" height="8.05" fill="#DCCCF1"/>
<rect x="799.0" y="67.70" width="53.8" height="18.55" fill="#D9C6F2"/>
<rect x="799.0" y="85.95" width="53.8" height="6.05" fill="#CFB6F3"/>
<rect x="799.0" y="91.70" width="53.8" height="5.05" fill="#D9C6F2"/>
<rect x="799.0" y="96.45" width="53.8" height="3.80" fill="#DFD2F1"/>
<rect x="799.0" y="99.95" width="53.8" height="16.05" fill="#D7C4F2"/>
<rect x="799.0" y="115.70" width="53.8" height="5.05" fill="#DCCCF1"/>
<rect x="799.0" y="120.45" width="53.8" height="8.55" fill="#E2D6F0"/>
<rect x="799.0" y="128.70" width="53.8" height="5.30" fill="#C5A5F4"/>
<rect x="799.0" y="133.70" width="53.8" height="3.30" fill="#D6C1F2"/>
<rect x="799.0" y="136.70" width="53.8" height="23.55" fill="#DCCCF1"/>
<rect x="799.0" y="159.95" width="53.8" height="6.05" fill="#E1D4F1"/>
<rect x="799.0" y="165.70" width="53.8" height="3.30" fill="#DBC9F2"/>
<rect x="799.0" y="168.70" width="53.8" height="2.80" fill="#CFB6F3"/>
<rect x="799.0" y="171.20" width="53.8" height="5.30" fill="#DECFF1"/>
<rect x="799.0" y="176.20" width="53.8" height="6.30" fill="#D6C1F2"/>
<rect x="799.0" y="182.20" width="53.8" height="4.05" fill="#E1D4F1"/>
<rect x="799.0" y="185.95" width="53.8" height="8.05" fill="#D9C6F2"/>
<rect x="799.0" y="193.70" width="53.8" height="17.55" fill="#D7C4F2"/>
<rect x="799.0" y="210.95" width="53.8" height="5.05" fill="#DECFF1"/>
<rect x="799.0" y="215.70" width="53.8" height="8.55" fill="#DBC9F2"/>
<rect x="799.0" y="223.95" width="53.8" height="3.05" fill="#E09CB0"/>
<rect x="799.0" y="226.70" width="53.8" height="3.55" fill="#F0A8AC"/>
<rect x="799.0" y="229.95" width="53.8" height="2.80" fill="#ECD0DC"/>
<rect x="799.0" y="232.45" width="53.8" height="2.80" fill="#F4B8B8"/>
<rect x="799.0" y="234.95" width="53.8" height="3.80" fill="#F87C6C"/>
<rect x="799.0" y="238.45" width="53.8" height="2.05" fill="#F8C0BC"/>
<rect x="799.0" y="240.20" width="53.8" height="3.05" fill="#FC9888"/>
<rect x="799.0" y="242.95" width="53.8" height="3.30" fill="#F4C8C8"/>
<rect x="799.0" y="245.95" width="53.8" height="2.30" fill="#D8C8F4"/>
<rect x="799.0" y="247.95" width="53.8" height="3.55" fill="#E8D4E4"/>
<rect x="799.0" y="251.20" width="53.8" height="3.05" fill="#F0C0C8"/>
<rect x="799.0" y="253.95" width="53.8" height="5.30" fill="#F4C8C8"/>
<rect x="799.0" y="258.95" width="53.8" height="4.05" fill="#F0B0B4"/>
<rect x="799.0" y="262.70" width="53.8" height="4.05" fill="#F8C8C0"/>
<rect x="799.0" y="266.45" width="53.8" height="7.05" fill="#F8D8D0"/>
<rect x="799.0" y="273.20" width="53.8" height="7.05" fill="#FCC4B4"/>
<rect x="799.0" y="279.95" width="53.8" height="3.30" fill="#FCA090"/>
<rect x="799.0" y="282.95" width="53.8" height="9.80" fill="#FCC0B0"/>
<rect x="799.0" y="292.45" width="53.8" height="4.05" fill="#E8D0E0"/>
<rect x="799.0" y="296.20" width="53.8" height="3.30" fill="#F8C4BC"/>
<rect x="799.0" y="299.20" width="53.8" height="4.05" fill="#FCB4A4"/>
<rect x="799.0" y="302.95" width="53.8" height="7.30" fill="#DCD4F4"/>
<rect x="799.0" y="309.95" width="53.8" height="2.30" fill="#F4C8C8"/>
<rect x="799.0" y="311.95" width="53.8" height="3.80" fill="#E4D8EC"/>
<rect x="799.0" y="315.45" width="53.8" height="4.80" fill="#E0D0EC"/>
<rect x="799.0" y="319.95" width="53.8" height="4.80" fill="#F4D0D0"/>
<rect x="799.0" y="324.45" width="53.8" height="6.55" fill="#F4C0C0"/>
<rect x="799.0" y="330.70" width="53.8" height="2.55" fill="#F47868"/>
<rect x="799.0" y="332.95" width="53.8" height="11.05" fill="#FCB4A4"/>
<rect x="799.0" y="343.70" width="53.8" height="4.05" fill="#FCA898"/>
<rect x="799.0" y="347.45" width="53.8" height="11.80" fill="#F4CCC8"/>
<rect x="799.0" y="358.95" width="53.8" height="6.05" fill="#FCB0A0"/>
<rect x="799.0" y="364.70" width="53.8" height="3.30" fill="#FC7860"/>
<rect x="799.0" y="367.70" width="53.8" height="2.55" fill="#FC5840"/>
<rect x="799.0" y="369.95" width="53.8" height="7.55" fill="#FCA090"/>
<rect x="799.0" y="377.20" width="53.8" height="3.05" fill="#FCB4A4"/>
<rect x="799.0" y="379.95" width="53.8" height="5.30" fill="#FCA898"/>
<rect x="799.0" y="384.95" width="53.8" height="7.05" fill="#F8B4AC"/>
<rect x="799.0" y="391.70" width="53.8" height="5.05" fill="#F4C0C0"/>
<rect x="799.0" y="396.45" width="53.8" height="5.05" fill="#E8C8DC"/>
<rect x="799.0" y="401.20" width="53.8" height="3.05" fill="#F0C4CC"/>
<rect x="799.0" y="403.95" width="53.8" height="6.30" fill="#E0D0EC"/>
<rect x="799.0" y="409.95" width="53.8" height="6.80" fill="#ECC8D8"/>
<rect x="799.0" y="416.45" width="53.8" height="4.30" fill="#E4D8EC"/>
<rect x="799.0" y="420.45" width="53.8" height="5.05" fill="#F0C8D0"/>
<rect x="799.0" y="425.20" width="53.8" height="3.80" fill="#F8C4BC"/>
<rect x="799.0" y="428.70" width="53.8" height="3.55" fill="#FCA898"/>
<rect x="799.0" y="431.95" width="53.8" height="5.05" fill="#F4C8C8"/>
<rect x="799.0" y="436.70" width="53.8" height="5.05" fill="#E8D0E0"/>
<rect x="799.0" y="441.45" width="53.8" height="3.30" fill="#FC9884"/>
<rect x="799.0" y="444.45" width="53.8" height="5.05" fill="#FC8C78"/>
<rect x="799.0" y="449.20" width="53.8" height="6.05" fill="#F4C4C8"/>
<rect x="799.0" y="454.95" width="53.8" height="5.30" fill="#E4C8E0"/>
<rect x="799.0" y="459.95" width="53.8" height="1.80" fill="#F4C8C8"/>
<rect x="799.0" y="461.45" width="53.8" height="4.55" fill="#DCD0EC"/>
<rect x="799.0" y="465.70" width="53.8" height="5.05" fill="#E4D0E8"/>
<rect x="799.0" y="470.45" width="53.8" height="3.55" fill="#F4BCBC"/>
<rect x="799.0" y="473.70" width="53.8" height="7.80" fill="#F4CCC8"/>
<rect x="799.0" y="481.20" width="53.8" height="4.05" fill="#F0D0D4"/>
<rect x="799.0" y="484.95" width="53.8" height="5.05" fill="#ECD8DC"/>
<rect x="799.0" y="489.70" width="53.8" height="5.05" fill="#E8CCDC"/>
<rect x="799.0" y="494.45" width="53.8" height="6.05" fill="#FCA090"/>
<rect x="799.0" y="500.20" width="53.8" height="3.30" fill="#FC7C64"/>
<rect x="799.0" y="503.20" width="53.8" height="3.05" fill="#FC9480"/>
<rect x="799.0" y="505.95" width="53.8" height="8.05" fill="#FCA898"/>
<rect x="799.0" y="513.70" width="53.8" height="5.05" fill="#FC9480"/>
<rect x="799.0" y="518.45" width="53.8" height="7.05" fill="#FCB0A0"/>
<rect x="799.0" y="525.20" width="53.8" height="7.05" fill="#FCA898"/>
<rect x="799.0" y="531.95" width="53.8" height="6.05" fill="#F4BCBC"/>
<rect x="799.0" y="537.70" width="53.8" height="5.05" fill="#F8C0B8"/>
<rect x="799.0" y="542.45" width="53.8" height="9.05" fill="#ECD0DC"/>
<rect x="799.0" y="551.20" width="53.8" height="3.05" fill="#DCD4F0"/>
<rect x="799.0" y="553.95" width="53.8" height="5.30" fill="#F0D0D4"/>
<rect x="799.0" y="558.95" width="53.8" height="6.05" fill="#E8D8E4"/>
<rect x="799.0" y="564.70" width="53.8" height="2.80" fill="#F4D0D0"/>
<rect x="799.0" y="567.20" width="53.8" height="13.05" fill="#F8C8C0"/>
<rect x="799.0" y="579.95" width="53.8" height="6.05" fill="#FC9C88"/>
<rect x="799.0" y="585.70" width="53.8" height="9.05" fill="#FCBCAC"/>
<rect x="799.0" y="594.45" width="53.8" height="7.05" fill="#F4D0D0"/>
<rect x="799.0" y="601.20" width="53.8" height="3.05" fill="#E4C4DC"/>
<rect x="799.0" y="603.95" width="53.8" height="5.05" fill="#F4CCCC"/>
<rect x="799.0" y="608.70" width="53.8" height="0.40" fill="#FFBFB0"/>
</g>
<g id="dend"><polygon points="91.6,14.2 89.6,14.2 89.6,16.5 89.6,16.5 89.6,18.9 84.5,18.9 84.5,20.2 80.7,20.2 80.7,23.1 79.7,23.1 79.7,24.8 81.8,24.8 81.8,26.9 79.6,26.9 79.6,29.1 77.1,29.1 77.1,30.6 76.1,30.6 76.1,33.5 73.6,33.5 73.6,36.2 72.5,36.2 72.5,37.5 71.7,37.5 71.7,39.9 66.8,39.9 66.8,41.2 67.8,41.2 67.8,43.3 64.7,43.3 64.7,46.3 61.7,46.3 61.7,49.3 58.1,49.3 58.1,52.1 57.6,52.1 57.6,55.2 82.4,55.2 82.4,56.6 77.7,56.6 77.7,58.2 78.9,58.2 78.9,60.3 74.3,60.3 74.3,62.1 75.1,62.1 75.1,64.0 76.3,64.0 76.3,66.4 79.8,66.4 79.8,69.4 80.5,69.4 80.5,72.5 80.7,72.5 80.7,75.7 79.2,75.7 79.2,77.2 79.8,77.2 79.8,80.3 79.0,80.3 79.0,82.7 77.2,82.7 77.2,84.3 77.1,84.3 77.1,86.6 73.7,86.6 73.7,88.0 75.7,88.0 75.7,91.1 71.9,91.1 71.9,93.9 73.9,93.9 73.9,95.4 73.7,95.4 73.7,98.2 76.8,98.2 76.8,99.5 75.9,99.5 75.9,100.8 76.7,100.8 76.7,102.6 77.0,102.6 77.0,105.8 74.7,105.8 74.7,109.0 73.2,109.0 73.2,110.3 74.2,110.3 74.2,111.6 72.2,111.6 72.2,113.6 73.6,113.6 73.6,115.1 70.8,115.1 70.8,118.1 71.4,118.1 71.4,121.2 73.4,121.2 73.4,123.1 71.0,123.1 71.0,125.4 70.5,125.4 70.5,127.8 68.7,127.8 68.7,130.2 69.0,130.2 69.0,132.4 65.3,132.4 65.3,135.1 63.5,135.1 63.5,136.9 67.3,136.9 67.3,139.1 65.9,139.1 65.9,140.3 65.6,140.3 65.6,142.7 64.4,142.7 64.4,145.1 63.8,145.1 63.8,146.4 61.1,146.4 61.1,148.6 58.9,148.6 58.9,150.5 60.0,150.5 60.0,153.1 58.3,153.1 58.3,154.5 61.9,154.5 61.9,157.6 64.6,157.6 64.6,159.7 69.3,159.7 69.3,161.5 70.1,161.5 70.1,163.4 66.8,163.4 66.8,165.8 62.2,165.8 62.2,167.7 62.3,167.7 62.3,169.0 61.2,169.0 61.2,171.6 59.8,171.6 59.8,173.3 61.9,173.3 61.9,175.0 59.0,175.0 59.0,177.0 61.1,177.0 61.1,178.4 59.3,178.4 59.3,180.3 62.2,180.3 62.2,182.4 63.5,182.4 63.5,183.9 62.1,183.9 62.1,186.4 66.1,186.4 66.1,188.5 64.4,188.5 64.4,190.0 66.6,190.0 66.6,191.6 67.2,191.6 67.2,194.4 62.1,194.4 62.1,196.2 63.5,196.2 63.5,198.7 61.5,198.7 61.5,200.6 56.9,200.6 56.9,202.3 58.5,202.3 58.5,204.1 55.2,204.1 55.2,206.1 54.0,206.1 54.0,208.1 54.7,208.1 54.7,209.6 49.5,209.6 49.5,212.7 62.7,212.7 62.7,215.9 64.0,215.9 64.0,219.0 62.0,219.0 62.0,220.7 57.9,220.7 57.9,223.5 50.2,223.5 50.2,225.8 41.1,225.8 41.1,227.6 38.9,227.6 38.9,229.0 40.9,229.0 40.9,230.8 42.4,230.8 42.4,232.0 43.2,232.0 43.2,234.6 44.0,234.6 44.0,237.6 45.1,237.6 45.1,240.0 42.2,240.0 42.2,242.7 44.1,242.7 44.1,244.5 48.9,244.5 48.9,246.7 50.9,246.7 50.9,249.8 55.8,249.8 55.8,251.7 56.4,251.7 56.4,254.6 60.2,254.6 60.2,257.4 60.7,257.4 60.7,259.0 62.1,259.0 62.1,261.8 61.5,261.8 61.5,264.6 66.6,264.6 66.6,267.4 68.1,267.4 68.1,268.6 68.1,268.6 68.1,271.5 67.5,271.5 67.5,273.3 69.7,273.3 69.7,275.5 70.2,275.5 70.2,277.7 70.9,277.7 70.9,278.9 67.2,278.9 67.2,280.3 66.9,280.3 66.9,281.7 70.2,281.7 70.2,284.6 65.1,284.6 65.1,286.8 65.5,286.8 65.5,288.6 65.2,288.6 65.2,291.1 65.6,291.1 65.6,293.0 63.3,293.0 63.3,294.9 62.7,294.9 62.7,297.2 65.1,297.2 65.1,299.2 62.0,299.2 62.0,300.7 63.1,300.7 63.1,303.1 64.6,303.1 64.6,305.1 65.0,305.1 65.0,307.5 63.6,307.5 63.6,309.5 64.2,309.5 64.2,312.1 64.1,312.1 64.1,314.7 63.6,314.7 63.6,316.4 63.5,316.4 63.5,319.0 60.8,319.0 60.8,321.0 61.8,321.0 61.8,324.0 61.2,324.0 61.2,325.9 59.1,325.9 59.1,328.7 55.1,328.7 55.1,330.8 55.9,330.8 55.9,333.6 60.2,333.6 60.2,336.6 62.0,336.6 62.0,339.2 62.5,339.2 62.5,341.5 60.3,341.5 60.3,343.9 60.6,343.9 60.6,345.3 64.5,345.3 64.5,346.6 61.7,346.6 61.7,348.0 65.6,348.0 65.6,349.6 62.0,349.6 62.0,352.5 63.0,352.5 63.0,355.4 66.1,355.4 66.1,358.2 67.1,358.2 67.1,360.6 65.4,360.6 65.4,361.9 64.8,361.9 64.8,364.1 63.6,364.1 63.6,365.5 63.2,365.5 63.2,368.6 59.2,368.6 59.2,370.4 61.7,370.4 61.7,373.3 60.5,373.3 60.5,374.8 60.7,374.8 60.7,377.3 63.2,377.3 63.2,379.3 61.6,379.3 61.6,381.2 60.9,381.2 60.9,383.3 59.0,383.3 59.0,385.5 62.3,385.5 62.3,387.5 61.3,387.5 61.3,389.0 61.3,389.0 61.3,391.7 61.5,391.7 61.5,394.0 60.9,394.0 60.9,396.5 62.9,396.5 62.9,398.0 59.3,398.0 59.3,400.7 63.1,400.7 63.1,402.9 61.4,402.9 61.4,405.5 60.8,405.5 60.8,407.3 61.2,407.3 61.2,409.6 62.2,409.6 62.2,411.3 64.2,411.3 64.2,414.4 63.1,414.4 63.1,417.0 64.1,417.0 64.1,419.9 65.5,419.9 65.5,421.7 64.2,421.7 64.2,422.9 65.4,422.9 65.4,424.9 63.6,424.9 63.6,426.8 63.9,426.8 63.9,429.5 62.6,429.5 62.6,432.7 63.4,432.7 63.4,435.1 63.4,435.1 63.4,438.0 65.4,438.0 65.4,440.3 64.2,440.3 64.2,442.9 66.3,442.9 66.3,444.9 66.0,444.9 66.0,448.1 65.3,448.1 65.3,449.7 64.5,449.7 64.5,452.4 66.9,452.4 66.9,455.5 68.2,455.5 68.2,457.2 65.3,457.2 65.3,458.9 65.2,458.9 65.2,461.5 68.1,461.5 68.1,464.5 65.3,464.5 65.3,467.4 65.5,467.4 65.5,469.5 68.3,469.5 68.3,470.8 66.0,470.8 66.0,473.7 68.2,473.7 68.2,475.6 70.3,475.6 70.3,478.2 68.9,478.2 68.9,480.0 70.7,480.0 70.7,482.2 69.5,482.2 69.5,484.6 72.6,484.6 72.6,486.6 70.6,486.6 70.6,488.0 69.2,488.0 69.2,490.5 68.3,490.5 68.3,493.5 71.7,493.5 71.7,494.9 71.7,494.9 71.7,496.9 70.9,496.9 70.9,499.6 68.6,499.6 68.6,502.1 70.3,502.1 70.3,504.9 69.0,504.9 69.0,507.6 72.6,507.6 72.6,510.2 71.1,510.2 71.1,511.6 71.1,511.6 71.1,513.5 72.3,513.5 72.3,516.1 71.9,516.1 71.9,517.6 72.4,517.6 72.4,520.1 70.6,520.1 70.6,523.1 73.0,523.1 73.0,524.5 74.2,524.5 74.2,526.0 71.4,526.0 71.4,528.6 72.4,528.6 72.4,531.0 72.5,531.0 72.5,533.1 70.9,533.1 70.9,534.6 69.7,534.6 69.7,537.3 73.3,537.3 73.3,539.5 73.6,539.5 73.6,541.5 71.7,541.5 71.7,543.4 74.8,543.4 74.8,544.7 73.3,544.7 73.3,546.4 74.7,546.4 74.7,548.3 72.8,548.3 72.8,550.3 73.8,550.3 73.8,553.1 73.1,553.1 73.1,556.0 72.1,556.0 72.1,557.7 72.2,557.7 72.2,559.1 75.5,559.1 75.5,561.8 73.3,561.8 73.3,563.4 74.6,563.4 74.6,566.0 76.8,566.0 76.8,568.7 76.2,568.7 76.2,570.2 75.7,570.2 75.7,571.8 76.6,571.8 76.6,574.2 75.6,574.2 75.6,575.9 78.5,575.9 78.5,577.1 78.9,577.1 78.9,580.1 79.9,580.1 79.9,582.1 78.2,582.1 78.2,584.4 78.5,584.4 78.5,587.6 78.8,587.6 78.8,589.4 79.5,589.4 79.5,591.6 77.9,591.6 77.9,594.2 74.1,594.2 74.1,596.9 76.0,596.9 76.0,599.1 74.5,599.1 74.5,601.3 72.2,601.3 72.2,603.5 70.2,603.5 70.2,605.7 71.6,605.7 71.6,607.8 70.4,607.8 70.4,609.2 91.6,609.2" fill="#000"/><path d="M14.6 99.7L14.6 215.0M14.6 99.7L30.2 99.7M30.2 29.1L30.2 169.1M30.2 29.1L33.6 29.1M33.6 14.6L33.6 52.6M33.6 14.6L90.5 14.6M33.6 52.6L58.2 52.6M44.8 26.9L44.8 48.2M44.8 26.9L48.8 26.9M48.8 16.8L48.8 35.8M48.8 16.8L75.0 16.8M48.8 35.8L57.1 35.8M57.1 33.6L57.1 42.6M57.1 33.6L64.9 33.6M64.9 26.9L64.9 37.0M64.9 26.9L69.4 26.9M69.4 21.3L69.4 30.2M69.4 21.3L77.3 21.3M44.8 48.2L53.8 48.2M53.8 41.4L64.9 41.4M38.1 92.9L38.1 166.9M38.1 92.9L44.8 92.9M30.2 166.9L54.9 166.9M44.8 52.6L44.8 154.5M44.8 154.5L54.9 154.5M51.5 90.7L51.5 134.4M51.5 90.7L56.0 90.7M51.5 134.4L58.2 134.4M56.0 60.5L56.0 90.7M56.0 60.5L73.9 60.5M60.5 85.1L60.5 125.4M60.5 85.1L67.2 85.1M60.5 125.4L64.9 125.4M64.9 82.9L64.9 118.7M64.9 82.9L71.7 82.9M64.9 118.7L69.4 118.7M54.9 154.5L54.9 170.2M54.9 161.3L64.9 161.3M54.9 170.2L60.5 170.2M48.2 178.1L48.2 201.6M48.2 178.1L54.9 178.1M48.2 201.6L52.6 201.6M41.4 194.8L41.4 209.4M41.4 194.8L48.2 194.8M41.4 209.4L44.8 209.4M33.6 200.4L33.6 215.0M33.6 200.4L41.4 200.4M30.2 169.1L38.1 169.1M35.8 169.1L35.8 215.0M71.7 67.2L71.7 78.4M71.7 67.2L76.1 67.2M71.7 78.4L75.0 78.4M67.2 98.5L67.2 112.0M67.2 98.5L73.9 98.5M67.2 112.0L71.7 112.0M62.7 138.9L62.7 147.8M62.7 138.9L69.4 138.9M62.7 147.8L67.2 147.8M59.4 185.9L59.4 194.8M59.4 185.9L64.9 185.9M14.6 200.0L14.6 245.9M14.6 245.9L24.6 245.9M24.6 229.1L24.6 261.6M24.6 229.1L90.5 229.1M31.4 231.4L90.5 231.4M33.6 233.6L90.5 233.6M35.8 227.3L90.5 227.3M24.6 261.6L28.0 261.6M28.0 235.8L28.0 287.3M28.0 235.8L35.8 235.8M28.0 287.3L33.6 287.3M33.6 244.8L33.6 327.7M33.6 244.8L37.0 244.8M33.6 327.7L41.4 327.7M35.8 200.0L35.8 211.2M33.6 200.0L33.6 222.4M35.8 211.2L44.8 211.2M33.6 222.4L42.6 222.4M42.6 219.0L42.6 224.6M44.8 209.0L44.8 213.4M40.3 253.8L40.3 291.8M40.3 253.8L52.6 253.8M40.3 291.8L48.2 291.8M48.2 267.2L48.2 316.5M48.2 267.2L53.8 267.2M48.2 316.5L53.8 316.5M52.6 256.0L52.6 267.2M52.6 256.0L58.2 256.0M52.6 305.3L52.6 323.2M52.6 305.3L58.2 305.3M52.6 323.2L56.0 323.2M41.4 327.7L41.4 354.5M41.4 354.5L48.2 354.5M35.8 341.1L35.8 381.4M35.8 341.1L41.4 341.1M35.8 381.4L42.6 381.4M48.2 332.1L48.2 372.5M48.2 332.1L52.6 332.1M48.2 372.5L52.6 372.5M51.5 338.9L51.5 356.8M51.5 338.9L56.0 338.9M51.5 365.7L51.5 379.2M51.5 365.7L56.0 365.7M35.8 381.4L35.8 415.0M42.6 394.8L42.6 415.0M42.6 394.8L51.5 394.8M50.4 385.9L50.4 401.6M50.4 385.9L56.0 385.9M50.4 401.6L53.8 401.6M53.8 276.1L53.8 289.6M53.8 276.1L64.9 276.1M53.8 289.6L60.5 289.6M56.0 294.1L56.0 303.0M56.0 294.1L60.5 294.1M35.8 400.0L35.8 420.2M35.8 420.2L41.4 420.2M42.6 400.0L42.6 475.0M42.6 475.0L48.2 475.0M48.2 413.4L48.2 426.9M48.2 413.4L53.8 413.4M48.2 426.9L52.6 426.9M49.3 433.6L49.3 509.7M49.3 433.6L54.9 433.6M49.3 509.7L51.5 509.7M51.5 473.9L51.5 543.3M51.5 543.3L54.9 543.3M54.9 462.7L54.9 579.2M54.9 462.7L59.4 462.7M54.9 579.2L59.4 579.2M59.4 534.4L59.4 606.0M59.4 534.4L64.9 534.4M59.4 606.0L67.2 606.0M57.1 498.5L57.1 525.4M57.1 498.5L62.7 498.5M57.1 525.4L61.6 525.4M63.8 538.9L63.8 601.6M63.8 538.9L67.2 538.9M53.8 440.3L53.8 458.2M53.8 440.3L59.4 440.3M53.8 458.2L58.2 458.2M59.4 485.1L59.4 496.3M59.4 485.1L64.9 485.1M61.6 552.3L61.6 565.7M67.2 570.2L67.2 592.6M67.2 570.2L71.7 570.2M62.7 609.4L90.5 609.4" fill="none" stroke="#000" stroke-width="1.6" stroke-linecap="square"/><path d="M87.2 18.2H79.6V25.9H87.2M85.0 21.1H79.1V27.7H85.0M83.1 23.8H70.4V32.3H83.1M81.5 25.9H61.1V32.9H81.5M80.5 27.3H57.5V35.8H80.5M78.3 30.5H54.9V39.5H78.3M77.1 32.3H69.5V37.6H77.1M74.9 35.6H63.3V43.2H74.9M72.8 37.9H53.8V41.5H72.8M69.7 40.5H54.2V48.6H69.7M67.5 42.3H56.0V47.8H67.5M64.2 45.6H52.0V51.1H64.2M62.9 46.9H52.8V51.8H62.9M61.2 49.6H46.5V58.4H61.2M85.0 53.1H73.3V56.5H85.0M83.2 55.6H75.5V58.2H83.2M79.3 58.4H66.1V61.1H79.3M77.0 59.9H68.5V63.6H77.0M79.2 63.5H66.9V68.6H79.2M82.3 66.6H76.1V69.4H82.3M82.5 69.2H74.6V74.2H82.5M82.2 70.9H71.1V75.7H82.2M81.8 72.5H74.4V76.9H81.8M81.1 76.4H67.1V85.2H81.1M80.4 79.0H66.6V86.8H80.4M79.2 82.0H69.4V84.8H79.2M78.3 84.4H71.3V86.9H78.3M77.8 85.7H71.9V91.4H77.8M76.7 88.2H67.6V96.6H76.7M76.3 90.0H54.5V97.7H76.3M77.0 93.7H61.8V98.2H77.0M77.6 96.6H67.2V101.1H77.6M78.3 100.2H71.5V106.3H78.3M78.0 102.9H51.7V106.6H78.0M77.3 106.2H59.2V114.8H77.3M76.9 108.4H68.6V113.6H76.9M76.5 110.2H52.5V115.0H76.5M75.8 113.7H59.1V120.2H75.8M75.2 116.9H60.5V119.7H75.2M74.9 118.6H57.6V124.2H74.9M74.2 121.9H53.7V126.5H74.2M73.0 124.8H49.5V133.0H73.0M70.8 128.5H58.4V136.6H70.8M69.0 131.5H60.4V135.2H69.0M67.4 134.9H60.9V139.4H67.4M68.0 137.3H44.5V141.4H68.0M68.3 138.7H58.3V142.1H68.3M69.3 142.6H63.0V151.4H69.3M67.2 144.5H51.8V150.2H67.2M60.7 148.2H48.9V154.2H60.7M61.6 149.9H52.5V152.7H61.6M63.3 153.4H51.0V162.2H63.3M64.8 155.1H55.8V160.7H64.8M67.5 157.0H43.7V160.2H67.5M71.3 159.5H49.0V164.3H71.3M71.9 162.4H58.0V166.8H71.9M64.9 166.3H50.9V170.1H64.9M63.7 169.0H52.2V175.6H63.7M63.5 171.1H54.8V174.1H63.5M63.2 173.9H45.2V181.5H63.2M63.1 175.3H49.6V180.0H63.1M62.8 179.2H53.3V184.6H62.8M63.9 181.1H54.7V189.7H63.9M65.9 184.4H40.1V191.7H65.9M67.4 186.9H47.9V192.1H67.4M69.2 190.7H50.9V196.4H69.2M66.5 194.1H54.1V200.4H66.5M65.4 195.4H59.3V198.5H65.4M62.9 198.6H52.3V201.5H62.9M60.9 201.1H51.4V205.4H60.9M59.0 203.6H48.6V207.3H59.0M56.5 206.9H49.0V211.4H56.5M54.7 209.3H48.5V215.0H54.7M63.8 212.8H51.3V221.6H63.8M66.5 216.4H54.1V221.7H66.5M60.3 220.2H47.7V226.3H60.3M55.8 222.5H36.0V225.1H55.8M48.4 224.7H36.5V229.1H48.4M42.6 226.6H20.4V229.2H42.6M43.4 229.5H34.6V233.1H43.4M43.8 230.9H33.6V238.5H43.8M44.4 233.1H23.8V239.2H44.4M45.2 235.6H38.0V241.0H45.2M46.2 237.8H39.1V245.6H46.2M47.2 240.3H37.6V248.0H47.2M48.3 242.6H38.3V245.3H48.3M50.1 243.9H33.8V251.4H50.1M54.0 246.7H44.6V254.7H54.0M57.1 249.1H31.8V255.1H57.1M59.5 251.0H52.2V256.7H59.5M61.1 252.4H35.1V258.0H61.1M63.4 255.5H38.3V261.9H63.4M64.3 257.8H48.1V262.2H64.3M64.8 259.2H54.6V265.3H64.8M65.7 261.6H55.3V265.9H65.7M66.7 263.5H54.2V267.0H66.7M68.1 265.6H55.8V271.2H68.1M69.4 267.4H54.8V273.9H69.4M70.3 268.7H54.3V272.0H70.3M71.4 270.3H47.3V278.7H71.4M72.4 271.8H56.9V274.5H72.4M73.8 274.3H47.2V281.0H73.8M73.1 276.1H63.8V281.1H73.1M71.7 279.6H62.9V283.5H71.7M71.2 280.9H61.3V285.9H71.2M70.4 282.9H61.9V288.1H70.4M69.1 286.6H57.9V290.4H69.1M68.7 288.0H55.9V294.6H68.7M68.4 289.6H43.2V292.1H68.4M67.9 291.6H52.4V295.8H67.9M67.2 294.1H57.5V300.2H67.2M67.0 295.8H52.2V299.2H67.0M66.5 299.5H57.3V305.1H66.5M66.3 301.8H60.2V304.7H66.3M66.4 305.2H58.2V311.9H66.4M66.6 306.7H59.2V315.5H66.6M66.9 309.4H53.0V314.7H66.9M67.1 311.1H60.8V314.5H67.1M67.0 312.7H58.7V321.3H67.0M66.3 315.6H59.1V320.6H66.3M65.9 317.2H54.7V322.0H65.9M64.8 321.1H54.3V329.1H64.8M62.3 323.6H44.5V331.0H62.3M58.9 327.0H44.2V333.0H58.9M59.2 329.1H50.4V337.0H59.2M60.4 330.8H46.4V338.2H60.4M62.6 334.1H50.1V342.1H62.6M63.2 335.8H51.2V339.1H63.2M64.0 338.7H57.4V346.9H64.0M64.5 340.2H58.4V343.5H64.5M65.2 342.5H48.6V348.4H65.2M66.2 345.9H59.4V352.2H66.2M66.6 348.0H50.6V352.6H66.6M67.1 350.6H56.0V357.0H67.1M67.8 353.8H40.9V362.4H67.8M68.1 357.4H47.7V366.2H68.1M67.3 359.4H59.7V365.2H67.3M66.0 362.7H54.5V366.8H66.0M65.0 365.1H54.6V370.7H65.0M63.9 367.8H45.2V374.3H63.9M64.1 370.4H51.7V375.7H64.1M64.4 373.2H47.2V376.1H64.4M64.8 376.8H53.7V379.8H64.8M64.9 379.4H58.0V387.7H64.9M64.1 381.8H43.2V388.0H64.1M63.7 383.0H53.1V388.1H63.7M63.0 385.3H42.2V388.5H63.0M63.0 387.9H53.5V392.8H63.0M63.4 390.8H53.5V394.7H63.4M63.7 393.2H56.4V399.2H63.7M63.9 397.0H48.9V401.9H63.9M63.9 400.2H37.8V405.6H63.9M64.5 403.3H57.7V411.9H64.5M64.9 405.2H55.0V409.5H64.9M65.2 406.9H46.5V415.1H65.2M65.7 409.3H45.2V411.8H65.7M66.4 412.8H57.8V416.2H66.4M66.8 414.6H48.2V421.2H66.8M67.4 417.6H56.0V424.3H67.4M68.1 420.9H62.1V429.1H68.1M68.0 424.2H59.1V426.8H68.0M67.5 426.8H54.3V429.9H67.5M66.9 429.8H48.4V436.1H66.9M66.1 433.5H57.0V442.2H66.1M66.3 434.8H54.0V443.4H66.3M66.7 437.5H49.2V441.2H66.7M67.1 441.0H41.6V447.0H67.1M67.4 443.0H54.1V448.9H67.4M67.7 444.8H57.7V451.1H67.7M68.1 447.6H57.0V452.4H68.1M68.7 450.9H51.0V458.2H68.7M68.9 452.7H61.7V460.8H68.9M69.4 455.7H55.1V459.6H69.4M69.3 459.2H58.7V467.6H69.3M69.3 461.5H61.1V468.9H69.3M69.2 463.6H60.8V471.6H69.2M69.0 467.1H62.8V472.0H69.0M69.8 469.0H60.2V473.2H69.8M71.2 472.1H59.7V476.0H71.2M72.1 474.2H63.2V478.3H72.1M73.5 477.3H63.8V482.2H73.5M73.9 479.2H52.6V484.2H73.9M73.6 481.9H60.3V486.3H73.6M73.4 484.1H66.0V492.2H73.4M73.1 486.7H59.9V492.6H73.1M72.9 489.1H61.8V496.9H72.9M72.6 493.0H62.4V499.6H72.6M72.4 496.4H65.2V501.1H72.4M72.2 499.6H58.0V504.4H72.2M72.2 501.2H61.7V507.2H72.2M72.8 504.8H60.9V507.6H72.8M73.2 507.0H56.5V510.1H73.2M73.7 510.3H57.7V516.6H73.7M74.1 513.4H63.3V522.4H74.1M74.4 517.0H54.0V525.5H74.4M74.7 519.4H57.8V524.1H74.7M74.9 521.9H61.7V526.3H74.9M75.0 523.6H54.2V526.8H75.0M74.9 526.4H62.6V532.0H74.9M74.7 529.1H63.7V534.3H74.7M74.5 531.9H67.3V538.4H74.5M74.5 535.1H65.8V538.7H74.5M74.7 536.6H61.9V541.6H74.7M75.2 539.3H65.0V542.3H75.2M75.5 541.3H66.0V545.5H75.5M75.8 543.1H69.0V548.4H75.8M76.1 545.0H59.6V551.2H76.1M76.3 547.7H67.1V551.8H76.3M76.3 549.6H64.8V557.9H76.3M76.4 551.1H60.4V554.1H76.4M76.6 555.0H64.1V559.6H76.6M76.9 558.3H69.6V564.0H76.9M77.5 562.3H69.2V570.5H77.5M78.1 565.6H62.3V571.8H78.1M78.7 569.6H67.5V575.6H78.7M79.3 572.4H68.5V575.1H79.3M79.8 574.8H73.6V582.2H79.8M80.3 577.4H70.6V584.6H80.3M80.7 579.7H73.6V585.8H80.7M80.7 583.6H71.3V587.1H80.7M80.7 587.5H65.1V592.8H80.7M80.7 589.5H73.8V596.4H80.7M79.9 592.4H71.9V595.5H79.9M79.3 593.8H63.2V596.4H79.3M78.7 595.3H56.5V602.4H78.7M77.6 598.0H57.5V602.2H77.6M76.3 601.2H70.4V608.1H76.3M75.0 603.5H69.1V608.2H75.0M73.7 605.7H64.7V608.2H73.7" fill="none" stroke="#000" stroke-width="1.35"/></g>
<g class="rn" opacity="0.999">
<text x="859.8" y="22.2">LOC126526018</text>
<text x="859.8" y="22.7">LOC126159083</text>
<text x="859.8" y="23.3">LOC126016613</text>
<text x="859.8" y="23.8">LOC126186091</text>
<text x="859.8" y="24.4">LOC126390996</text>
<text x="859.8" y="24.9">LOC126030824</text>
<text x="859.8" y="25.4">LOC126628194</text>
<text x="859.8" y="26.0">LOC126821993</text>
<text x="859.8" y="26.5">LOC126518190</text>
<text x="859.8" y="27.1">LOC126937865</text>
<text x="859.8" y="27.6">LOC126797543</text>
<text x="859.8" y="28.2">LOC126231948</text>
<text x="859.8" y="28.7">LOC126757491</text>
<text x="859.8" y="29.2">LOC126186252</text>
<text x="859.8" y="29.8">LOC126760189</text>
<text x="859.8" y="30.3">LOC126555979</text>
<text x="859.8" y="30.9">LOC126711471</text>
<text x="859.8" y="31.4">LOC126049746</text>
<text x="859.8" y="31.9">LOC126507529</text>
<text x="859.8" y="32.5">LOC126170342</text>
<text x="859.8" y="33.0">LOC126366712</text>
<text x="859.8" y="33.6">LOC126768426</text>
<text x="859.8" y="34.1">LOC126846563</text>
<text x="859.8" y="34.6">LOC126212233</text>
<text x="859.8" y="35.2">LOC126079244</text>
<text x="859.8" y="35.7">LOC126026859</text>
<text x="859.8" y="36.3">LOC126952890</text>
<text x="859.8" y="36.8">LOC126786666</text>
<text x="859.8" y="37.4">LOC126176031</text>
<text x="859.8" y="37.9">LOC126372159</text>
<text x="859.8" y="38.4">LOC126010928</text>
<text x="859.8" y="39.0">LOC126159013</text>
<text x="859.8" y="39.5">LOC126962459</text>
<text x="859.8" y="40.1">LOC126571177</text>
<text x="859.8" y="40.6">LOC126774121</text>
<text x="859.8" y="41.1">LOC126547280</text>
<text x="859.8" y="41.7">LOC126385280</text>
<text x="859.8" y="42.2">LOC126841485</text>
<text x="859.8" y="42.8">LOC126253888</text>
<text x="859.8" y="43.3">LOC126539336</text>
<text x="859.8" y="43.8">LOC126338750</text>
<text x="859.8" y="44.4">LOC126047439</text>
<text x="859.8" y="44.9">LOC126575513</text>
<text x="859.8" y="45.5">LOC126137353</text>
<text x="859.8" y="46.0">LOC126799075</text>
<text x="859.8" y="46.6">LOC126116372</text>
<text x="859.8" y="47.1">LOC126651676</text>
<text x="859.8" y="47.6">LOC126122202</text>
<text x="859.8" y="48.2">LOC126972997</text>
<text x="859.8" y="48.7">LOC126528820</text>
<text x="859.8" y="49.3">LOC126018263</text>
<text x="859.8" y="49.8">LOC126304348</text>
<text x="859.8" y="50.3">LOC126395486</text>
<text x="859.8" y="50.9">LOC126205798</text>
<text x="859.8" y="51.4">LOC126682828</text>
<text x="859.8" y="52.0">LOC126807290</text>
<text x="859.8" y="52.5">LOC126222791</text>
<text x="859.8" y="53.0">LOC126805888</text>
<text x="859.8" y="53.6">LOC126718033</text>
<text x="859.8" y="54.1">LOC126401878</text>
<text x="859.8" y="54.7">LOC126017598</text>
<text x="859.8" y="55.2">LOC126983478</text>
<text x="859.8" y="55.8">LOC126878384</text>
<text x="859.8" y="56.3">LOC126837261</text>
<text x="859.8" y="56.8">LOC126675136</text>
<text x="859.8" y="57.4">LOC126134125</text>
<text x="859.8" y="57.9">LOC126242731</text>
<text x="859.8" y="58.5">LOC126672326</text>
<text x="859.8" y="59.0">LOC126865635</text>
<text x="859.8" y="59.5">LOC126515058</text>
<text x="859.8" y="60.1">LOC126770658</text>
<text x="859.8" y="60.6">LOC126948113</text>
<text x="859.8" y="61.2">LOC126114402</text>
<text x="859.8" y="61.7">LOC126426462</text>
<text x="859.8" y="62.3">LOC126889751</text>
<text x="859.8" y="62.8">LOC126402614</text>
<text x="859.8" y="63.3">LOC126014193</text>
<text x="859.8" y="63.9">LOC126141705</text>
<text x="859.8" y="64.4">LOC126864920</text>
<text x="859.8" y="65.0">LOC126831240</text>
<text x="859.8" y="65.5">LOC126234483</text>
<text x="859.8" y="66.0">LOC126478245</text>
<text x="859.8" y="66.6">LOC126040008</text>
<text x="859.8" y="67.1">LOC126838737</text>
<text x="859.8" y="67.7">LOC126167868</text>
<text x="859.8" y="68.2">LOC126433532</text>
<text x="859.8" y="68.7">LOC126650201</text>
<text x="859.8" y="69.3">LOC126462016</text>
<text x="859.8" y="69.8">LOC126849340</text>
<text x="859.8" y="70.4">LOC126722470</text>
<text x="859.8" y="70.9">LOC126455853</text>
<text x="859.8" y="71.5">LOC126043520</text>
<text x="859.8" y="72.0">LOC126561748</text>
<text x="859.8" y="72.5">LOC126338014</text>
<text x="859.8" y="73.1">LOC126126906</text>
<text x="859.8" y="73.6">LOC126044319</text>
<text x="859.8" y="74.2">LOC126829657</text>
<text x="859.8" y="74.7">LOC126249208</text>
<text x="859.8" y="75.2">LOC126682889</text>
<text x="859.8" y="75.8">LOC126093100</text>
<text x="859.8" y="76.3">LOC126251678</text>
<text x="859.8" y="76.9">LOC126008374</text>
<text x="859.8" y="77.4">LOC126071881</text>
<text x="859.8" y="77.9">LOC126817414</text>
<text x="859.8" y="78.5">LOC126333776</text>
<text x="859.8" y="79.0">LOC126174093</text>
<text x="859.8" y="79.6">LOC126192544</text>
<text x="859.8" y="80.1">LOC126992070</text>
<text x="859.8" y="80.7">LOC126741374</text>
<text x="859.8" y="81.2">LOC126847771</text>
<text x="859.8" y="81.7">LOC126834170</text>
<text x="859.8" y="82.3">LOC126471874</text>
<text x="859.8" y="82.8">LOC126633191</text>
<text x="859.8" y="83.4">LOC126284529</text>
<text x="859.8" y="83.9">LOC126841537</text>
<text x="859.8" y="84.4">LOC126760207</text>
<text x="859.8" y="85.0">LOC126764265</text>
<text x="859.8" y="85.5">LOC126651505</text>
<text x="859.8" y="86.1">LOC126561304</text>
<text x="859.8" y="86.6">LOC126451669</text>
<text x="859.8" y="87.1">LOC126156404</text>
<text x="859.8" y="87.7">LOC126104234</text>
<text x="859.8" y="88.2">LOC126685356</text>
<text x="859.8" y="88.8">LOC126068831</text>
<text x="859.8" y="89.3">LOC126067924</text>
<text x="859.8" y="89.9">LOC126708227</text>
<text x="859.8" y="90.4">LOC126654444</text>
<text x="859.8" y="90.9">LOC126634786</text>
<text x="859.8" y="91.5">LOC126122138</text>
<text x="859.8" y="92.0">LOC126783757</text>
<text x="859.8" y="92.6">LOC126628331</text>
<text x="859.8" y="93.1">LOC126258153</text>
<text x="859.8" y="93.6">LOC126549306</text>
<text x="859.8" y="94.2">LOC126668364</text>
<text x="859.8" y="94.7">LOC126507495</text>
<text x="859.8" y="95.3">LOC126288314</text>
<text x="859.8" y="95.8">LOC126366764</text>
<text x="859.8" y="96.3">LOC126020679</text>
<text x="859.8" y="96.9">LOC126701687</text>
<text x="859.8" y="97.4">LOC126731322</text>
<text x="859.8" y="98.0">LOC126817180</text>
<text x="859.8" y="98.5">LOC126023904</text>
<text x="859.8" y="99.1">LOC126248611</text>
<text x="859.8" y="99.6">LOC126148936</text>
<text x="859.8" y="100.1">LOC126439008</text>
<text x="859.8" y="100.7">LOC126474537</text>
<text x="859.8" y="101.2">LOC126838306</text>
<text x="859.8" y="101.8">LOC126400376</text>
<text x="859.8" y="102.3">LOC126143653</text>
<text x="859.8" y="102.8">LOC126705656</text>
<text x="859.8" y="103.4">LOC126304813</text>
<text x="859.8" y="103.9">LOC126734337</text>
<text x="859.8" y="104.5">LOC126344197</text>
<text x="859.8" y="105.0">LOC126923760</text>
<text x="859.8" y="105.5">LOC126926030</text>
<text x="859.8" y="106.1">LOC126926002</text>
<text x="859.8" y="106.6">LOC126675112</text>
<text x="859.8" y="107.2">LOC126532870</text>
<text x="859.8" y="107.7">LOC126465572</text>
<text x="859.8" y="108.3">LOC126101415</text>
<text x="859.8" y="108.8">LOC126618365</text>
<text x="859.8" y="109.3">LOC126461073</text>
<text x="859.8" y="109.9">LOC126587355</text>
<text x="859.8" y="110.4">LOC126706360</text>
<text x="859.8" y="111.0">LOC126607104</text>
<text x="859.8" y="111.5">LOC126319554</text>
<text x="859.8" y="112.0">LOC126590454</text>
<text x="859.8" y="112.6">LOC126409103</text>
<text x="859.8" y="113.1">LOC126177646</text>
<text x="859.8" y="113.7">LOC126727204</text>
<text x="859.8" y="114.2">LOC126293557</text>
<text x="859.8" y="114.7">LOC126591836</text>
<text x="859.8" y="115.3">LOC126236107</text>
<text x="859.8" y="115.8">LOC126885261</text>
<text x="859.8" y="116.4">LOC126149131</text>
<text x="859.8" y="116.9">LOC126677232</text>
<text x="859.8" y="117.5">LOC126679381</text>
<text x="859.8" y="118.0">LOC126444945</text>
<text x="859.8" y="118.5">LOC126443732</text>
<text x="859.8" y="119.1">LOC126332493</text>
<text x="859.8" y="119.6">LOC126516438</text>
<text x="859.8" y="120.2">LOC126831701</text>
<text x="859.8" y="120.7">LOC126073750</text>
<text x="859.8" y="121.2">LOC126431039</text>
<text x="859.8" y="121.8">LOC126931582</text>
<text x="859.8" y="122.3">LOC126794019</text>
<text x="859.8" y="122.9">LOC126953055</text>
<text x="859.8" y="123.4">LOC126203409</text>
<text x="859.8" y="123.9">LOC126305652</text>
<text x="859.8" y="124.5">LOC126941307</text>
<text x="859.8" y="125.0">LOC126871616</text>
<text x="859.8" y="125.6">LOC126828126</text>
<text x="859.8" y="126.1">LOC126464460</text>
<text x="859.8" y="126.7">LOC126495660</text>
<text x="859.8" y="127.2">LOC126536630</text>
<text x="859.8" y="127.7">LOC126626116</text>
<text x="859.8" y="128.3">LOC126957220</text>
<text x="859.8" y="128.8">LOC126082619</text>
<text x="859.8" y="129.4">LOC126958225</text>
<text x="859.8" y="129.9">LOC126428211</text>
<text x="859.8" y="130.4">LOC126673420</text>
<text x="859.8" y="131.0">LOC126750961</text>
<text x="859.8" y="131.5">LOC126923969</text>
<text x="859.8" y="132.1">LOC126372930</text>
<text x="859.8" y="132.6">LOC126682651</text>
<text x="859.8" y="133.1">LOC126233080</text>
<text x="859.8" y="133.7">LOC126516978</text>
<text x="859.8" y="134.2">LOC126464936</text>
<text x="859.8" y="134.8">LOC126657872</text>
<text x="859.8" y="135.3">LOC126009773</text>
<text x="859.8" y="135.9">LOC126797276</text>
<text x="859.8" y="136.4">LOC126112565</text>
<text x="859.8" y="136.9">LOC126178800</text>
<text x="859.8" y="137.5">LOC126215810</text>
<text x="859.8" y="138.0">LOC126862019</text>
<text x="859.8" y="138.6">LOC126132742</text>
<text x="859.8" y="139.1">LOC126315942</text>
<text x="859.8" y="139.6">LOC126594724</text>
<text x="859.8" y="140.2">LOC126873949</text>
<text x="859.8" y="140.7">LOC126835503</text>
<text x="859.8" y="141.3">LOC126262456</text>
<text x="859.8" y="141.8">LOC126241805</text>
<text x="859.8" y="142.4">LOC126788914</text>
<text x="859.8" y="142.9">LOC126865465</text>
<text x="859.8" y="143.4">LOC126925517</text>
<text x="859.8" y="144.0">LOC126329048</text>
<text x="859.8" y="144.5">LOC126449500</text>
<text x="859.8" y="145.1">LOC126324966</text>
<text x="859.8" y="145.6">LOC126850273</text>
<text x="859.8" y="146.1">LOC126900009</text>
<text x="859.8" y="146.7">LOC126541858</text>
<text x="859.8" y="147.2">LOC126369492</text>
<text x="859.8" y="147.8">LOC126359722</text>
<text x="859.8" y="148.3">LOC126032711</text>
<text x="859.8" y="148.8">LOC126246400</text>
<text x="859.8" y="149.4">LOC126859979</text>
<text x="859.8" y="149.9">LOC126873200</text>
<text x="859.8" y="150.5">LOC126080623</text>
<text x="859.8" y="151.0">LOC126201098</text>
<text x="859.8" y="151.6">LOC126326389</text>
<text x="859.8" y="152.1">LOC126869284</text>
<text x="859.8" y="152.6">LOC126140780</text>
<text x="859.8" y="153.2">LOC126667172</text>
<text x="859.8" y="153.7">LOC126314301</text>
<text x="859.8" y="154.3">LOC126540486</text>
<text x="859.8" y="154.8">LOC126844318</text>
<text x="859.8" y="155.3">LOC126024332</text>
<text x="859.8" y="155.9">LOC126536593</text>
<text x="859.8" y="156.4">LOC126687780</text>
<text x="859.8" y="157.0">LOC126063943</text>
<text x="859.8" y="157.5">LOC126699192</text>
<text x="859.8" y="158.0">LOC126200119</text>
<text x="859.8" y="158.6">LOC126252000</text>
<text x="859.8" y="159.1">LOC126201019</text>
<text x="859.8" y="159.7">LOC126538161</text>
<text x="859.8" y="160.2">LOC126333100</text>
<text x="859.8" y="160.8">LOC126147121</text>
<text x="859.8" y="161.3">LOC126345564</text>
<text x="859.8" y="161.8">LOC126054405</text>
<text x="859.8" y="162.4">LOC126598749</text>
<text x="859.8" y="162.9">LOC126060681</text>
<text x="859.8" y="163.5">LOC126570893</text>
<text x="859.8" y="164.0">LOC126194260</text>
<text x="859.8" y="164.5">LOC126834005</text>
<text x="859.8" y="165.1">LOC126717279</text>
<text x="859.8" y="165.6">LOC126584924</text>
<text x="859.8" y="166.2">LOC126337211</text>
<text x="859.8" y="166.7">LOC126781551</text>
<text x="859.8" y="167.2">LOC126661605</text>
<text x="859.8" y="167.8">LOC126344688</text>
<text x="859.8" y="168.3">LOC126263728</text>
<text x="859.8" y="168.9">LOC126990595</text>
<text x="859.8" y="169.4">LOC126827852</text>
<text x="859.8" y="170.0">LOC126774932</text>
<text x="859.8" y="170.5">LOC126573834</text>
<text x="859.8" y="171.0">LOC126492235</text>
<text x="859.8" y="171.6">LOC126985235</text>
<text x="859.8" y="172.1">LOC126341213</text>
<text x="859.8" y="172.7">LOC126622446</text>
<text x="859.8" y="173.2">LOC126431143</text>
<text x="859.8" y="173.7">LOC126670066</text>
<text x="859.8" y="174.3">LOC126384702</text>
<text x="859.8" y="174.8">LOC126496036</text>
<text x="859.8" y="175.4">LOC126996393</text>
<text x="859.8" y="175.9">LOC126217654</text>
<text x="859.8" y="176.4">LOC126163624</text>
<text x="859.8" y="177.0">LOC126677096</text>
<text x="859.8" y="177.5">LOC126825067</text>
<text x="859.8" y="178.1">LOC126104832</text>
<text x="859.8" y="178.6">LOC126385197</text>
<text x="859.8" y="179.2">LOC126837805</text>
<text x="859.8" y="179.7">LOC126856732</text>
<text x="859.8" y="180.2">LOC126681950</text>
<text x="859.8" y="180.8">LOC126446600</text>
<text x="859.8" y="181.3">LOC126166594</text>
<text x="859.8" y="181.9">LOC126134683</text>
<text x="859.8" y="182.4">LOC126673221</text>
<text x="859.8" y="182.9">LOC126378325</text>
<text x="859.8" y="183.5">LOC126674827</text>
<text x="859.8" y="184.0">LOC126534646</text>
<text x="859.8" y="184.6">LOC126270453</text>
<text x="859.8" y="185.1">LOC126457769</text>
<text x="859.8" y="185.6">LOC126152460</text>
<text x="859.8" y="186.2">LOC126195285</text>
<text x="859.8" y="186.7">LOC126900314</text>
<text x="859.8" y="187.3">LOC126491923</text>
<text x="859.8" y="187.8">LOC126275236</text>
<text x="859.8" y="188.4">LOC126829918</text>
<text x="859.8" y="188.9">LOC126437381</text>
<text x="859.8" y="189.4">LOC126718146</text>
<text x="859.8" y="190.0">LOC126327780</text>
<text x="859.8" y="190.5">LOC126772737</text>
<text x="859.8" y="191.1">LOC126289025</text>
<text x="859.8" y="191.6">LOC126797475</text>
<text x="859.8" y="192.1">LOC126661250</text>
<text x="859.8" y="192.7">LOC126090518</text>
<text x="859.8" y="193.2">LOC126772036</text>
<text x="859.8" y="193.8">LOC126251557</text>
<text x="859.8" y="194.3">LOC126883465</text>
<text x="859.8" y="194.8">LOC126648044</text>
<text x="859.8" y="195.4">LOC126576584</text>
<text x="859.8" y="195.9">LOC126853715</text>
<text x="859.8" y="196.5">LOC126354291</text>
<text x="859.8" y="197.0">LOC126068689</text>
<text x="859.8" y="197.6">LOC126064100</text>
<text x="859.8" y="198.1">LOC126379088</text>
<text x="859.8" y="198.6">LOC126969291</text>
<text x="859.8" y="199.2">LOC126307212</text>
<text x="859.8" y="199.7">LOC126061052</text>
<text x="859.8" y="200.3">LOC126484426</text>
<text x="859.8" y="200.8">LOC126050699</text>
<text x="859.8" y="201.3">LOC126079801</text>
<text x="859.8" y="201.9">LOC126696710</text>
<text x="859.8" y="202.4">LOC126699276</text>
<text x="859.8" y="203.0">LOC126811732</text>
<text x="859.8" y="203.5">LOC126060011</text>
<text x="859.8" y="204.0">LOC126312704</text>
<text x="859.8" y="204.6">LOC126937205</text>
<text x="859.8" y="205.1">LOC126214877</text>
<text x="859.8" y="205.7">LOC126400000</text>
<text x="859.8" y="206.2">LOC126916449</text>
<text x="859.8" y="206.8">LOC126279055</text>
<text x="859.8" y="207.3">LOC126977221</text>
<text x="859.8" y="207.8">LOC126526767</text>
<text x="859.8" y="208.4">LOC126495440</text>
<text x="859.8" y="208.9">LOC126995902</text>
<text x="859.8" y="209.5">LOC126949636</text>
<text x="859.8" y="210.0">LOC126669374</text>
<text x="859.8" y="210.5">LOC126054462</text>
<text x="859.8" y="211.1">LOC126904292</text>
<text x="859.8" y="211.6">LOC126487581</text>
<text x="859.8" y="212.2">LOC126887633</text>
<text x="859.8" y="212.7">LOC126490673</text>
<text x="859.8" y="213.3">LOC126490678</text>
<text x="859.8" y="213.8">LOC126185136</text>
<text x="859.8" y="214.3">LOC126984857</text>
<text x="859.8" y="214.9">LOC126893333</text>
<text x="859.8" y="215.4">LOC126124599</text>
<text x="859.8" y="216.0">LOC126568230</text>
<text x="859.8" y="216.5">LOC126751571</text>
<text x="859.8" y="217.0">LOC126259054</text>
<text x="859.8" y="217.6">LOC126890103</text>
<text x="859.8" y="218.1">LOC126979934</text>
<text x="859.8" y="218.7">LOC126461799</text>
<text x="859.8" y="219.2">LOC126240532</text>
<text x="859.8" y="219.7">LOC126610008</text>
<text x="859.8" y="220.3">LOC126577196</text>
<text x="859.8" y="220.8">LOC126114593</text>
<text x="859.8" y="221.4">LOC126186272</text>
<text x="859.8" y="221.9">LOC126533204</text>
<text x="859.8" y="222.5">LOC126508004</text>
<text x="859.8" y="223.0">LOC126870125</text>
<text x="859.8" y="223.5">LOC126034997</text>
<text x="859.8" y="224.1">LOC126175546</text>
<text x="859.8" y="224.6">LOC126157627</text>
<text x="859.8" y="225.2">LOC126320730</text>
<text x="859.8" y="225.7">LOC126231952</text>
<text x="859.8" y="226.2">LOC126716017</text>
<text x="859.8" y="226.8">LOC126553715</text>
<text x="859.8" y="227.3">LOC126253027</text>
<text x="859.8" y="227.9">LOC126827246</text>
<text x="859.8" y="228.4">LOC126632049</text>
<text x="859.8" y="228.9">LOC126452471</text>
<text x="859.8" y="229.5">LOC126577128</text>
<text x="859.8" y="230.0">LOC126038741</text>
<text x="859.8" y="230.6">LOC126435643</text>
<text x="859.8" y="231.1">LOC126316462</text>
<text x="859.8" y="231.7">LOC126042078</text>
<text x="859.8" y="232.2">LOC126582708</text>
<text x="859.8" y="232.7">LOC126425606</text>
<text x="859.8" y="233.3">LOC126349222</text>
<text x="859.8" y="233.8">LOC126832391</text>
<text x="859.8" y="234.4">LOC126197423</text>
<text x="859.8" y="234.9">LOC126293943</text>
<text x="859.8" y="235.4">LOC126018608</text>
<text x="859.8" y="236.0">LOC126554710</text>
<text x="859.8" y="236.5">LOC126672432</text>
<text x="859.8" y="237.1">LOC126950259</text>
<text x="859.8" y="237.6">LOC126905878</text>
<text x="859.8" y="238.1">LOC126115356</text>
<text x="859.8" y="238.7">LOC126904177</text>
<text x="859.8" y="239.2">LOC126808820</text>
<text x="859.8" y="239.8">LOC126313922</text>
<text x="859.8" y="240.3">LOC126144800</text>
<text x="859.8" y="240.9">LOC126134099</text>
<text x="859.8" y="241.4">LOC126783715</text>
<text x="859.8" y="241.9">LOC126120417</text>
<text x="859.8" y="242.5">LOC126798411</text>
<text x="859.8" y="243.0">LOC126162893</text>
<text x="859.8" y="243.6">LOC126329762</text>
<text x="859.8" y="244.1">LOC126066998</text>
<text x="859.8" y="244.6">LOC126060556</text>
<text x="859.8" y="245.2">LOC126356956</text>
<text x="859.8" y="245.7">LOC126805825</text>
<text x="859.8" y="246.3">LOC126360518</text>
<text x="859.8" y="246.8">LOC126215638</text>
<text x="859.8" y="247.3">LOC126032667</text>
<text x="859.8" y="247.9">LOC126000949</text>
<text x="859.8" y="248.4">LOC126480914</text>
<text x="859.8" y="249.0">LOC126180630</text>
<text x="859.8" y="249.5">LOC126414521</text>
<text x="859.8" y="250.1">LOC126098417</text>
<text x="859.8" y="250.6">LOC126982718</text>
<text x="859.8" y="251.1">LOC126246944</text>
<text x="859.8" y="251.7">LOC126318479</text>
<text x="859.8" y="252.2">LOC126936385</text>
<text x="859.8" y="252.8">LOC126784977</text>
<text x="859.8" y="253.3">LOC126403533</text>
<text x="859.8" y="253.8">LOC126886960</text>
<text x="859.8" y="254.4">LOC126523585</text>
<text x="859.8" y="254.9">LOC126744340</text>
<text x="859.8" y="255.5">LOC126028195</text>
<text x="859.8" y="256.0">LOC126708675</text>
<text x="859.8" y="256.5">LOC126183265</text>
<text x="859.8" y="257.1">LOC126523994</text>
<text x="859.8" y="257.6">LOC126817426</text>
<text x="859.8" y="258.2">LOC126106891</text>
<text x="859.8" y="258.7">LOC126769264</text>
<text x="859.8" y="259.3">LOC126991677</text>
<text x="859.8" y="259.8">LOC126454568</text>
<text x="859.8" y="260.3">LOC126896507</text>
<text x="859.8" y="260.9">LOC126674284</text>
<text x="859.8" y="261.4">LOC126269693</text>
<text x="859.8" y="262.0">LOC126155935</text>
<text x="859.8" y="262.5">LOC126360004</text>
<text x="859.8" y="263.0">LOC126974848</text>
<text x="859.8" y="263.6">LOC126968866</text>
<text x="859.8" y="264.1">LOC126750957</text>
<text x="859.8" y="264.7">LOC126018316</text>
<text x="859.8" y="265.2">LOC126586892</text>
<text x="859.8" y="265.7">LOC126367679</text>
<text x="859.8" y="266.3">LOC126958125</text>
<text x="859.8" y="266.8">LOC126551482</text>
<text x="859.8" y="267.4">LOC126145862</text>
<text x="859.8" y="267.9">LOC126848383</text>
<text x="859.8" y="268.5">LOC126620991</text>
<text x="859.8" y="269.0">LOC126590600</text>
<text x="859.8" y="269.5">LOC126480461</text>
<text x="859.8" y="270.1">LOC126900327</text>
<text x="859.8" y="270.6">LOC126894882</text>
<text x="859.8" y="271.2">LOC126936912</text>
<text x="859.8" y="271.7">LOC126288101</text>
<text x="859.8" y="272.2">LOC126128779</text>
<text x="859.8" y="272.8">LOC126600952</text>
<text x="859.8" y="273.3">LOC126354204</text>
<text x="859.8" y="273.9">LOC126191537</text>
<text x="859.8" y="274.4">LOC126960036</text>
<text x="859.8" y="274.9">LOC126907093</text>
<text x="859.8" y="275.5">LOC126330292</text>
<text x="859.8" y="276.0">LOC126507469</text>
<text x="859.8" y="276.6">LOC126471369</text>
<text x="859.8" y="277.1">LOC126364670</text>
<text x="859.8" y="277.7">LOC126312256</text>
<text x="859.8" y="278.2">LOC126204685</text>
<text x="859.8" y="278.7">LOC126158656</text>
<text x="859.8" y="279.3">LOC126116583</text>
<text x="859.8" y="279.8">LOC126637453</text>
<text x="859.8" y="280.4">LOC126604052</text>
<text x="859.8" y="280.9">LOC126321348</text>
<text x="859.8" y="281.4">LOC126287732</text>
<text x="859.8" y="282.0">LOC126553669</text>
<text x="859.8" y="282.5">LOC126347833</text>
<text x="859.8" y="283.1">LOC126724979</text>
<text x="859.8" y="283.6">LOC126583698</text>
<text x="859.8" y="284.2">LOC126321818</text>
<text x="859.8" y="284.7">LOC126460924</text>
<text x="859.8" y="285.2">LOC126061235</text>
<text x="859.8" y="285.8">LOC126311858</text>
<text x="859.8" y="286.3">LOC126431413</text>
<text x="859.8" y="286.9">LOC126426456</text>
<text x="859.8" y="287.4">LOC126724205</text>
<text x="859.8" y="287.9">LOC126560736</text>
<text x="859.8" y="288.5">LOC126512414</text>
<text x="859.8" y="289.0">LOC126930609</text>
<text x="859.8" y="289.6">LOC126263426</text>
<text x="859.8" y="290.1">LOC126084293</text>
<text x="859.8" y="290.6">LOC126978469</text>
<text x="859.8" y="291.2">LOC126501409</text>
<text x="859.8" y="291.7">LOC126903105</text>
<text x="859.8" y="292.3">LOC126351669</text>
<text x="859.8" y="292.8">LOC126348156</text>
<text x="859.8" y="293.4">LOC126758780</text>
<text x="859.8" y="293.9">LOC126368273</text>
<text x="859.8" y="294.4">LOC126084282</text>
<text x="859.8" y="295.0">LOC126384302</text>
<text x="859.8" y="295.5">LOC126556134</text>
<text x="859.8" y="296.1">LOC126227733</text>
<text x="859.8" y="296.6">LOC126087254</text>
<text x="859.8" y="297.1">LOC126229935</text>
<text x="859.8" y="297.7">LOC126186229</text>
<text x="859.8" y="298.2">LOC126763140</text>
<text x="859.8" y="298.8">LOC126573004</text>
<text x="859.8" y="299.3">LOC126431471</text>
<text x="859.8" y="299.8">LOC126257795</text>
<text x="859.8" y="300.4">LOC126428100</text>
<text x="859.8" y="300.9">LOC126771594</text>
<text x="859.8" y="301.5">LOC126176738</text>
<text x="859.8" y="302.0">LOC126505149</text>
<text x="859.8" y="302.6">LOC126431200</text>
<text x="859.8" y="303.1">LOC126624528</text>
<text x="859.8" y="303.6">LOC126214956</text>
<text x="859.8" y="304.2">LOC126255352</text>
<text x="859.8" y="304.7">LOC126854300</text>
<text x="859.8" y="305.3">LOC126196037</text>
<text x="859.8" y="305.8">LOC126672499</text>
<text x="859.8" y="306.3">LOC126123227</text>
<text x="859.8" y="306.9">LOC126610773</text>
<text x="859.8" y="307.4">LOC126350098</text>
<text x="859.8" y="308.0">LOC126624108</text>
<text x="859.8" y="308.5">LOC126651702</text>
<text x="859.8" y="309.0">LOC126264079</text>
<text x="859.8" y="309.6">LOC126593718</text>
<text x="859.8" y="310.1">LOC126587682</text>
<text x="859.8" y="310.7">LOC126699105</text>
<text x="859.8" y="311.2">LOC126949965</text>
<text x="859.8" y="311.8">LOC126724580</text>
<text x="859.8" y="312.3">LOC126337129</text>
<text x="859.8" y="312.8">LOC126589658</text>
<text x="859.8" y="313.4">LOC126397641</text>
<text x="859.8" y="313.9">LOC126323813</text>
<text x="859.8" y="314.5">LOC126413847</text>
<text x="859.8" y="315.0">LOC126387389</text>
<text x="859.8" y="315.5">LOC126189916</text>
<text x="859.8" y="316.1">LOC126172888</text>
<text x="859.8" y="316.6">LOC126181768</text>
<text x="859.8" y="317.2">LOC126239712</text>
<text x="859.8" y="317.7">LOC126590630</text>
<text x="859.8" y="318.2">LOC126500937</text>
<text x="859.8" y="318.8">LOC126412619</text>
<text x="859.8" y="319.3">LOC126391525</text>
<text x="859.8" y="319.9">LOC126504135</text>
<text x="859.8" y="320.4">LOC126885709</text>
<text x="859.8" y="321.0">LOC126515859</text>
<text x="859.8" y="321.5">LOC126103453</text>
<text x="859.8" y="322.0">LOC126709710</text>
<text x="859.8" y="322.6">LOC126711422</text>
<text x="859.8" y="323.1">LOC126846294</text>
<text x="859.8" y="323.7">LOC126847005</text>
<text x="859.8" y="324.2">LOC126278700</text>
<text x="859.8" y="324.7">LOC126129967</text>
<text x="859.8" y="325.3">LOC126276398</text>
<text x="859.8" y="325.8">LOC126155834</text>
<text x="859.8" y="326.4">LOC126299032</text>
<text x="859.8" y="326.9">LOC126575976</text>
<text x="859.8" y="327.4">LOC126550597</text>
<text x="859.8" y="328.0">LOC126530379</text>
<text x="859.8" y="328.5">LOC126022464</text>
<text x="859.8" y="329.1">LOC126184599</text>
<text x="859.8" y="329.6">LOC126892081</text>
<text x="859.8" y="330.2">LOC126369154</text>
<text x="859.8" y="330.7">LOC126321455</text>
<text x="859.8" y="331.2">LOC126835865</text>
<text x="859.8" y="331.8">LOC126055785</text>
<text x="859.8" y="332.3">LOC126335223</text>
<text x="859.8" y="332.9">LOC126076769</text>
<text x="859.8" y="333.4">LOC126429124</text>
<text x="859.8" y="333.9">LOC126449851</text>
<text x="859.8" y="334.5">LOC126391924</text>
<text x="859.8" y="335.0">LOC126957561</text>
<text x="859.8" y="335.6">LOC126752448</text>
<text x="859.8" y="336.1">LOC126024303</text>
<text x="859.8" y="336.6">LOC126067394</text>
<text x="859.8" y="337.2">LOC126813302</text>
<text x="859.8" y="337.7">LOC126901195</text>
<text x="859.8" y="338.3">LOC126203480</text>
<text x="859.8" y="338.8">LOC126503550</text>
<text x="859.8" y="339.4">LOC126769520</text>
<text x="859.8" y="339.9">LOC126601957</text>
<text x="859.8" y="340.4">LOC126964700</text>
<text x="859.8" y="341.0">LOC126595069</text>
<text x="859.8" y="341.5">LOC126521023</text>
<text x="859.8" y="342.1">LOC126281556</text>
<text x="859.8" y="342.6">LOC126589829</text>
<text x="859.8" y="343.1">LOC126953947</text>
<text x="859.8" y="343.7">LOC126048784</text>
<text x="859.8" y="344.2">LOC126588424</text>
<text x="859.8" y="344.8">LOC126087152</text>
<text x="859.8" y="345.3">LOC126361092</text>
<text x="859.8" y="345.8">LOC126108838</text>
<text x="859.8" y="346.4">LOC126249522</text>
<text x="859.8" y="346.9">LOC126280537</text>
<text x="859.8" y="347.5">LOC126735673</text>
<text x="859.8" y="348.0">LOC126501016</text>
<text x="859.8" y="348.6">LOC126503966</text>
<text x="859.8" y="349.1">LOC126630404</text>
<text x="859.8" y="349.6">LOC126633535</text>
<text x="859.8" y="350.2">LOC126644739</text>
<text x="859.8" y="350.7">LOC126274244</text>
<text x="859.8" y="351.3">LOC126150732</text>
<text x="859.8" y="351.8">LOC126599739</text>
<text x="859.8" y="352.3">LOC126035072</text>
<text x="859.8" y="352.9">LOC126624012</text>
<text x="859.8" y="353.4">LOC126024285</text>
<text x="859.8" y="354.0">LOC126127616</text>
<text x="859.8" y="354.5">LOC126565093</text>
<text x="859.8" y="355.0">LOC126300289</text>
<text x="859.8" y="355.6">LOC126396100</text>
<text x="859.8" y="356.1">LOC126511172</text>
<text x="859.8" y="356.7">LOC126860238</text>
<text x="859.8" y="357.2">LOC126288185</text>
<text x="859.8" y="357.8">LOC126715331</text>
<text x="859.8" y="358.3">LOC126420441</text>
<text x="859.8" y="358.8">LOC126038068</text>
<text x="859.8" y="359.4">LOC126540507</text>
<text x="859.8" y="359.9">LOC126848564</text>
<text x="859.8" y="360.5">LOC126665866</text>
<text x="859.8" y="361.0">LOC126266620</text>
<text x="859.8" y="361.5">LOC126398496</text>
<text x="859.8" y="362.1">LOC126331190</text>
<text x="859.8" y="362.6">LOC126068578</text>
<text x="859.8" y="363.2">LOC126579077</text>
<text x="859.8" y="363.7">LOC126859863</text>
<text x="859.8" y="364.3">LOC126651684</text>
<text x="859.8" y="364.8">LOC126951839</text>
<text x="859.8" y="365.3">LOC126447589</text>
<text x="859.8" y="365.9">LOC126793218</text>
<text x="859.8" y="366.4">LOC126583825</text>
<text x="859.8" y="367.0">LOC126322720</text>
<text x="859.8" y="367.5">LOC126565616</text>
<text x="859.8" y="368.0">LOC126246155</text>
<text x="859.8" y="368.6">LOC126884714</text>
<text x="859.8" y="369.1">LOC126647177</text>
<text x="859.8" y="369.7">LOC126282025</text>
<text x="859.8" y="370.2">LOC126783958</text>
<text x="859.8" y="370.7">LOC126564083</text>
<text x="859.8" y="371.3">LOC126094092</text>
<text x="859.8" y="371.8">LOC126484543</text>
<text x="859.8" y="372.4">LOC126471871</text>
<text x="859.8" y="372.9">LOC126326495</text>
<text x="859.8" y="373.5">LOC126076504</text>
<text x="859.8" y="374.0">LOC126669453</text>
<text x="859.8" y="374.5">LOC126692939</text>
<text x="859.8" y="375.1">LOC126513511</text>
<text x="859.8" y="375.6">LOC126766867</text>
<text x="859.8" y="376.2">LOC126019977</text>
<text x="859.8" y="376.7">LOC126667217</text>
<text x="859.8" y="377.2">LOC126672803</text>
<text x="859.8" y="377.8">LOC126368048</text>
<text x="859.8" y="378.3">LOC126567113</text>
<text x="859.8" y="378.9">LOC126190171</text>
<text x="859.8" y="379.4">LOC126397035</text>
<text x="859.8" y="379.9">LOC126708692</text>
<text x="859.8" y="380.5">LOC126602553</text>
<text x="859.8" y="381.0">LOC126802848</text>
<text x="859.8" y="381.6">LOC126415644</text>
<text x="859.8" y="382.1">LOC126868604</text>
<text x="859.8" y="382.7">LOC126436684</text>
<text x="859.8" y="383.2">LOC126432038</text>
<text x="859.8" y="383.7">LOC126577925</text>
<text x="859.8" y="384.3">LOC126537805</text>
<text x="859.8" y="384.8">LOC126081695</text>
<text x="859.8" y="385.4">LOC126043743</text>
<text x="859.8" y="385.9">LOC126399767</text>
<text x="859.8" y="386.4">LOC126330261</text>
<text x="859.8" y="387.0">LOC126021972</text>
<text x="859.8" y="387.5">LOC126082734</text>
<text x="859.8" y="388.1">LOC126382238</text>
<text x="859.8" y="388.6">LOC126171310</text>
<text x="859.8" y="389.1">LOC126634762</text>
<text x="859.8" y="389.7">LOC126020274</text>
<text x="859.8" y="390.2">LOC126395824</text>
<text x="859.8" y="390.8">LOC126458323</text>
<text x="859.8" y="391.3">LOC126605624</text>
<text x="859.8" y="391.9">LOC126381372</text>
<text x="859.8" y="392.4">LOC126265610</text>
<text x="859.8" y="392.9">LOC126513881</text>
<text x="859.8" y="393.5">LOC126475071</text>
<text x="859.8" y="394.0">LOC126374499</text>
<text x="859.8" y="394.6">LOC126813274</text>
<text x="859.8" y="395.1">LOC126394099</text>
<text x="859.8" y="395.6">LOC126105324</text>
<text x="859.8" y="396.2">LOC126025577</text>
<text x="859.8" y="396.7">LOC126355214</text>
<text x="859.8" y="397.3">LOC126187181</text>
<text x="859.8" y="397.8">LOC126296700</text>
<text x="859.8" y="398.3">LOC126089162</text>
<text x="859.8" y="398.9">LOC126695152</text>
<text x="859.8" y="399.4">LOC126521507</text>
<text x="859.8" y="400.0">LOC126424113</text>
<text x="859.8" y="400.5">LOC126127488</text>
<text x="859.8" y="401.1">LOC126157329</text>
<text x="859.8" y="401.6">LOC126808453</text>
<text x="859.8" y="402.1">LOC126468323</text>
<text x="859.8" y="402.7">LOC126883101</text>
<text x="859.8" y="403.2">LOC126079331</text>
<text x="859.8" y="403.8">LOC126224066</text>
<text x="859.8" y="404.3">LOC126981491</text>
<text x="859.8" y="404.8">LOC126193339</text>
<text x="859.8" y="405.4">LOC126803195</text>
<text x="859.8" y="405.9">LOC126103924</text>
<text x="859.8" y="406.5">LOC126517920</text>
<text x="859.8" y="407.0">LOC126566013</text>
<text x="859.8" y="407.5">LOC126282252</text>
<text x="859.8" y="408.1">LOC126333510</text>
<text x="859.8" y="408.6">LOC126707851</text>
<text x="859.8" y="409.2">LOC126913056</text>
<text x="859.8" y="409.7">LOC126159277</text>
<text x="859.8" y="410.3">LOC126244079</text>
<text x="859.8" y="410.8">LOC126266849</text>
<text x="859.8" y="411.3">LOC126811433</text>
<text x="859.8" y="411.9">LOC126397837</text>
<text x="859.8" y="412.4">LOC126906656</text>
<text x="859.8" y="413.0">LOC126613596</text>
<text x="859.8" y="413.5">LOC126404790</text>
<text x="859.8" y="414.0">LOC126176694</text>
<text x="859.8" y="414.6">LOC126725831</text>
<text x="859.8" y="415.1">LOC126567904</text>
<text x="859.8" y="415.7">LOC126514276</text>
<text x="859.8" y="416.2">LOC126831306</text>
<text x="859.8" y="416.7">LOC126264525</text>
<text x="859.8" y="417.3">LOC126235964</text>
<text x="859.8" y="417.8">LOC126758932</text>
<text x="859.8" y="418.4">LOC126680021</text>
<text x="859.8" y="418.9">LOC126379451</text>
<text x="859.8" y="419.5">LOC126886246</text>
<text x="859.8" y="420.0">LOC126189574</text>
<text x="859.8" y="420.5">LOC126454680</text>
<text x="859.8" y="421.1">LOC126775001</text>
<text x="859.8" y="421.6">LOC126867482</text>
<text x="859.8" y="422.2">LOC126970572</text>
<text x="859.8" y="422.7">LOC126042399</text>
<text x="859.8" y="423.2">LOC126806294</text>
<text x="859.8" y="423.8">LOC126348068</text>
<text x="859.8" y="424.3">LOC126616754</text>
<text x="859.8" y="424.9">LOC126529708</text>
<text x="859.8" y="425.4">LOC126523802</text>
<text x="859.8" y="425.9">LOC126482409</text>
<text x="859.8" y="426.5">LOC126465244</text>
<text x="859.8" y="427.0">LOC126739576</text>
<text x="859.8" y="427.6">LOC126145656</text>
<text x="859.8" y="428.1">LOC126741397</text>
<text x="859.8" y="428.7">LOC126862502</text>
<text x="859.8" y="429.2">LOC126487861</text>
<text x="859.8" y="429.7">LOC126465684</text>
<text x="859.8" y="430.3">LOC126147008</text>
<text x="859.8" y="430.8">LOC126945954</text>
<text x="859.8" y="431.4">LOC126318196</text>
<text x="859.8" y="431.9">LOC126142216</text>
<text x="859.8" y="432.4">LOC126656675</text>
<text x="859.8" y="433.0">LOC126522886</text>
<text x="859.8" y="433.5">LOC126423516</text>
<text x="859.8" y="434.1">LOC126180939</text>
<text x="859.8" y="434.6">LOC126663942</text>
<text x="859.8" y="435.2">LOC126233814</text>
<text x="859.8" y="435.7">LOC126064269</text>
<text x="859.8" y="436.2">LOC126419984</text>
<text x="859.8" y="436.8">LOC126933415</text>
<text x="859.8" y="437.3">LOC126915081</text>
<text x="859.8" y="437.9">LOC126153072</text>
<text x="859.8" y="438.4">LOC126748079</text>
<text x="859.8" y="438.9">LOC126890087</text>
<text x="859.8" y="439.5">LOC126173455</text>
<text x="859.8" y="440.0">LOC126893383</text>
<text x="859.8" y="440.6">LOC126498032</text>
<text x="859.8" y="441.1">LOC126084651</text>
<text x="859.8" y="441.6">LOC126419166</text>
<text x="859.8" y="442.2">LOC126896305</text>
<text x="859.8" y="442.7">LOC126854179</text>
<text x="859.8" y="443.3">LOC126267973</text>
<text x="859.8" y="443.8">LOC126593162</text>
<text x="859.8" y="444.4">LOC126431807</text>
<text x="859.8" y="444.9">LOC126334384</text>
<text x="859.8" y="445.4">LOC126090153</text>
<text x="859.8" y="446.0">LOC126608485</text>
<text x="859.8" y="446.5">LOC126295541</text>
<text x="859.8" y="447.1">LOC126025607</text>
<text x="859.8" y="447.6">LOC126151257</text>
<text x="859.8" y="448.1">LOC126715572</text>
<text x="859.8" y="448.7">LOC126189486</text>
<text x="859.8" y="449.2">LOC126354034</text>
<text x="859.8" y="449.8">LOC126866262</text>
<text x="859.8" y="450.3">LOC126201398</text>
<text x="859.8" y="450.8">LOC126600170</text>
<text x="859.8" y="451.4">LOC126398155</text>
<text x="859.8" y="451.9">LOC126987730</text>
<text x="859.8" y="452.5">LOC126335611</text>
<text x="859.8" y="453.0">LOC126923779</text>
<text x="859.8" y="453.6">LOC126971907</text>
<text x="859.8" y="454.1">LOC126263779</text>
<text x="859.8" y="454.6">LOC126217961</text>
<text x="859.8" y="455.2">LOC126330693</text>
<text x="859.8" y="455.7">LOC126031300</text>
<text x="859.8" y="456.3">LOC126706330</text>
<text x="859.8" y="456.8">LOC126896402</text>
<text x="859.8" y="457.3">LOC126707112</text>
<text x="859.8" y="457.9">LOC126282985</text>
<text x="859.8" y="458.4">LOC126186010</text>
<text x="859.8" y="459.0">LOC126818899</text>
<text x="859.8" y="459.5">LOC126981089</text>
<text x="859.8" y="460.0">LOC126476083</text>
<text x="859.8" y="460.6">LOC126028731</text>
<text x="859.8" y="461.1">LOC126361918</text>
<text x="859.8" y="461.7">LOC126851131</text>
<text x="859.8" y="462.2">LOC126154444</text>
<text x="859.8" y="462.8">LOC126279953</text>
<text x="859.8" y="463.3">LOC126011019</text>
<text x="859.8" y="463.8">LOC126386769</text>
<text x="859.8" y="464.4">LOC126931000</text>
<text x="859.8" y="464.9">LOC126260294</text>
<text x="859.8" y="465.5">LOC126742445</text>
<text x="859.8" y="466.0">LOC126056127</text>
<text x="859.8" y="466.5">LOC126279543</text>
<text x="859.8" y="467.1">LOC126068053</text>
<text x="859.8" y="467.6">LOC126855035</text>
<text x="859.8" y="468.2">LOC126182105</text>
<text x="859.8" y="468.7">LOC126655181</text>
<text x="859.8" y="469.2">LOC126723808</text>
<text x="859.8" y="469.8">LOC126368133</text>
<text x="859.8" y="470.3">LOC126404612</text>
<text x="859.8" y="470.9">LOC126979246</text>
<text x="859.8" y="471.4">LOC126354013</text>
<text x="859.8" y="472.0">LOC126499219</text>
<text x="859.8" y="472.5">LOC126164111</text>
<text x="859.8" y="473.0">LOC126801512</text>
<text x="859.8" y="473.6">LOC126817847</text>
<text x="859.8" y="474.1">LOC126214466</text>
<text x="859.8" y="474.7">LOC126271755</text>
<text x="859.8" y="475.2">LOC126306313</text>
<text x="859.8" y="475.7">LOC126554903</text>
<text x="859.8" y="476.3">LOC126112944</text>
<text x="859.8" y="476.8">LOC126202710</text>
<text x="859.8" y="477.4">LOC126641993</text>
<text x="859.8" y="477.9">LOC126014042</text>
<text x="859.8" y="478.4">LOC126558225</text>
<text x="859.8" y="479.0">LOC126455281</text>
<text x="859.8" y="479.5">LOC126324603</text>
<text x="859.8" y="480.1">LOC126336537</text>
<text x="859.8" y="480.6">LOC126400165</text>
<text x="859.8" y="481.2">LOC126340777</text>
<text x="859.8" y="481.7">LOC126117871</text>
<text x="859.8" y="482.2">LOC126617723</text>
<text x="859.8" y="482.8">LOC126670131</text>
<text x="859.8" y="483.3">LOC126457735</text>
<text x="859.8" y="483.9">LOC126801837</text>
<text x="859.8" y="484.4">LOC126399610</text>
<text x="859.8" y="484.9">LOC126680382</text>
<text x="859.8" y="485.5">LOC126853117</text>
<text x="859.8" y="486.0">LOC126477217</text>
<text x="859.8" y="486.6">LOC126513451</text>
<text x="859.8" y="487.1">LOC126177428</text>
<text x="859.8" y="487.6">LOC126080708</text>
<text x="859.8" y="488.2">LOC126379252</text>
<text x="859.8" y="488.7">LOC126650523</text>
<text x="859.8" y="489.3">LOC126097173</text>
<text x="859.8" y="489.8">LOC126047234</text>
<text x="859.8" y="490.4">LOC126593160</text>
<text x="859.8" y="490.9">LOC126205731</text>
<text x="859.8" y="491.4">LOC126758739</text>
<text x="859.8" y="492.0">LOC126337347</text>
<text x="859.8" y="492.5">LOC126435062</text>
<text x="859.8" y="493.1">LOC126560952</text>
<text x="859.8" y="493.6">LOC126302949</text>
<text x="859.8" y="494.1">LOC126778862</text>
<text x="859.8" y="494.7">LOC126438146</text>
<text x="859.8" y="495.2">LOC126228295</text>
<text x="859.8" y="495.8">LOC126023621</text>
<text x="859.8" y="496.3">LOC126976493</text>
<text x="859.8" y="496.8">LOC126246106</text>
<text x="859.8" y="497.4">LOC126104142</text>
<text x="859.8" y="497.9">LOC126261864</text>
<text x="859.8" y="498.5">LOC126891737</text>
<text x="859.8" y="499.0">LOC126895883</text>
<text x="859.8" y="499.6">LOC126619496</text>
<text x="859.8" y="500.1">LOC126243658</text>
<text x="859.8" y="500.6">LOC126410973</text>
<text x="859.8" y="501.2">LOC126507752</text>
<text x="859.8" y="501.7">LOC126753613</text>
<text x="859.8" y="502.3">LOC126866235</text>
<text x="859.8" y="502.8">LOC126567523</text>
<text x="859.8" y="503.3">LOC126341082</text>
<text x="859.8" y="503.9">LOC126696179</text>
<text x="859.8" y="504.4">LOC126759855</text>
<text x="859.8" y="505.0">LOC126652702</text>
<text x="859.8" y="505.5">LOC126651483</text>
<text x="859.8" y="506.1">LOC126393544</text>
<text x="859.8" y="506.6">LOC126219790</text>
<text x="859.8" y="507.1">LOC126309868</text>
<text x="859.8" y="507.7">LOC126401021</text>
<text x="859.8" y="508.2">LOC126302324</text>
<text x="859.8" y="508.8">LOC126300111</text>
<text x="859.8" y="509.3">LOC126327518</text>
<text x="859.8" y="509.8">LOC126554674</text>
<text x="859.8" y="510.4">LOC126501424</text>
<text x="859.8" y="510.9">LOC126119042</text>
<text x="859.8" y="511.5">LOC126558723</text>
<text x="859.8" y="512.0">LOC126980266</text>
<text x="859.8" y="512.5">LOC126403417</text>
<text x="859.8" y="513.1">LOC126119237</text>
<text x="859.8" y="513.6">LOC126739179</text>
<text x="859.8" y="514.2">LOC126620393</text>
<text x="859.8" y="514.7">LOC126173486</text>
<text x="859.8" y="515.3">LOC126885003</text>
<text x="859.8" y="515.8">LOC126038437</text>
<text x="859.8" y="516.3">LOC126932344</text>
<text x="859.8" y="516.9">LOC126220375</text>
<text x="859.8" y="517.4">LOC126465840</text>
<text x="859.8" y="518.0">LOC126951405</text>
<text x="859.8" y="518.5">LOC126832237</text>
<text x="859.8" y="519.0">LOC126035188</text>
<text x="859.8" y="519.6">LOC126578411</text>
<text x="859.8" y="520.1">LOC126196671</text>
<text x="859.8" y="520.7">LOC126483757</text>
<text x="859.8" y="521.2">LOC126658759</text>
<text x="859.8" y="521.7">LOC126017142</text>
<text x="859.8" y="522.3">LOC126082179</text>
<text x="859.8" y="522.8">LOC126041568</text>
<text x="859.8" y="523.4">LOC126126100</text>
<text x="859.8" y="523.9">LOC126428115</text>
<text x="859.8" y="524.5">LOC126289623</text>
<text x="859.8" y="525.0">LOC126266551</text>
<text x="859.8" y="525.5">LOC126378114</text>
<text x="859.8" y="526.1">LOC126673294</text>
<text x="859.8" y="526.6">LOC126763237</text>
<text x="859.8" y="527.2">LOC126185304</text>
<text x="859.8" y="527.7">LOC126872955</text>
<text x="859.8" y="528.2">LOC126253600</text>
<text x="859.8" y="528.8">LOC126395049</text>
<text x="859.8" y="529.3">LOC126005354</text>
<text x="859.8" y="529.9">LOC126545956</text>
<text x="859.8" y="530.4">LOC126641306</text>
<text x="859.8" y="530.9">LOC126930224</text>
<text x="859.8" y="531.5">LOC126485664</text>
<text x="859.8" y="532.0">LOC126238505</text>
<text x="859.8" y="532.6">LOC126252808</text>
<text x="859.8" y="533.1">LOC126757735</text>
<text x="859.8" y="533.7">LOC126531115</text>
<text x="859.8" y="534.2">LOC126003519</text>
<text x="859.8" y="534.7">LOC126170376</text>
<text x="859.8" y="535.3">LOC126476497</text>
<text x="859.8" y="535.8">LOC126554591</text>
<text x="859.8" y="536.4">LOC126998177</text>
<text x="859.8" y="536.9">LOC126603335</text>
<text x="859.8" y="537.4">LOC126851907</text>
<text x="859.8" y="538.0">LOC126996026</text>
<text x="859.8" y="538.5">LOC126128485</text>
<text x="859.8" y="539.1">LOC126139035</text>
<text x="859.8" y="539.6">LOC126626163</text>
<text x="859.8" y="540.1">LOC126545827</text>
<text x="859.8" y="540.7">LOC126880296</text>
<text x="859.8" y="541.2">LOC126822081</text>
<text x="859.8" y="541.8">LOC126950038</text>
<text x="859.8" y="542.3">LOC126083872</text>
<text x="859.8" y="542.9">LOC126832270</text>
<text x="859.8" y="543.4">LOC126629494</text>
<text x="859.8" y="543.9">LOC126363870</text>
<text x="859.8" y="544.5">LOC126105238</text>
<text x="859.8" y="545.0">LOC126438239</text>
<text x="859.8" y="545.6">LOC126239179</text>
<text x="859.8" y="546.1">LOC126346807</text>
<text x="859.8" y="546.6">LOC126071186</text>
<text x="859.8" y="547.2">LOC126257238</text>
<text x="859.8" y="547.7">LOC126563332</text>
<text x="859.8" y="548.3">LOC126659644</text>
<text x="859.8" y="548.8">LOC126237123</text>
<text x="859.8" y="549.3">LOC126951842</text>
<text x="859.8" y="549.9">LOC126677977</text>
<text x="859.8" y="550.4">LOC126478379</text>
<text x="859.8" y="551.0">LOC126828231</text>
<text x="859.8" y="551.5">LOC126561615</text>
<text x="859.8" y="552.1">LOC126655627</text>
<text x="859.8" y="552.6">LOC126980075</text>
<text x="859.8" y="553.1">LOC126866942</text>
<text x="859.8" y="553.7">LOC126802565</text>
<text x="859.8" y="554.2">LOC126993528</text>
<text x="859.8" y="554.8">LOC126862412</text>
<text x="859.8" y="555.3">LOC126095777</text>
<text x="859.8" y="555.8">LOC126458058</text>
<text x="859.8" y="556.4">LOC126857154</text>
<text x="859.8" y="556.9">LOC126699940</text>
<text x="859.8" y="557.5">LOC126561580</text>
<text x="859.8" y="558.0">LOC126454726</text>
<text x="859.8" y="558.5">LOC126013302</text>
<text x="859.8" y="559.1">LOC126243306</text>
<text x="859.8" y="559.6">LOC126411288</text>
<text x="859.8" y="560.2">LOC126126307</text>
<text x="859.8" y="560.7">LOC126661292</text>
<text x="859.8" y="561.3">LOC126401021</text>
<text x="859.8" y="561.8">LOC126005217</text>
<text x="859.8" y="562.3">LOC126212395</text>
<text x="859.8" y="562.9">LOC126351656</text>
<text x="859.8" y="563.4">LOC126647370</text>
<text x="859.8" y="564.0">LOC126222250</text>
<text x="859.8" y="564.5">LOC126789078</text>
<text x="859.8" y="565.0">LOC126907709</text>
<text x="859.8" y="565.6">LOC126568208</text>
<text x="859.8" y="566.1">LOC126827262</text>
<text x="859.8" y="566.7">LOC126088056</text>
<text x="859.8" y="567.2">LOC126396657</text>
<text x="859.8" y="567.7">LOC126992563</text>
<text x="859.8" y="568.3">LOC126439095</text>
<text x="859.8" y="568.8">LOC126584952</text>
<text x="859.8" y="569.4">LOC126987417</text>
<text x="859.8" y="569.9">LOC126026196</text>
<text x="859.8" y="570.5">LOC126498601</text>
<text x="859.8" y="571.0">LOC126921641</text>
<text x="859.8" y="571.5">LOC126967417</text>
<text x="859.8" y="572.1">LOC126510743</text>
<text x="859.8" y="572.6">LOC126144538</text>
<text x="859.8" y="573.2">LOC126886947</text>
<text x="859.8" y="573.7">LOC126567102</text>
<text x="859.8" y="574.2">LOC126409825</text>
<text x="859.8" y="574.8">LOC126634807</text>
<text x="859.8" y="575.3">LOC126701103</text>
<text x="859.8" y="575.9">LOC126797145</text>
<text x="859.8" y="576.4">LOC126922128</text>
<text x="859.8" y="576.9">LOC126452237</text>
<text x="859.8" y="577.5">LOC126344032</text>
<text x="859.8" y="578.0">LOC126941689</text>
<text x="859.8" y="578.6">LOC126731675</text>
<text x="859.8" y="579.1">LOC126063778</text>
<text x="859.8" y="579.7">LOC126342818</text>
<text x="859.8" y="580.2">LOC126562277</text>
<text x="859.8" y="580.7">LOC126749518</text>
<text x="859.8" y="581.3">LOC126795251</text>
<text x="859.8" y="581.8">LOC126561279</text>
<text x="859.8" y="582.4">LOC126456982</text>
<text x="859.8" y="582.9">LOC126505371</text>
<text x="859.8" y="583.4">LOC126475957</text>
<text x="859.8" y="584.0">LOC126382539</text>
<text x="859.8" y="584.5">LOC126344391</text>
<text x="859.8" y="585.1">LOC126603813</text>
<text x="859.8" y="585.6">LOC126881314</text>
<text x="859.8" y="586.2">LOC126139040</text>
<text x="859.8" y="586.7">LOC126614590</text>
<text x="859.8" y="587.2">LOC126865982</text>
<text x="859.8" y="587.8">LOC126093231</text>
<text x="859.8" y="588.3">LOC126314985</text>
<text x="859.8" y="588.9">LOC126660196</text>
<text x="859.8" y="589.4">LOC126148265</text>
<text x="859.8" y="589.9">LOC126000698</text>
<text x="859.8" y="590.5">LOC126625582</text>
<text x="859.8" y="591.0">LOC126554822</text>
<text x="859.8" y="591.6">LOC126222191</text>
<text x="859.8" y="592.1">LOC126248991</text>
<text x="859.8" y="592.6">LOC126876780</text>
<text x="859.8" y="593.2">LOC126036230</text>
<text x="859.8" y="593.7">LOC126353179</text>
<text x="859.8" y="594.3">LOC126665703</text>
<text x="859.8" y="594.8">LOC126078309</text>
<text x="859.8" y="595.4">LOC126231415</text>
<text x="859.8" y="595.9">LOC126151641</text>
<text x="859.8" y="596.4">LOC126873224</text>
<text x="859.8" y="597.0">LOC126651862</text>
<text x="859.8" y="597.5">LOC126907120</text>
<text x="859.8" y="598.1">LOC126480501</text>
<text x="859.8" y="598.6">LOC126838623</text>
<text x="859.8" y="599.1">LOC126364713</text>
<text x="859.8" y="599.7">LOC126703613</text>
<text x="859.8" y="600.2">LOC126618455</text>
<text x="859.8" y="600.8">LOC126345306</text>
<text x="859.8" y="601.3">LOC126661211</text>
<text x="859.8" y="601.8">LOC126083416</text>
<text x="859.8" y="602.4">LOC126874317</text>
<text x="859.8" y="602.9">LOC126974197</text>
<text x="859.8" y="603.5">LOC126221762</text>
<text x="859.8" y="604.0">LOC126029011</text>
<text x="859.8" y="604.6">LOC126530394</text>
<text x="859.8" y="605.1">LOC126525642</text>
<text x="859.8" y="605.6">LOC126772021</text>
<text x="859.8" y="606.2">LOC126863241</text>
<text x="859.8" y="606.7">LOC126161302</text>
<text x="859.8" y="607.3">LOC126051495</text>
<text x="859.8" y="607.8">LOC126897983</text>
<text x="859.8" y="608.3">LOC126483752</text>
<text x="859.8" y="608.9">LOC126558893</text>
<text x="859.8" y="609.4">LOC126948280</text>
<text x="859.8" y="610.0">LOC126669208</text>
<text x="859.8" y="610.5">LOC126441758</text>
<text x="859.8" y="611.0">LOC126738868</text>
<text x="859.8" y="611.6">LOC126446047</text>
<text x="859.8" y="612.1">LOC126537547</text>
<text x="859.8" y="612.7">LOC126515336</text>
<text x="859.8" y="613.2">LOC126450480</text>
<text x="859.8" y="613.8">LOC126556069</text>
<text x="859.8" y="614.3">LOC126843557</text>
<text x="859.8" y="614.8">LOC126127153</text>
<text x="859.8" y="615.4">LOC126470256</text>
<text x="859.8" y="615.9">LOC126746252</text>
<text x="859.8" y="616.5">LOC126225403</text>
<text x="859.8" y="617.0">LOC126502066</text>
</g>
<g class="cn" text-anchor="end" opacity="0.999">
<text transform="translate(130.8,621.6) rotate(-90) scale(0.958,1)">SGRE-THOX-CRD-1</text>
<text transform="translate(181.3,621.6) rotate(-90) scale(0.958,1)">SGRE-THOX-CRD-3</text>
<text transform="translate(231.9,621.6) rotate(-90) scale(0.958,1)">SGRE-THOX-CRD-4</text>
<text transform="translate(282.4,621.6) rotate(-90) scale(0.958,1)">SGRE-THOX-CRD-5</text>
<text transform="translate(333.0,621.6) rotate(-90) scale(0.958,1)">SGRE-THOX-CRD-6</text>
<text transform="translate(383.5,621.6) rotate(-90) scale(0.958,1)">SggfpT1</text>
<text transform="translate(434.1,621.6) rotate(-90) scale(0.958,1)">SggfpT2</text>
<text transform="translate(484.6,621.6) rotate(-90) scale(0.958,1)">SggfpT3</text>
<text transform="translate(535.2,621.6) rotate(-90) scale(0.958,1)">SggfpT4</text>
<text transform="translate(585.8,621.6) rotate(-90) scale(0.958,1)">SggfpT5</text>
<text transform="translate(636.3,621.6) rotate(-90) scale(0.958,1)">SgjhmtT1</text>
<text transform="translate(686.9,621.6) rotate(-90) scale(0.958,1)">SgjhmtT2</text>
<text transform="translate(737.4,621.6) rotate(-90) scale(0.958,1)">SgjhmtT3</text>
<text transform="translate(788.0,621.6) rotate(-90) scale(0.958,1)">SgjhmtT4</text>
<text transform="translate(838.5,621.6) rotate(-90) scale(0.958,1)">SgjhmtT5</text>
</g>
<g opacity="0.999"><text class="lt" x="1036.3" y="235.2">Z-Transformed Counts</text>
<defs><linearGradient id="lg" x1="0" y1="0" x2="0" y2="1">
<stop offset="0.0000" stop-color="#FA000E"/>
<stop offset="0.0167" stop-color="#FA000E"/>
<stop offset="0.0333" stop-color="#FA000E"/>
<stop offset="0.0500" stop-color="#FA000E"/>
<stop offset="0.0667" stop-color="#FA000E"/>
<stop offset="0.0833" stop-color="#FA000E"/>
<stop offset="0.1000" stop-color="#FA000E"/>
<stop offset="0.1167" stop-color="#FA000E"/>
<stop offset="0.1333" stop-color="#FC2118"/>
<stop offset="0.1500" stop-color="#FD3423"/>
<stop offset="0.1667" stop-color="#FF422C"/>
<stop offset="0.1833" stop-color="#FF4F36"/>
<stop offset="0.2000" stop-color="#FF5A3F"/>
<stop offset="0.2167" stop-color="#FF6448"/>
<stop offset="0.2333" stop-color="#FF6D52"/>
<stop offset="0.2500" stop-color="#FF775B"/>
<stop offset="0.2667" stop-color="#FF7F64"/>
<stop offset="0.2833" stop-color="#FF886E"/>
<stop offset="0.3000" stop-color="#FF9077"/>
<stop offset="0.3167" stop-color="#FF9980"/>
<stop offset="0.3333" stop-color="#FFA18A"/>
<stop offset="0.3500" stop-color="#FFA994"/>
<stop offset="0.3667" stop-color="#FFB19D"/>
<stop offset="0.3833" stop-color="#FFB8A7"/>
<stop offset="0.4000" stop-color="#FFC0B1"/>
<stop offset="0.4167" stop-color="#FEC8BB"/>
<stop offset="0.4333" stop-color="#FBCFC5"/>
<stop offset="0.4500" stop-color="#F9D7CF"/>
<stop offset="0.4667" stop-color="#F6DFD9"/>
<stop offset="0.4833" stop-color="#F2E6E3"/>
<stop offset="0.5000" stop-color="#EEEEEE"/>
<stop offset="0.5167" stop-color="#E9E5EF"/>
<stop offset="0.5333" stop-color="#E4DBF1"/>
<stop offset="0.5500" stop-color="#DFD2F2"/>
<stop offset="0.5667" stop-color="#D9C9F3"/>
<stop offset="0.5833" stop-color="#D4BFF4"/>
<stop offset="0.6000" stop-color="#CEB6F5"/>
<stop offset="0.6167" stop-color="#C8ADF6"/>
<stop offset="0.6333" stop-color="#C2A3F7"/>
<stop offset="0.6500" stop-color="#BB9AF8"/>
<stop offset="0.6667" stop-color="#B591F9"/>
<stop offset="0.6833" stop-color="#AE88F9"/>
<stop offset="0.7000" stop-color="#A67EFA"/>
<stop offset="0.7167" stop-color="#9F75FB"/>
<stop offset="0.7333" stop-color="#976CFB"/>
<stop offset="0.7500" stop-color="#8E63FC"/>
<stop offset="0.7667" stop-color="#8559FC"/>
<stop offset="0.7833" stop-color="#7B4FFD"/>
<stop offset="0.8000" stop-color="#7146FD"/>
<stop offset="0.8167" stop-color="#653BFE"/>
<stop offset="0.8333" stop-color="#5730FE"/>
<stop offset="0.8500" stop-color="#4624FE"/>
<stop offset="0.8667" stop-color="#2F15FF"/>
<stop offset="0.8833" stop-color="#0000FF"/>
<stop offset="0.9000" stop-color="#0000FF"/>
<stop offset="0.9167" stop-color="#0000FF"/>
<stop offset="0.9333" stop-color="#0000FF"/>
<stop offset="0.9500" stop-color="#0000FF"/>
<stop offset="0.9667" stop-color="#0000FF"/>
<stop offset="0.9833" stop-color="#0000FF"/>
<stop offset="1.0000" stop-color="#0000FF"/>
</linearGradient></defs>
<rect x="1037" y="248.3" width="32.4" height="161.4" fill="url(#lg)"/>
<path d="M1037 254.5h8M1061.4 254.5h8" stroke="#fff" stroke-width="1.8"/>
<text class="ll" x="1074.8" y="265.0">4</text>
<path d="M1037 291.8h8M1061.4 291.8h8" stroke="#fff" stroke-width="1.8"/>
<text class="ll" x="1074.8" y="302.3">2</text>
<path d="M1037 329.1h8M1061.4 329.1h8" stroke="#fff" stroke-width="1.8"/>
<text class="ll" x="1074.8" y="339.6">0</text>
<path d="M1037 366.3h8M1061.4 366.3h8" stroke="#fff" stroke-width="1.8"/>
<text class="ll" x="1074.8" y="376.8">-2</text>
<path d="M1037 403.6h8M1061.4 403.6h8" stroke="#fff" stroke-width="1.8"/>
<text class="ll" x="1074.8" y="414.1">-4</text>
</g></svg></body></html>
